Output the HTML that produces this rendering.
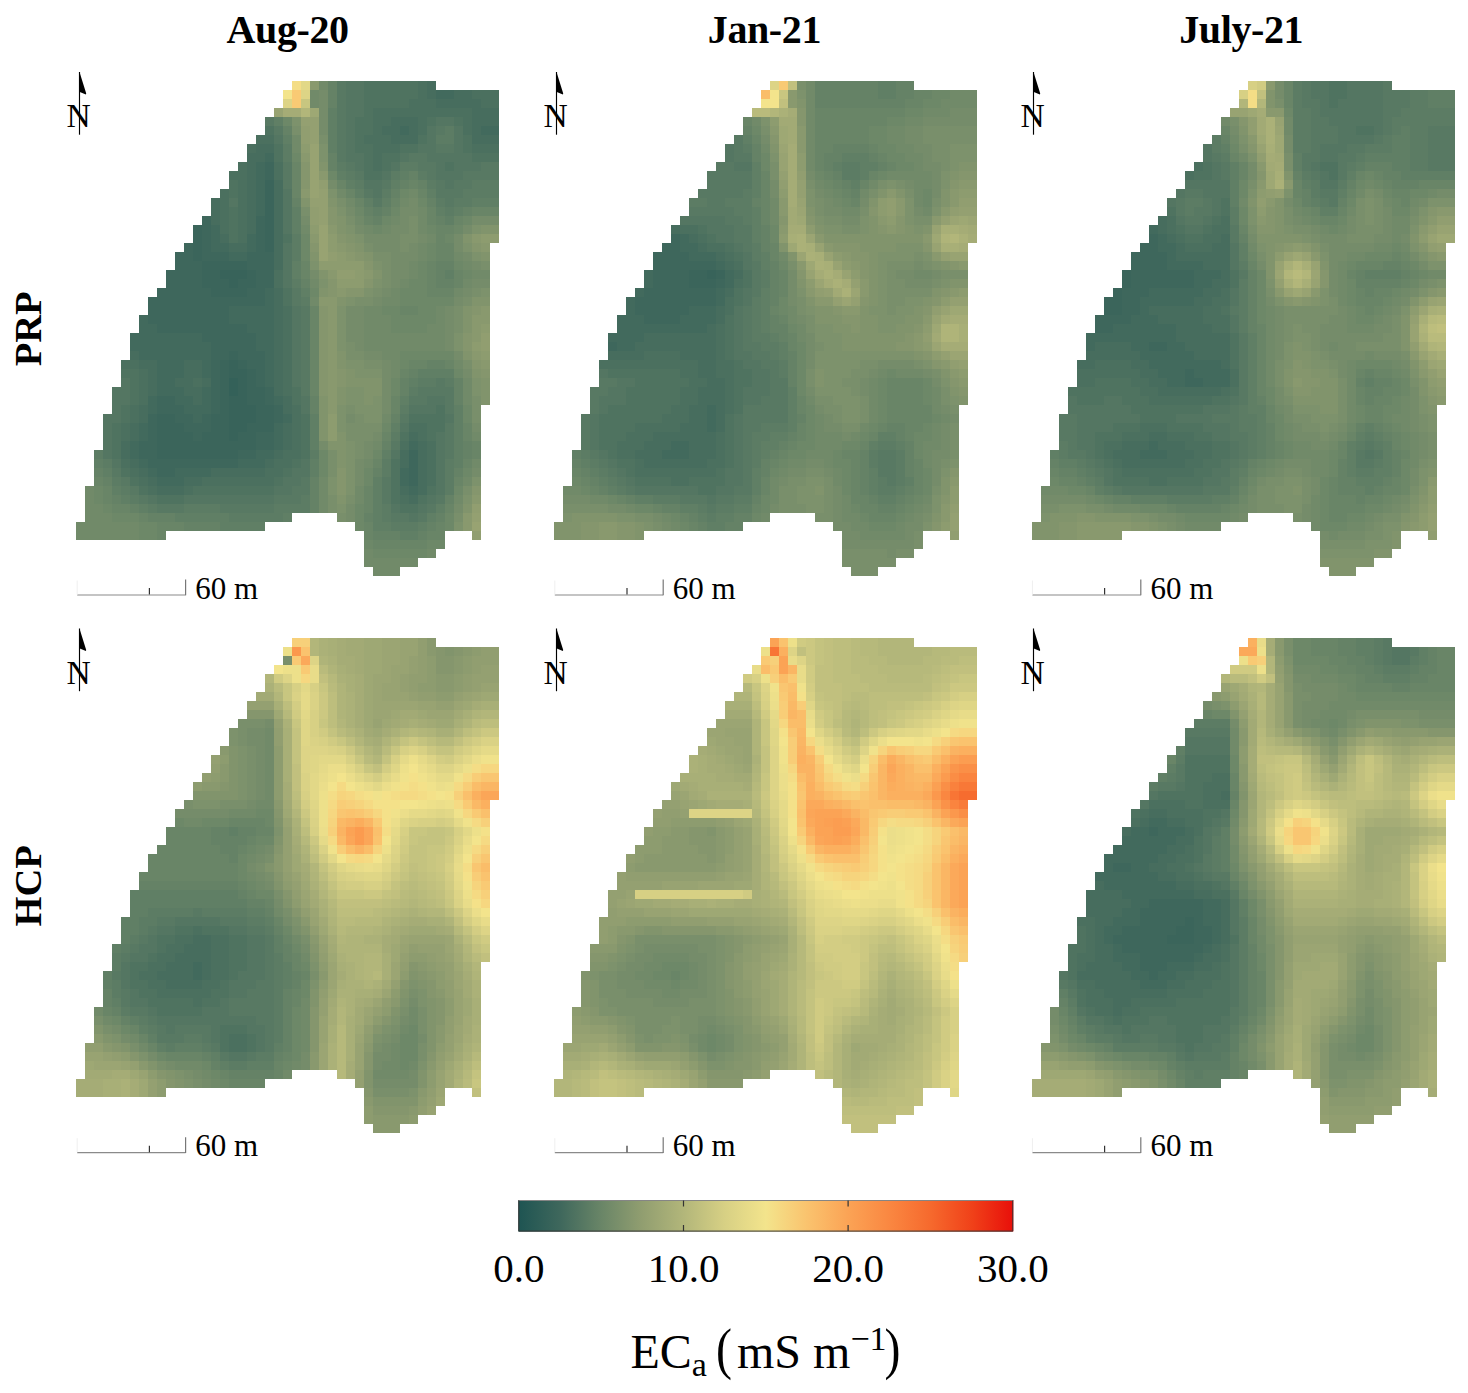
<!DOCTYPE html><html><head><meta charset="utf-8"><style>html,body{margin:0;padding:0;background:#fff;}svg{display:block;}</style></head><body><svg width="1468" height="1393" viewBox="0 0 1468 1393"><rect width="1468" height="1393" fill="#fff"/><text x="287.6" y="42.9" font-family="'Liberation Serif', serif" font-weight="bold" font-size="40" letter-spacing="-0.4" text-anchor="middle">Aug-20</text><text x="764.4" y="42.9" font-family="'Liberation Serif', serif" font-weight="bold" font-size="40" letter-spacing="-0.4" text-anchor="middle">Jan-21</text><text x="1241.2" y="42.9" font-family="'Liberation Serif', serif" font-weight="bold" font-size="40" letter-spacing="-0.4" text-anchor="middle">July-21</text><text transform="translate(41.4 328.8) rotate(-90)" font-family="'Liberation Serif', serif" font-weight="bold" font-size="38.6" text-anchor="middle">PRP</text><text transform="translate(41.4 885.8) rotate(-90)" font-family="'Liberation Serif', serif" font-weight="bold" font-size="38.6" text-anchor="middle">HCP</text><g transform="translate(76.2 81.4) scale(9)" shape-rendering="crispEdges"><path fill="#f4dd86" d="M24 0h1v1H24z"/><path fill="#e2d887" d="M25 0h1v1H25z"/><path fill="#89996e" d="M26 0h1v1H26zM25 8h1v1H25zM27 10h1v1H27zM25 12h1v1H25zM28 16h1v1H28zM26 17h1v1H26zM44 17h1v1H44zM29 18h1v1H29zM45 18h1v1H45zM30 19h1v1H30zM28 21h1v1H28zM32 21h1v1H32zM29 23h1v1H29zM27 24h2v1H27zM28 25h1v1H28zM45 25h1v1H45zM28 26h1v1H28zM44 26h2v1H44zM28 27h1v1H28zM44 27h1v1H44zM28 28h1v1H28zM44 28h1v1H44zM28 29h1v1H28zM28 30h1v1H28zM44 30h1v1H44zM28 31h1v1H28zM45 31h1v1H45zM28 32h1v1H28zM28 33h1v1H28zM28 34h1v1H28zM28 35h1v1H28zM28 36h1v1H28zM44 46h1v1H44zM43 48h1v1H43zM43 49h1v1H43z"/><path fill="#718a69" d="M27 0h1v1H27zM26 1h1v1H26zM26 2h1v1H26zM24 6h1v1H24zM24 7h1v1H24zM29 12h1v1H29zM37 12h1v1H37zM30 13h1v1H30zM36 13h1v1H36zM38 14h1v1H38zM31 15h1v1H31zM35 15h1v1H35zM38 15h1v1H38zM25 16h1v1H25zM32 16h1v1H32zM34 16h1v1H34zM38 16h1v1H38zM39 17h1v1H39zM38 18h1v1H38zM38 19h1v1H38zM42 19h1v1H42zM37 20h1v1H37zM43 20h1v1H43zM37 21h1v1H37zM44 21h2v1H44zM26 22h1v1H26zM36 22h1v1H36zM43 22h1v1H43zM35 23h1v1H35zM42 23h1v1H42zM26 24h1v1H26zM34 24h2v1H34zM32 25h2v1H32zM40 25h1v1H40zM32 26h3v1H32zM40 26h1v1H40zM32 27h3v1H32zM39 27h2v1H39zM32 28h9v1H32zM32 29h9v1H32zM34 30h2v1H34zM35 31h1v1H35zM42 31h1v1H42zM35 32h1v1H35zM43 33h1v1H43zM43 34h1v1H43zM43 35h1v1H43zM34 37h1v1H34zM44 39h1v1H44zM33 40h1v1H33zM32 42h1v1H32zM44 42h1v1H44zM27 44h1v1H27zM43 44h1v1H43zM1 45h1v1H1zM27 45h1v1H27zM31 45h1v1H31zM1 46h1v1H1zM27 46h1v1H27zM31 46h1v1H31zM42 46h1v1H42zM1 47h2v1H1zM27 47h1v1H27zM1 48h3v1H1zM0 49h7v1H0zM0 50h7v1H0zM32 52h1v1H32zM39 52h1v1H39zM32 53h6v1H32zM33 54h3v1H33z"/><path fill="#658266" d="M28 0h1v1H28zM28 1h1v1H28zM28 2h1v1H28zM23 5h1v1H23zM28 8h1v1H28zM28 9h1v1H28zM37 10h1v1H37zM36 11h1v1H36zM38 11h1v1H38zM35 12h1v1H35zM24 13h1v1H24zM39 13h1v1H39zM32 14h1v1H32zM34 14h1v1H34zM43 14h1v1H43zM33 15h1v1H33zM40 15h1v1H40zM40 20h2v1H40zM40 21h1v1H40zM25 22h1v1H25zM40 22h2v1H40zM39 31h2v1H39zM37 32h1v1H37zM36 33h1v1H36zM42 33h1v1H42zM36 34h1v1H36zM42 34h1v1H42zM26 35h1v1H26zM42 35h1v1H42zM26 36h1v1H26zM35 37h1v1H35zM34 40h1v1H34zM43 40h1v1H43zM43 41h1v1H43zM2 43h1v1H2zM33 43h1v1H33zM42 43h1v1H42zM3 44h1v1H3zM26 44h1v1H26zM26 45h1v1H26zM4 46h1v1H4zM26 46h1v1H26zM41 46h1v1H41zM6 47h1v1H6zM26 47h1v1H26zM8 48h3v1H8zM32 48h1v1H32zM40 48h1v1H40zM12 49h4v1H12zM39 49h1v1H39zM33 50h3v1H33zM38 50h1v1H38z"/><path fill="#587963" d="M29 0h1v1H29zM29 1h1v1H29zM29 2h1v1H29zM29 3h1v1H29zM21 4h1v1H21zM29 4h1v1H29zM22 5h1v1H22zM29 5h1v1H29zM40 5h1v1H40zM29 6h1v1H29zM29 7h1v1H29zM40 7h2v1H40zM29 8h1v1H29zM37 8h2v1H37zM23 9h1v1H23zM30 9h1v1H30zM38 9h2v1H38zM45 9h2v1H45zM23 10h1v1H23zM31 10h1v1H31zM39 10h1v1H39zM43 10h4v1H43zM23 11h1v1H23zM34 11h1v1H34zM40 11h1v1H40zM42 11h2v1H42zM32 12h1v1H32zM40 12h3v1H40zM33 13h1v1H33zM41 13h1v1H41zM24 23h1v1H24zM24 24h1v1H24zM25 25h1v1H25zM25 26h1v1H25zM25 27h1v1H25zM25 28h1v1H25zM25 29h1v1H25zM25 30h1v1H25zM25 31h1v1H25zM25 32h1v1H25zM25 33h1v1H25zM40 33h1v1H40zM25 34h1v1H25zM38 34h4v1H38zM37 35h2v1H37zM41 35h1v1H41zM41 36h1v1H41zM36 37h1v1H36zM41 38h1v1H41zM41 39h1v1H41zM35 40h1v1H35zM41 40h1v1H41zM41 41h1v1H41zM4 43h1v1H4zM5 44h1v1H5zM25 44h1v1H25zM34 44h1v1H34zM6 45h1v1H6zM24 45h2v1H24zM34 45h1v1H34zM7 46h1v1H7zM22 46h3v1H22zM34 46h1v1H34zM40 46h1v1H40zM9 47h3v1H9zM16 47h6v1H16zM39 47h1v1H39zM35 48h2v1H35zM38 48h1v1H38z"/><path fill="#547662" d="M30 0h2v1H30zM30 1h2v1H30zM30 2h2v1H30zM30 3h2v1H30zM30 4h1v1H30zM40 4h2v1H40zM30 5h1v1H30zM39 5h1v1H39zM42 5h1v1H42zM22 6h1v1H22zM30 6h1v1H30zM39 6h1v1H39zM42 6h1v1H42zM30 7h1v1H30zM38 7h2v1H38zM42 7h1v1H42zM30 8h2v1H30zM36 8h1v1H36zM39 8h5v1H39zM31 9h1v1H31zM35 9h1v1H35zM40 9h1v1H40zM42 9h3v1H42zM34 10h1v1H34zM40 10h3v1H40zM32 11h2v1H32zM41 11h1v1H41zM23 12h1v1H23zM33 12h1v1H33zM17 13h1v1H17zM23 13h1v1H23zM23 14h1v1H23zM23 15h1v1H23zM23 16h1v1H23zM23 18h1v1H23zM23 19h1v1H23zM23 20h1v1H23zM23 21h1v1H23zM23 22h1v1H23zM24 25h1v1H24zM24 26h1v1H24zM24 27h1v1H24zM24 28h1v1H24zM24 29h1v1H24zM24 30h1v1H24zM24 31h1v1H24zM24 32h1v1H24zM5 33h1v1H5zM24 33h1v1H24zM4 34h2v1H4zM4 35h2v1H4zM25 35h1v1H25zM39 35h2v1H39zM4 36h1v1H4zM25 36h1v1H25zM37 36h3v1H37zM3 37h2v1H3zM41 37h1v1H41zM3 38h1v1H3zM36 38h1v1H36zM3 39h1v1H3zM40 39h1v1H40zM3 40h1v1H3zM40 40h1v1H40zM3 41h1v1H3zM35 41h1v1H35zM40 41h1v1H40zM4 42h1v1H4zM25 42h1v1H25zM40 42h1v1H40zM24 43h2v1H24zM40 43h1v1H40zM23 44h2v1H23zM40 44h1v1H40zM22 45h2v1H22zM40 45h1v1H40zM8 46h1v1H8zM12 46h10v1H12zM39 46h1v1H39zM35 47h1v1H35zM38 47h1v1H38zM37 48h1v1H37z"/><path fill="#4f7360" d="M32 0h6v1H32zM32 1h6v1H32zM32 2h5v1H32zM32 3h1v1H32zM31 4h2v1H31zM39 4h1v1H39zM42 4h1v1H42zM21 5h1v1H21zM31 5h2v1H31zM31 6h1v1H31zM38 6h1v1H38zM43 6h1v1H43zM22 7h1v1H22zM31 7h2v1H31zM36 7h2v1H36zM43 7h1v1H43zM22 8h1v1H22zM32 8h1v1H32zM34 8h2v1H34zM44 8h3v1H44zM32 9h1v1H32zM34 9h1v1H34zM41 9h1v1H41zM32 10h2v1H32zM17 11h1v1H17zM17 12h1v1H17zM17 14h1v1H17zM17 15h1v1H17zM17 16h1v1H17zM17 17h1v1H17zM23 17h1v1H23zM23 23h1v1H23zM23 24h1v1H23zM5 32h2v1H5zM6 33h1v1H6zM6 34h1v1H6zM24 34h1v1H24zM6 35h1v1H6zM24 35h1v1H24zM5 36h1v1H5zM40 36h1v1H40zM5 37h1v1H5zM25 37h1v1H25zM37 37h4v1H37zM4 38h1v1H4zM25 38h1v1H25zM39 38h2v1H39zM4 39h1v1H4zM25 39h1v1H25zM36 39h1v1H36zM39 39h1v1H39zM4 40h1v1H4zM25 40h1v1H25zM4 41h1v1H4zM25 41h1v1H25zM24 42h1v1H24zM35 42h1v1H35zM5 43h1v1H5zM23 43h1v1H23zM35 43h1v1H35zM6 44h1v1H6zM22 44h1v1H22zM35 44h1v1H35zM7 45h1v1H7zM13 45h9v1H13zM35 45h1v1H35zM39 45h1v1H39zM9 46h3v1H9zM35 46h1v1H35zM38 46h1v1H38zM36 47h2v1H36z"/><path fill="#4b705f" d="M38 0h1v1H38zM38 1h1v1H38zM44 1h3v1H44zM37 2h3v1H37zM45 2h2v1H45zM33 3h11v1H33zM33 4h2v1H33zM38 4h1v1H38zM43 4h1v1H43zM33 5h1v1H33zM38 5h1v1H38zM43 5h1v1H43zM20 6h2v1H20zM32 6h3v1H32zM19 7h1v1H19zM33 7h3v1H33zM44 7h3v1H44zM33 8h1v1H33zM18 9h1v1H18zM22 9h1v1H22zM33 9h1v1H33zM17 10h2v1H17zM22 10h1v1H22zM18 11h1v1H18zM16 12h1v1H16zM18 12h1v1H18zM16 13h1v1H16zM18 13h1v1H18zM16 14h1v1H16zM18 14h1v1H18zM16 15h1v1H16zM18 15h1v1H18zM16 16h1v1H16zM18 16h1v1H18zM18 17h1v1H18zM22 21h1v1H22zM22 22h1v1H22zM23 25h1v1H23zM23 26h1v1H23zM23 27h1v1H23zM23 28h1v1H23zM23 29h1v1H23zM23 30h1v1H23zM5 31h2v1H5zM23 31h1v1H23zM7 32h1v1H7zM23 32h1v1H23zM7 33h1v1H7zM13 33h1v1H13zM23 33h1v1H23zM7 34h1v1H7zM23 34h1v1H23zM7 35h1v1H7zM6 36h1v1H6zM24 36h1v1H24zM6 37h1v1H6zM24 37h1v1H24zM5 38h1v1H5zM24 38h1v1H24zM37 38h2v1H37zM5 39h1v1H5zM24 39h1v1H24zM38 39h1v1H38zM24 40h1v1H24zM36 40h1v1H36zM39 40h1v1H39zM23 41h2v1H23zM39 41h1v1H39zM5 42h1v1H5zM22 42h2v1H22zM39 42h1v1H39zM6 43h1v1H6zM21 43h2v1H21zM39 43h1v1H39zM7 44h1v1H7zM14 44h8v1H14zM39 44h1v1H39zM8 45h1v1H8zM12 45h1v1H12zM36 46h1v1H36z"/><path fill="#476d5e" d="M39 0h1v1H39zM39 1h1v1H39zM42 1h2v1H42zM40 2h5v1H40zM44 3h3v1H44zM35 4h3v1H35zM44 4h3v1H44zM34 5h2v1H34zM37 5h1v1H37zM44 5h1v1H44zM35 6h3v1H35zM44 6h3v1H44zM20 7h2v1H20zM19 8h2v1H19zM19 9h1v1H19zM19 10h1v1H19zM19 11h1v1H19zM22 11h1v1H22zM19 12h1v1H19zM22 12h1v1H22zM15 13h1v1H15zM19 13h1v1H19zM22 13h1v1H22zM15 14h1v1H15zM19 14h1v1H19zM22 14h1v1H22zM15 15h1v1H15zM19 15h1v1H19zM22 15h1v1H22zM19 16h1v1H19zM22 16h1v1H22zM16 17h1v1H16zM22 17h1v1H22zM17 18h2v1H17zM22 18h1v1H22zM22 19h1v1H22zM22 20h1v1H22zM22 23h1v1H22zM22 24h1v1H22zM22 25h1v1H22zM22 26h1v1H22zM22 27h1v1H22zM22 28h1v1H22zM22 29h1v1H22zM6 30h1v1H6zM22 30h1v1H22zM7 31h2v1H7zM12 31h2v1H12zM22 31h1v1H22zM8 32h1v1H8zM12 32h2v1H12zM22 32h1v1H22zM8 33h1v1H8zM11 33h2v1H11zM14 33h1v1H14zM22 33h1v1H22zM8 34h1v1H8zM12 34h2v1H12zM22 34h1v1H22zM13 35h1v1H13zM23 35h1v1H23zM7 36h1v1H7zM23 36h1v1H23zM7 37h1v1H7zM6 38h1v1H6zM23 38h1v1H23zM6 39h1v1H6zM23 39h1v1H23zM37 39h1v1H37zM5 40h1v1H5zM23 40h1v1H23zM38 40h1v1H38zM5 41h1v1H5zM22 41h1v1H22zM36 41h1v1H36zM38 41h1v1H38zM6 42h1v1H6zM21 42h1v1H21zM36 42h1v1H36zM38 42h1v1H38zM7 43h1v1H7zM15 43h6v1H15zM38 43h1v1H38zM8 44h1v1H8zM12 44h2v1H12zM38 44h1v1H38zM9 45h3v1H9zM36 45h1v1H36zM38 45h1v1H38zM37 46h1v1H37z"/><path fill="#f3e48c" d="M23 1h1v1H23z"/><path fill="#f9ca74" d="M24 1h1v1H24zM24 2h1v1H24z"/><path fill="#ddd486" d="M25 1h1v1H25zM23 2h1v1H23z"/><path fill="#758c6a" d="M27 1h1v1H27zM27 2h1v1H27zM27 3h1v1H27zM27 4h1v1H27zM27 5h1v1H27zM28 11h1v1H28zM37 13h1v1H37zM30 14h1v1H30zM36 14h2v1H36zM25 15h1v1H25zM36 15h1v1H36zM44 15h3v1H44zM31 16h1v1H31zM35 16h2v1H35zM43 16h1v1H43zM32 17h4v1H32zM38 17h1v1H38zM42 17h1v1H42zM33 18h3v1H33zM37 18h1v1H37zM42 18h1v1H42zM35 19h3v1H35zM43 19h1v1H43zM35 20h2v1H35zM44 20h1v1H44zM26 21h1v1H26zM35 21h2v1H35zM35 22h1v1H35zM44 22h2v1H44zM34 23h1v1H34zM43 23h1v1H43zM33 24h1v1H33zM42 24h1v1H42zM30 25h2v1H30zM41 25h1v1H41zM30 26h2v1H30zM41 26h1v1H41zM30 27h2v1H30zM41 27h1v1H41zM30 28h2v1H30zM41 28h1v1H41zM31 29h1v1H31zM41 29h1v1H41zM32 30h2v1H32zM42 30h1v1H42zM34 31h1v1H34zM34 32h1v1H34zM43 32h1v1H43zM34 33h1v1H34zM34 34h1v1H34zM34 35h1v1H34zM34 36h1v1H34zM30 37h1v1H30zM44 38h1v1H44zM33 39h1v1H33zM27 40h1v1H27zM32 40h1v1H32zM32 41h1v1H32zM31 42h1v1H31zM31 43h1v1H31zM44 43h1v1H44zM31 44h1v1H31zM30 47h1v1H30zM42 47h1v1H42zM30 48h1v1H30z"/><path fill="#426a5d" d="M40 1h2v1H40zM36 5h1v1H36zM45 5h2v1H45zM21 8h1v1H21zM20 9h1v1H20zM20 10h1v1H20zM20 11h1v1H20zM20 12h1v1H20zM20 13h1v1H20zM20 14h1v1H20zM15 16h1v1H15zM15 17h1v1H15zM19 17h1v1H19zM15 18h2v1H15zM19 18h1v1H19zM17 19h2v1H17zM21 23h1v1H21zM21 24h1v1H21zM17 25h5v1H17zM7 26h1v1H7zM17 26h5v1H17zM7 27h2v1H7zM19 27h3v1H19zM6 28h8v1H6zM20 28h2v1H20zM6 29h9v1H6zM20 29h2v1H20zM7 30h8v1H7zM21 30h1v1H21zM9 31h3v1H9zM14 31h1v1H14zM21 31h1v1H21zM9 32h3v1H9zM14 32h1v1H14zM21 32h1v1H21zM9 33h2v1H9zM21 33h1v1H21zM9 34h3v1H9zM14 34h1v1H14zM8 35h1v1H8zM11 35h2v1H11zM14 35h1v1H14zM22 35h1v1H22zM8 36h1v1H8zM12 36h3v1H12zM13 37h1v1H13zM23 37h1v1H23zM7 38h1v1H7zM22 38h1v1H22zM7 39h1v1H7zM22 39h1v1H22zM6 40h1v1H6zM22 40h1v1H22zM37 40h1v1H37zM6 41h1v1H6zM20 41h2v1H20zM7 42h1v1H7zM18 42h3v1H18zM8 43h1v1H8zM11 43h4v1H11zM36 43h1v1H36zM9 44h3v1H9zM36 44h1v1H36zM37 45h1v1H37z"/><path fill="#c8c680" d="M25 2h1v1H25z"/><path fill="#98a372" d="M22 3h1v1H22zM26 7h1v1H26zM26 8h1v1H26zM26 9h1v1H26zM26 10h1v1H26zM26 11h1v1H26zM26 12h1v1H26zM27 16h1v1H27zM27 17h1v1H27zM27 18h1v1H27zM27 19h1v1H27zM44 49h1v1H44z"/><path fill="#a5ac76" d="M23 3h2v1H23z"/><path fill="#b2b67a" d="M25 3h1v1H25z"/><path fill="#9ea874" d="M26 3h1v1H26z"/><path fill="#607f65" d="M28 3h1v1H28zM22 4h1v1H22zM28 4h1v1H28zM28 5h1v1H28zM23 6h1v1H23zM28 6h1v1H28zM28 7h1v1H28zM29 10h1v1H29zM36 10h1v1H36zM30 11h1v1H30zM35 11h1v1H35zM31 12h1v1H31zM39 12h1v1H39zM32 13h1v1H32zM34 13h1v1H34zM44 13h3v1H44zM24 14h1v1H24zM33 14h1v1H33zM40 14h1v1H40zM42 14h1v1H42zM24 15h1v1H24zM41 15h1v1H41zM24 16h1v1H24zM24 20h1v1H24zM24 21h1v1H24zM41 21h1v1H41zM25 23h1v1H25zM38 32h4v1H38zM37 33h1v1H37zM36 35h1v1H36zM42 36h1v1H42zM26 37h1v1H26zM42 37h1v1H42zM26 38h1v1H26zM35 38h1v1H35zM42 38h1v1H42zM26 39h1v1H26zM42 39h1v1H42zM26 40h1v1H26zM42 40h1v1H42zM34 41h1v1H34zM42 41h1v1H42zM2 42h1v1H2zM26 42h1v1H26zM42 42h1v1H42zM3 43h1v1H3zM26 43h1v1H26zM33 44h1v1H33zM4 45h1v1H4zM33 45h1v1H33zM5 46h1v1H5zM33 46h1v1H33zM7 47h1v1H7zM33 47h1v1H33zM40 47h1v1H40zM11 48h6v1H11zM23 48h1v1H23zM33 48h1v1H33zM39 48h1v1H39zM16 49h5v1H16zM33 49h2v1H33zM38 49h1v1H38zM36 50h2v1H36z"/><path fill="#6d8868" d="M23 4h1v1H23zM24 8h1v1H24zM28 10h1v1H28zM36 12h1v1H36zM38 13h1v1H38zM31 14h1v1H31zM35 14h1v1H35zM34 15h1v1H34zM43 15h1v1H43zM33 16h1v1H33zM39 16h1v1H39zM42 16h1v1H42zM25 17h1v1H25zM41 17h1v1H41zM25 18h1v1H25zM39 18h1v1H39zM25 19h1v1H25zM39 19h1v1H39zM38 20h1v1H38zM42 20h1v1H42zM38 21h1v1H38zM43 21h1v1H43zM37 22h2v1H37zM26 23h1v1H26zM36 23h3v1H36zM36 24h6v1H36zM34 25h2v1H34zM38 25h2v1H38zM35 26h5v1H35zM35 27h4v1H35zM36 30h6v1H36zM36 31h1v1H36zM42 32h1v1H42zM35 33h1v1H35zM35 34h1v1H35zM43 36h1v1H43zM43 37h1v1H43zM34 38h1v1H34zM27 41h1v1H27zM33 41h1v1H33zM27 42h1v1H27zM27 43h1v1H27zM32 43h1v1H32zM43 43h1v1H43zM32 44h1v1H32zM2 45h1v1H2zM42 45h1v1H42zM2 46h1v1H2zM3 47h1v1H3zM31 47h1v1H31zM4 48h3v1H4zM31 48h1v1H31zM41 48h1v1H41zM7 49h2v1H7zM31 49h1v1H31zM41 49h1v1H41zM7 50h2v1H7zM32 51h1v1H32zM39 51h2v1H39zM33 52h6v1H33z"/><path fill="#7d926c" d="M24 4h1v1H24zM27 7h1v1H27zM27 8h1v1H27zM28 12h1v1H28zM29 14h1v1H29zM30 16h1v1H30zM44 16h1v1H44zM31 17h1v1H31zM43 18h1v1H43zM44 19h1v1H44zM26 20h1v1H26zM33 20h1v1H33zM27 22h1v1H27zM33 22h1v1H33zM32 23h1v1H32zM45 23h1v1H45zM30 24h1v1H30zM29 25h1v1H29zM29 26h1v1H29zM29 27h1v1H29zM29 28h1v1H29zM42 28h1v1H42zM29 29h1v1H29zM42 29h1v1H42zM30 31h2v1H30zM31 32h3v1H31zM44 33h1v1H44zM30 34h2v1H30zM44 34h1v1H44zM30 35h2v1H30zM33 35h1v1H33zM29 36h1v1H29zM31 36h3v1H31zM29 37h1v1H29zM32 37h2v1H32zM29 38h1v1H29zM30 40h1v1H30zM30 41h1v1H30zM30 42h1v1H30zM30 43h1v1H30zM28 44h1v1H28zM30 44h1v1H30zM44 44h1v1H44zM28 45h1v1H28zM30 45h1v1H30zM43 46h1v1H43zM29 47h1v1H29zM42 49h1v1H42z"/><path fill="#94a071" d="M25 4h2v1H25zM26 5h1v1H26zM26 6h1v1H26zM27 12h1v1H27zM26 13h2v1H26zM27 14h1v1H27zM27 15h1v1H27zM44 48h1v1H44z"/><path fill="#798f6b" d="M24 5h1v1H24zM27 6h1v1H27zM29 13h1v1H29zM25 14h1v1H25zM30 15h1v1H30zM37 15h1v1H37zM37 16h1v1H37zM36 17h2v1H36zM32 18h1v1H32zM36 18h1v1H36zM33 19h2v1H33zM34 20h1v1H34zM45 20h1v1H45zM34 21h1v1H34zM34 22h1v1H34zM33 23h1v1H33zM44 23h1v1H44zM31 24h2v1H31zM43 24h1v1H43zM42 25h1v1H42zM42 26h1v1H42zM42 27h1v1H42zM30 29h1v1H30zM30 30h2v1H30zM32 31h2v1H32zM43 31h1v1H43zM44 35h1v1H44zM30 36h1v1H30zM44 36h1v1H44zM31 37h1v1H31zM44 37h1v1H44zM30 38h4v1H30zM30 39h3v1H30zM31 40h1v1H31zM28 41h1v1H28zM31 41h1v1H31zM28 42h1v1H28zM28 43h1v1H28zM43 45h1v1H43zM28 46h1v1H28zM30 46h1v1H30zM28 47h1v1H28zM29 48h1v1H29zM42 48h1v1H42z"/><path fill="#919e70" d="M25 5h1v1H25zM25 6h1v1H25zM27 11h1v1H27zM26 14h1v1H26zM26 15h1v1H26zM28 19h1v1H28zM29 21h2v1H29zM45 28h1v1H45zM45 29h1v1H45zM44 47h1v1H44zM44 50h1v1H44z"/><path fill="#5c7c64" d="M41 5h1v1H41zM40 6h2v1H40zM23 7h1v1H23zM23 8h1v1H23zM29 9h1v1H29zM36 9h2v1H36zM30 10h1v1H30zM35 10h1v1H35zM38 10h1v1H38zM31 11h1v1H31zM39 11h1v1H39zM44 11h3v1H44zM34 12h1v1H34zM43 12h4v1H43zM40 13h1v1H40zM42 13h2v1H42zM41 14h1v1H41zM24 17h1v1H24zM24 18h1v1H24zM24 19h1v1H24zM24 22h1v1H24zM25 24h1v1H25zM38 33h2v1H38zM41 33h1v1H41zM37 34h1v1H37zM36 36h1v1H36zM35 39h1v1H35zM2 41h1v1H2zM26 41h1v1H26zM3 42h1v1H3zM34 42h1v1H34zM41 42h1v1H41zM34 43h1v1H34zM41 43h1v1H41zM4 44h1v1H4zM41 44h1v1H41zM5 45h1v1H5zM41 45h1v1H41zM6 46h1v1H6zM25 46h1v1H25zM8 47h1v1H8zM12 47h4v1H12zM22 47h4v1H22zM34 47h1v1H34zM17 48h6v1H17zM34 48h1v1H34zM35 49h3v1H35z"/><path fill="#8d9c6f" d="M25 7h1v1H25zM26 16h1v1H26zM28 17h1v1H28zM45 17h2v1H45zM28 18h1v1H28zM29 19h1v1H29zM27 20h5v1H27zM31 21h1v1H31zM29 22h3v1H29zM45 27h1v1H45zM44 29h1v1H44zM45 30h1v1H45zM28 37h1v1H28zM28 38h1v1H28zM28 39h1v1H28z"/><path fill="#3e675c" d="M21 9h1v1H21zM21 10h1v1H21zM14 15h1v1H14zM20 15h1v1H20zM14 16h1v1H14zM20 16h1v1H20zM14 17h1v1H14zM20 17h1v1H20zM12 18h1v1H12zM14 18h1v1H14zM20 18h1v1H20zM11 19h2v1H11zM14 19h3v1H14zM19 19h3v1H19zM11 20h3v1H11zM19 20h3v1H19zM10 21h4v1H10zM20 21h2v1H20zM10 22h4v1H10zM20 22h2v1H20zM9 23h6v1H9zM19 23h2v1H19zM8 24h13v1H8zM8 25h9v1H8zM8 26h9v1H8zM9 27h10v1H9zM14 28h6v1H14zM15 29h5v1H15zM15 30h2v1H15zM18 30h3v1H18zM15 31h1v1H15zM19 31h2v1H19zM15 32h1v1H15zM20 32h1v1H20zM15 33h1v1H15zM20 33h1v1H20zM15 34h1v1H15zM21 34h1v1H21zM9 35h2v1H9zM15 35h1v1H15zM21 35h1v1H21zM9 36h3v1H9zM15 36h1v1H15zM22 36h1v1H22zM8 37h1v1H8zM11 37h2v1H11zM14 37h1v1H14zM22 37h1v1H22zM8 38h1v1H8zM12 38h3v1H12zM8 39h1v1H8zM13 39h1v1H13zM20 39h2v1H20zM7 40h2v1H7zM20 40h2v1H20zM7 41h2v1H7zM18 41h2v1H18zM37 41h1v1H37zM8 42h10v1H8zM37 42h1v1H37zM9 43h2v1H9zM37 43h1v1H37zM37 44h1v1H37z"/><path fill="#698567" d="M24 9h1v1H24zM24 10h1v1H24zM24 11h1v1H24zM29 11h1v1H29zM37 11h1v1H37zM24 12h1v1H24zM30 12h1v1H30zM38 12h1v1H38zM31 13h1v1H31zM35 13h1v1H35zM39 14h1v1H39zM44 14h3v1H44zM32 15h1v1H32zM39 15h1v1H39zM42 15h1v1H42zM40 16h2v1H40zM40 17h1v1H40zM40 18h2v1H40zM40 19h2v1H40zM25 20h1v1H25zM39 20h1v1H39zM25 21h1v1H25zM39 21h1v1H39zM42 21h1v1H42zM39 22h1v1H39zM42 22h1v1H42zM39 23h3v1H39zM26 25h1v1H26zM36 25h2v1H36zM26 26h1v1H26zM26 27h1v1H26zM26 28h1v1H26zM26 29h1v1H26zM26 30h1v1H26zM26 31h1v1H26zM37 31h2v1H37zM41 31h1v1H41zM26 32h1v1H26zM36 32h1v1H36zM26 33h1v1H26zM26 34h1v1H26zM35 35h1v1H35zM35 36h1v1H35zM43 38h1v1H43zM34 39h1v1H34zM43 39h1v1H43zM44 40h1v1H44zM44 41h1v1H44zM33 42h1v1H33zM43 42h1v1H43zM2 44h1v1H2zM42 44h1v1H42zM3 45h1v1H3zM32 45h1v1H32zM3 46h1v1H3zM32 46h1v1H32zM4 47h2v1H4zM32 47h1v1H32zM41 47h1v1H41zM7 48h1v1H7zM9 49h3v1H9zM32 49h1v1H32zM40 49h1v1H40zM9 50h1v1H9zM32 50h1v1H32zM39 50h2v1H39zM33 51h6v1H33z"/><path fill="#85966d" d="M25 9h1v1H25zM25 10h1v1H25zM25 11h1v1H25zM28 14h1v1H28zM28 15h1v1H28zM29 17h1v1H29zM26 18h1v1H26zM30 18h1v1H30zM44 18h1v1H44zM31 19h1v1H31zM32 20h1v1H32zM28 22h1v1H28zM32 22h1v1H32zM28 23h1v1H28zM30 23h2v1H30zM27 25h1v1H27zM44 25h1v1H44zM27 26h1v1H27zM27 27h1v1H27zM27 28h1v1H27zM43 28h1v1H43zM27 29h1v1H27zM43 29h1v1H43zM27 30h1v1H27zM27 31h1v1H27zM44 31h1v1H44zM27 32h1v1H27zM29 32h1v1H29zM45 32h1v1H45zM27 33h1v1H27zM29 33h1v1H29zM27 34h1v1H27zM29 43h1v1H29zM29 44h1v1H29zM29 45h1v1H29zM44 45h1v1H44z"/><path fill="#81946c" d="M27 9h1v1H27zM25 13h1v1H25zM28 13h1v1H28zM29 15h1v1H29zM29 16h1v1H29zM45 16h2v1H45zM30 17h1v1H30zM43 17h1v1H43zM31 18h1v1H31zM26 19h1v1H26zM32 19h1v1H32zM45 19h1v1H45zM27 21h1v1H27zM33 21h1v1H33zM27 23h1v1H27zM29 24h1v1H29zM44 24h2v1H44zM43 25h1v1H43zM43 26h1v1H43zM43 27h1v1H43zM29 30h1v1H29zM43 30h1v1H43zM29 31h1v1H29zM30 32h1v1H30zM44 32h1v1H44zM30 33h4v1H30zM45 33h1v1H45zM29 34h1v1H29zM32 34h2v1H32zM45 34h1v1H45zM27 35h1v1H27zM29 35h1v1H29zM32 35h1v1H32zM45 35h1v1H45zM27 36h1v1H27zM27 37h1v1H27zM27 38h1v1H27zM27 39h1v1H27zM29 39h1v1H29zM28 40h2v1H28zM29 41h1v1H29zM29 42h1v1H29zM29 46h1v1H29zM43 47h1v1H43z"/><path fill="#3b655b" d="M21 11h1v1H21zM21 12h1v1H21zM21 13h1v1H21zM21 14h1v1H21zM21 15h1v1H21zM13 16h1v1H13zM21 16h1v1H21zM13 17h1v1H13zM21 17h1v1H21zM13 18h1v1H13zM21 18h1v1H21zM13 19h1v1H13zM14 20h5v1H14zM14 21h2v1H14zM19 21h1v1H19zM14 22h3v1H14zM18 22h2v1H18zM15 23h4v1H15zM17 30h1v1H17zM16 31h1v1H16zM18 31h1v1H18zM16 32h1v1H16zM19 32h1v1H19zM16 33h1v1H16zM19 33h1v1H19zM16 34h1v1H16zM19 34h2v1H19zM16 35h1v1H16zM19 35h2v1H19zM16 36h1v1H16zM20 36h2v1H20zM9 37h2v1H9zM15 37h2v1H15zM20 37h2v1H20zM9 38h3v1H9zM15 38h2v1H15zM19 38h3v1H19zM9 39h4v1H9zM14 39h3v1H14zM18 39h2v1H18zM9 40h11v1H9zM9 41h9v1H9z"/><path fill="#38635a" d="M16 21h3v1H16zM17 22h1v1H17zM17 31h1v1H17zM17 32h2v1H17zM18 33h1v1H18zM18 34h1v1H18zM17 35h2v1H17zM17 36h3v1H17zM17 37h3v1H17zM17 38h2v1H17zM17 39h1v1H17z"/><path fill="#346159" d="M17 33h1v1H17zM17 34h1v1H17z"/></g><g transform="translate(79.5 72.0)"><path d="M0 0 L0 62.7" stroke="#000" stroke-width="1.15"/><path d="M0 0 L6.7 21.6 L6.4 22.6 L0.3 19.9 Z" fill="#000"/><text x="-0.8" y="55" font-family="'Liberation Serif', serif" font-size="33.5" text-anchor="middle" fill="#000">N</text></g><g transform="translate(77.2 594.5)"><path d="M0 0.5H108.4" stroke="#8a8a8a" stroke-width="1.2"/><path d="M0 -14V0" stroke="#efefef" stroke-width="1"/><path d="M72.2 -6.5V0" stroke="#333" stroke-width="1.2"/><path d="M108.4 -15V0.8" stroke="#777" stroke-width="1.2"/><text x="118" y="4" font-family="'Liberation Serif', serif" font-size="31" fill="#000">60 m</text></g><g transform="translate(554.0 81.4) scale(9)" shape-rendering="crispEdges"><path fill="#ddd486" d="M24 0h1v1H24z"/><path fill="#f9ca74" d="M25 0h1v1H25z"/><path fill="#c1c07e" d="M26 0h1v1H26zM25 2h1v1H25z"/><path fill="#798f6b" d="M27 0h1v1H27zM23 5h1v1H23zM41 5h6v1H41zM41 6h6v1H41zM42 7h2v1H42zM42 8h2v1H42zM24 9h1v1H24zM43 9h1v1H43zM24 10h1v1H24zM28 11h1v1H28zM36 11h1v1H36zM38 11h1v1H38zM35 12h1v1H35zM39 12h1v1H39zM29 13h1v1H29zM42 13h1v1H42zM29 14h1v1H29zM34 14h1v1H34zM30 15h2v1H30zM40 15h2v1H40zM32 16h2v1H32zM40 19h1v1H40zM26 20h1v1H26zM37 20h3v1H37zM41 20h1v1H41zM37 21h1v1H37zM43 21h3v1H43zM37 22h2v1H37zM42 22h1v1H42zM37 23h5v1H37zM27 24h1v1H27zM37 24h2v1H37zM27 25h1v1H27zM37 25h1v1H37zM28 26h1v1H28zM28 27h1v1H28zM29 29h1v1H29zM34 31h2v1H34zM40 31h1v1H40zM28 32h1v1H28zM33 32h2v1H33zM42 32h1v1H42zM28 33h1v1H28zM32 33h2v1H32zM33 34h1v1H33zM43 34h1v1H43zM29 35h2v1H29zM34 35h1v1H34zM43 35h1v1H43zM30 36h2v1H30zM34 36h1v1H34zM44 36h1v1H44zM31 37h1v1H31zM34 37h1v1H34zM32 38h2v1H32zM44 38h1v1H44zM44 39h1v1H44zM44 40h1v1H44zM44 41h1v1H44zM43 42h1v1H43zM28 43h2v1H28zM26 44h2v1H26zM30 44h1v1H30zM25 45h2v1H25zM30 45h1v1H30zM42 45h1v1H42zM25 46h2v1H25zM30 46h1v1H30zM1 47h5v1H1zM25 47h3v1H25zM30 47h1v1H30zM9 48h2v1H9zM29 48h2v1H29zM41 48h1v1H41zM11 49h1v1H11zM40 50h1v1H40zM40 51h1v1H40zM32 52h5v1H32zM38 52h2v1H38zM32 53h6v1H32zM33 54h3v1H33z"/><path fill="#718a69" d="M28 0h1v1H28zM28 1h1v1H28zM44 1h3v1H44zM28 2h1v1H28zM43 2h4v1H43zM28 3h1v1H28zM41 3h3v1H41zM22 4h1v1H22zM28 4h1v1H28zM39 4h2v1H39zM28 5h1v1H28zM37 5h2v1H37zM28 6h1v1H28zM37 6h2v1H37zM23 7h1v1H23zM28 7h1v1H28zM38 7h2v1H38zM28 8h1v1H28zM39 8h2v1H39zM28 9h1v1H28zM40 9h1v1H40zM37 10h5v1H37zM29 11h1v1H29zM35 11h1v1H35zM40 11h2v1H40zM30 12h1v1H30zM34 12h1v1H34zM40 12h1v1H40zM24 13h1v1H24zM31 13h1v1H31zM40 13h1v1H40zM24 14h1v1H24zM32 14h2v1H32zM41 14h1v1H41zM24 15h1v1H24zM25 19h1v1H25zM40 21h2v1H40zM26 25h1v1H26zM26 26h1v1H26zM27 27h1v1H27zM27 28h1v1H27zM36 32h1v1H36zM38 32h3v1H38zM35 33h1v1H35zM35 34h1v1H35zM42 34h1v1H42zM28 35h1v1H28zM35 35h1v1H35zM42 35h1v1H42zM35 36h1v1H35zM42 36h1v1H42zM29 37h1v1H29zM35 37h1v1H35zM43 37h1v1H43zM29 38h1v1H29zM34 38h1v1H34zM42 38h1v1H42zM29 39h3v1H29zM33 39h1v1H33zM42 39h1v1H42zM29 40h3v1H29zM41 40h2v1H41zM28 41h3v1H28zM41 41h1v1H41zM26 42h2v1H26zM30 42h1v1H30zM41 42h1v1H41zM25 43h1v1H25zM31 43h1v1H31zM24 44h1v1H24zM31 44h1v1H31zM1 45h2v1H1zM24 45h1v1H24zM4 46h2v1H4zM24 46h1v1H24zM32 46h1v1H32zM41 46h1v1H41zM8 47h1v1H8zM32 47h1v1H32zM40 47h1v1H40zM12 48h1v1H12zM23 48h1v1H23zM32 48h2v1H32zM39 48h1v1H39zM13 49h1v1H13zM33 49h2v1H33zM38 49h1v1H38zM34 50h5v1H34z"/><path fill="#658266" d="M29 0h7v1H29zM38 0h2v1H38zM29 1h7v1H29zM38 1h2v1H38zM29 2h10v1H29zM21 5h1v1H21zM22 7h1v1H22zM31 7h4v1H31zM22 8h1v1H22zM30 8h2v1H30zM35 8h1v1H35zM30 9h1v1H30zM36 9h1v1H36zM31 10h1v1H31zM32 11h1v1H32zM33 12h1v1H33zM22 13h1v1H22zM23 16h1v1H23zM23 17h1v1H23zM23 18h1v1H23zM24 20h1v1H24zM24 21h1v1H24zM24 22h1v1H24zM24 23h1v1H24zM24 24h1v1H24zM24 26h1v1H24zM24 27h2v1H24zM25 28h1v1H25zM26 30h1v1H26zM26 31h1v1H26zM26 32h1v1H26zM26 33h1v1H26zM27 37h1v1H27zM37 38h2v1H37zM26 39h1v1H26zM38 39h1v1H38zM25 40h1v1H25zM39 40h1v1H39zM24 41h1v1H24zM34 41h1v1H34zM39 41h1v1H39zM2 42h1v1H2zM23 42h1v1H23zM34 42h1v1H34zM39 42h1v1H39zM3 43h1v1H3zM23 43h1v1H23zM34 43h1v1H34zM39 43h1v1H39zM4 44h1v1H4zM34 44h1v1H34zM5 45h1v1H5zM34 45h1v1H34zM39 45h1v1H39zM8 46h1v1H8zM22 46h1v1H22zM35 46h1v1H35zM38 46h1v1H38zM12 47h2v1H12zM36 47h2v1H36zM15 48h1v1H15zM20 48h2v1H20zM16 49h1v1H16zM19 49h2v1H19z"/><path fill="#607f65" d="M36 0h2v1H36zM36 1h2v1H36zM21 6h1v1H21zM32 8h3v1H32zM22 9h1v1H22zM31 9h1v1H31zM34 9h2v1H34zM22 10h1v1H22zM34 10h1v1H34zM22 11h1v1H22zM33 11h1v1H33zM22 12h1v1H22zM22 14h1v1H22zM22 15h1v1H22zM22 16h1v1H22zM22 17h1v1H22zM23 19h1v1H23zM23 20h1v1H23zM23 23h1v1H23zM23 24h1v1H23zM23 25h1v1H23zM23 26h1v1H23zM23 27h1v1H23zM24 28h1v1H24zM25 29h1v1H25zM25 30h1v1H25zM26 34h1v1H26zM26 35h1v1H26zM26 36h1v1H26zM26 37h1v1H26zM26 38h1v1H26zM24 39h2v1H24zM36 39h2v1H36zM23 40h2v1H23zM35 40h1v1H35zM38 40h1v1H38zM2 41h1v1H2zM23 41h1v1H23zM3 42h1v1H3zM4 43h1v1H4zM22 43h1v1H22zM35 43h1v1H35zM5 44h1v1H5zM22 44h1v1H22zM35 44h1v1H35zM39 44h1v1H39zM6 45h1v1H6zM22 45h1v1H22zM35 45h1v1H35zM38 45h1v1H38zM9 46h2v1H9zM36 46h2v1H36zM14 47h2v1H14zM20 47h2v1H20zM16 48h1v1H16zM18 48h2v1H18zM17 49h2v1H17z"/><path fill="#fabd69" d="M23 1h1v1H23z"/><path fill="#f3e48c" d="M24 1h1v1H24zM23 2h2v1H23z"/><path fill="#c8c680" d="M25 1h1v1H25z"/><path fill="#89996e" d="M26 1h1v1H26zM26 2h1v1H26zM24 5h1v1H24zM27 5h1v1H27zM27 6h1v1H27zM27 7h1v1H27zM45 11h2v1H45zM37 12h1v1H37zM44 12h1v1H44zM25 13h1v1H25zM38 13h1v1H38zM44 13h1v1H44zM25 14h1v1H25zM38 14h1v1H38zM43 14h1v1H43zM36 15h1v1H36zM42 15h1v1H42zM25 16h1v1H25zM37 16h1v1H37zM29 17h1v1H29zM41 17h1v1H41zM30 18h1v1H30zM32 19h1v1H32zM42 19h1v1H42zM27 20h1v1H27zM33 20h1v1H33zM45 20h1v1H45zM34 22h1v1H34zM28 23h1v1H28zM34 23h1v1H34zM44 23h1v1H44zM29 24h2v1H29zM32 25h2v1H32zM41 26h1v1H41zM40 28h1v1H40zM40 29h1v1H40zM43 31h1v1H43zM44 32h1v1H44zM45 33h1v1H45zM44 44h1v1H44zM43 47h1v1H43zM43 48h1v1H43zM5 49h2v1H5zM5 50h2v1H5z"/><path fill="#7d926c" d="M27 1h1v1H27zM23 4h1v1H23zM44 7h3v1H44zM24 8h1v1H24zM44 8h3v1H44zM44 9h1v1H44zM43 10h1v1H43zM37 11h1v1H37zM43 11h1v1H43zM28 12h1v1H28zM28 13h1v1H28zM39 13h1v1H39zM39 14h1v1H39zM42 14h1v1H42zM29 15h1v1H29zM34 15h1v1H34zM39 15h1v1H39zM30 16h2v1H30zM34 16h1v1H34zM40 16h1v1H40zM38 18h3v1H38zM36 19h4v1H36zM41 19h1v1H41zM36 20h1v1H36zM42 20h1v1H42zM36 21h1v1H36zM36 22h1v1H36zM43 22h1v1H43zM27 23h1v1H27zM36 23h1v1H36zM36 24h1v1H36zM39 24h2v1H39zM28 25h1v1H28zM35 25h2v1H35zM38 25h2v1H38zM36 26h3v1H36zM29 27h2v1H29zM36 27h2v1H36zM29 28h3v1H29zM30 29h2v1H30zM29 30h11v1H29zM29 31h5v1H29zM41 31h1v1H41zM30 32h3v1H30zM30 33h2v1H30zM43 33h1v1H43zM29 34h4v1H29zM31 35h3v1H31zM44 35h1v1H44zM32 36h2v1H32zM32 37h2v1H32zM44 42h1v1H44zM43 43h1v1H43zM28 44h2v1H28zM27 45h2v1H27zM27 46h3v1H27zM42 46h1v1H42zM28 47h2v1H28zM42 47h1v1H42zM1 48h1v1H1zM7 48h2v1H7zM10 49h1v1H10zM41 49h1v1H41z"/><path fill="#698567" d="M40 1h2v1H40zM39 2h2v1H39zM29 3h10v1H29zM21 4h1v1H21zM29 4h8v1H29zM29 5h6v1H29zM22 6h1v1H22zM29 6h6v1H29zM29 7h2v1H29zM35 7h1v1H35zM29 8h1v1H29zM36 8h1v1H36zM29 9h1v1H29zM37 9h1v1H37zM23 10h1v1H23zM30 10h1v1H30zM35 10h1v1H35zM23 11h1v1H23zM31 11h1v1H31zM34 11h1v1H34zM23 12h1v1H23zM32 12h1v1H32zM23 13h1v1H23zM33 13h1v1H33zM23 14h1v1H23zM23 15h1v1H23zM24 18h1v1H24zM24 19h1v1H24zM25 21h1v1H25zM25 22h1v1H25zM25 23h1v1H25zM24 25h1v1H24zM25 26h1v1H25zM26 28h1v1H26zM26 29h1v1H26zM37 33h4v1H37zM37 34h4v1H37zM27 35h1v1H27zM37 35h4v1H37zM27 36h1v1H27zM37 36h5v1H37zM37 37h5v1H37zM27 38h1v1H27zM36 38h1v1H36zM39 38h2v1H39zM27 39h1v1H27zM35 39h1v1H35zM39 39h1v1H39zM26 40h1v1H26zM34 40h1v1H34zM25 41h1v1H25zM32 41h2v1H32zM24 42h1v1H24zM33 42h1v1H33zM40 42h1v1H40zM2 43h1v1H2zM33 43h1v1H33zM40 43h1v1H40zM3 44h1v1H3zM23 44h1v1H23zM33 44h1v1H33zM40 44h1v1H40zM4 45h1v1H4zM23 45h1v1H23zM33 45h1v1H33zM40 45h1v1H40zM7 46h1v1H7zM33 46h2v1H33zM39 46h1v1H39zM11 47h1v1H11zM22 47h1v1H22zM34 47h2v1H34zM38 47h1v1H38zM14 48h1v1H14zM35 48h3v1H35zM15 49h1v1H15z"/><path fill="#6d8868" d="M42 1h2v1H42zM41 2h2v1H41zM39 3h2v1H39zM37 4h2v1H37zM22 5h1v1H22zM35 5h2v1H35zM35 6h2v1H35zM36 7h2v1H36zM23 8h1v1H23zM37 8h2v1H37zM23 9h1v1H23zM38 9h2v1H38zM29 10h1v1H29zM36 10h1v1H36zM30 11h1v1H30zM31 12h1v1H31zM41 12h1v1H41zM32 13h1v1H32zM41 13h1v1H41zM24 16h1v1H24zM24 17h1v1H24zM25 20h1v1H25zM25 24h1v1H25zM25 25h1v1H25zM26 27h1v1H26zM27 29h1v1H27zM27 30h1v1H27zM27 31h1v1H27zM27 32h1v1H27zM37 32h1v1H37zM27 33h1v1H27zM36 33h1v1H36zM41 33h1v1H41zM27 34h1v1H27zM36 34h1v1H36zM41 34h1v1H41zM36 35h1v1H36zM41 35h1v1H41zM28 36h1v1H28zM36 36h1v1H36zM28 37h1v1H28zM36 37h1v1H36zM42 37h1v1H42zM28 38h1v1H28zM35 38h1v1H35zM41 38h1v1H41zM28 39h1v1H28zM34 39h1v1H34zM40 39h2v1H40zM27 40h2v1H27zM32 40h2v1H32zM40 40h1v1H40zM26 41h2v1H26zM31 41h1v1H31zM40 41h1v1H40zM25 42h1v1H25zM31 42h2v1H31zM24 43h1v1H24zM32 43h1v1H32zM41 43h1v1H41zM2 44h1v1H2zM32 44h1v1H32zM41 44h1v1H41zM3 45h1v1H3zM32 45h1v1H32zM41 45h1v1H41zM6 46h1v1H6zM23 46h1v1H23zM40 46h1v1H40zM9 47h2v1H9zM23 47h1v1H23zM33 47h1v1H33zM39 47h1v1H39zM13 48h1v1H13zM22 48h1v1H22zM34 48h1v1H34zM38 48h1v1H38zM14 49h1v1H14zM35 49h3v1H35z"/><path fill="#81946c" d="M27 2h1v1H27zM24 7h1v1H24zM45 9h2v1H45zM44 10h1v1H44zM36 12h1v1H36zM38 12h1v1H38zM43 12h1v1H43zM35 13h1v1H35zM43 13h1v1H43zM28 14h1v1H28zM35 15h1v1H35zM29 16h1v1H29zM35 16h1v1H35zM39 16h1v1H39zM41 16h1v1H41zM30 17h11v1H30zM25 18h1v1H25zM34 18h4v1H34zM26 19h1v1H26zM35 19h1v1H35zM35 20h1v1H35zM43 20h1v1H43zM35 21h1v1H35zM27 22h1v1H27zM35 22h1v1H35zM44 22h2v1H44zM35 23h1v1H35zM42 23h1v1H42zM28 24h1v1H28zM35 24h1v1H35zM41 24h1v1H41zM29 25h2v1H29zM34 25h1v1H34zM40 25h1v1H40zM29 26h3v1H29zM34 26h2v1H34zM39 26h2v1H39zM31 27h2v1H31zM34 27h2v1H34zM38 27h2v1H38zM32 28h7v1H32zM32 29h6v1H32zM40 30h1v1H40zM29 32h1v1H29zM43 32h1v1H43zM29 33h1v1H29zM44 34h1v1H44zM45 35h1v1H45zM43 44h1v1H43zM29 45h1v1H29zM43 45h1v1H43zM2 48h5v1H2zM42 48h1v1H42zM0 49h3v1H0zM9 49h1v1H9zM0 50h3v1H0zM9 50h1v1H9z"/><path fill="#b9bb7c" d="M22 3h2v1H22z"/><path fill="#b2b67a" d="M24 3h1v1H24zM44 17h1v1H44z"/><path fill="#abb178" d="M25 3h1v1H25zM27 17h1v1H27zM45 17h1v1H45zM27 18h1v1H27zM28 19h1v1H28zM29 20h1v1H29zM30 21h1v1H30zM31 22h1v1H31zM32 23h1v1H32z"/><path fill="#a5ac76" d="M26 3h1v1H26zM26 7h1v1H26zM26 8h1v1H26zM26 9h1v1H26zM26 10h1v1H26zM26 11h1v1H26zM26 12h1v1H26zM26 13h1v1H26zM26 16h2v1H26zM45 16h1v1H45zM46 17h1v1H46zM45 18h1v1H45zM29 21h1v1H29zM31 21h1v1H31zM30 22h1v1H30zM32 22h1v1H32zM44 26h2v1H44zM43 29h3v1H43z"/><path fill="#85966d" d="M27 3h1v1H27zM27 4h1v1H27zM24 6h1v1H24zM45 10h2v1H45zM44 11h1v1H44zM35 14h1v1H35zM25 15h1v1H25zM28 15h1v1H28zM38 15h1v1H38zM36 16h1v1H36zM38 16h1v1H38zM31 18h3v1H31zM41 18h1v1H41zM33 19h2v1H33zM34 20h1v1H34zM44 20h1v1H44zM27 21h1v1H27zM34 21h1v1H34zM43 23h1v1H43zM34 24h1v1H34zM42 24h1v1H42zM31 25h1v1H31zM41 25h1v1H41zM32 26h2v1H32zM33 27h1v1H33zM40 27h1v1H40zM39 28h1v1H39zM38 29h2v1H38zM41 30h1v1H41zM42 31h1v1H42zM44 33h1v1H44zM45 34h1v1H45zM44 43h1v1H44zM43 46h1v1H43zM3 49h2v1H3zM7 49h2v1H7zM42 49h1v1H42zM3 50h2v1H3zM7 50h2v1H7z"/><path fill="#758c6a" d="M44 3h3v1H44zM41 4h6v1H41zM39 5h2v1H39zM23 6h1v1H23zM39 6h2v1H39zM40 7h2v1H40zM41 8h1v1H41zM41 9h2v1H41zM28 10h1v1H28zM42 10h1v1H42zM24 11h1v1H24zM39 11h1v1H39zM42 11h1v1H42zM24 12h1v1H24zM29 12h1v1H29zM42 12h1v1H42zM30 13h1v1H30zM34 13h1v1H34zM30 14h2v1H30zM40 14h1v1H40zM32 15h2v1H32zM40 20h1v1H40zM26 21h1v1H26zM38 21h2v1H38zM42 21h1v1H42zM26 22h1v1H26zM39 22h3v1H39zM26 23h1v1H26zM26 24h1v1H26zM27 26h1v1H27zM28 28h1v1H28zM28 29h1v1H28zM28 30h1v1H28zM28 31h1v1H28zM36 31h4v1H36zM35 32h1v1H35zM41 32h1v1H41zM34 33h1v1H34zM42 33h1v1H42zM28 34h1v1H28zM34 34h1v1H34zM29 36h1v1H29zM43 36h1v1H43zM30 37h1v1H30zM44 37h1v1H44zM30 38h2v1H30zM43 38h1v1H43zM32 39h1v1H32zM43 39h1v1H43zM43 40h1v1H43zM42 41h2v1H42zM28 42h2v1H28zM42 42h1v1H42zM26 43h2v1H26zM30 43h1v1H30zM42 43h1v1H42zM25 44h1v1H25zM42 44h1v1H42zM31 45h1v1H31zM1 46h3v1H1zM31 46h1v1H31zM6 47h2v1H6zM24 47h1v1H24zM31 47h1v1H31zM41 47h1v1H41zM11 48h1v1H11zM31 48h1v1H31zM40 48h1v1H40zM12 49h1v1H12zM31 49h2v1H31zM39 49h2v1H39zM32 50h2v1H32zM39 50h1v1H39zM32 51h8v1H32zM37 52h1v1H37z"/><path fill="#8d9c6f" d="M24 4h1v1H24zM27 8h1v1H27zM27 9h1v1H27zM25 12h1v1H25zM45 12h2v1H45zM36 13h1v1H36zM36 14h1v1H36zM37 15h1v1H37zM28 16h1v1H28zM25 17h1v1H25zM31 19h1v1H31zM32 20h1v1H32zM33 21h1v1H33zM28 22h1v1H28zM45 23h1v1H45zM43 24h1v1H43zM41 27h1v1H41zM41 29h1v1H41zM42 30h1v1H42zM45 32h1v1H45zM44 45h1v1H44zM44 46h1v1H44zM43 49h1v1H43z"/><path fill="#a2aa75" d="M25 4h2v1H25zM26 5h1v1H26zM26 6h1v1H26zM26 14h1v1H26zM26 15h1v1H26zM46 16h1v1H46zM31 23h1v1H31zM43 26h1v1H43zM42 28h1v1H42z"/><path fill="#9ea874" d="M25 5h1v1H25zM25 6h1v1H25zM27 15h1v1H27zM45 15h1v1H45zM42 17h1v1H42zM26 18h1v1H26zM28 20h1v1H28zM44 25h2v1H44zM42 27h1v1H42z"/><path fill="#587963" d="M20 6h1v1H20zM20 7h1v1H20zM20 8h2v1H20zM18 9h2v1H18zM17 10h5v1H17zM17 11h5v1H17zM16 12h5v1H16zM17 13h2v1H17zM15 14h5v1H15zM19 15h2v1H19zM20 16h2v1H20zM20 17h2v1H20zM21 18h1v1H21zM22 20h1v1H22zM22 21h1v1H22zM22 22h1v1H22zM22 23h1v1H22zM21 25h1v1H21zM21 26h1v1H21zM21 27h1v1H21zM21 28h1v1H21zM21 29h2v1H21zM22 30h2v1H22zM23 31h2v1H23zM24 32h1v1H24zM5 33h2v1H5zM24 33h2v1H24zM4 34h2v1H4zM24 34h2v1H24zM4 35h1v1H4zM23 35h3v1H23zM4 36h1v1H4zM21 36h5v1H21zM3 37h1v1H3zM21 37h5v1H21zM3 38h1v1H3zM21 38h2v1H21zM3 39h1v1H3zM21 39h1v1H21zM3 40h1v1H3zM21 40h1v1H21zM4 41h1v1H4zM21 41h1v1H21zM36 41h2v1H36zM5 42h1v1H5zM21 42h1v1H21zM36 42h2v1H36zM6 43h1v1H6zM21 43h1v1H21zM36 43h2v1H36zM7 44h1v1H7zM21 44h1v1H21zM37 44h1v1H37zM8 45h1v1H8zM20 45h2v1H20zM14 46h3v1H14zM18 46h2v1H18zM17 47h1v1H17z"/><path fill="#547662" d="M19 7h1v1H19zM19 8h1v1H19zM20 9h2v1H20zM14 15h5v1H14zM17 16h3v1H17zM18 17h2v1H18zM20 18h1v1H20zM21 19h1v1H21zM21 20h1v1H21zM21 23h1v1H21zM21 24h1v1H21zM20 25h1v1H20zM20 26h1v1H20zM20 27h1v1H20zM20 28h1v1H20zM20 29h1v1H20zM20 30h2v1H20zM21 31h2v1H21zM5 32h1v1H5zM22 32h2v1H22zM7 33h2v1H7zM22 33h2v1H22zM6 34h2v1H6zM21 34h3v1H21zM5 35h3v1H5zM21 35h2v1H21zM5 36h1v1H5zM4 37h1v1H4zM20 37h1v1H20zM4 38h1v1H4zM20 38h1v1H20zM4 39h1v1H4zM20 39h1v1H20zM4 40h1v1H4zM20 40h1v1H20zM5 41h1v1H5zM20 41h1v1H20zM6 42h1v1H6zM20 42h1v1H20zM7 43h1v1H7zM19 43h2v1H19zM8 44h1v1H8zM19 44h2v1H19zM9 45h7v1H9zM18 45h2v1H18zM17 46h1v1H17z"/><path fill="#5c7c64" d="M21 7h1v1H21zM32 9h2v1H32zM32 10h2v1H32zM21 12h1v1H21zM15 13h2v1H15zM19 13h3v1H19zM20 14h2v1H20zM21 15h1v1H21zM22 18h1v1H22zM22 19h1v1H22zM23 21h1v1H23zM23 22h1v1H23zM22 24h1v1H22zM22 25h1v1H22zM22 26h1v1H22zM22 27h1v1H22zM22 28h2v1H22zM23 29h2v1H23zM24 30h1v1H24zM25 31h1v1H25zM25 32h1v1H25zM23 38h3v1H23zM22 39h2v1H22zM22 40h1v1H22zM36 40h2v1H36zM3 41h1v1H3zM22 41h1v1H22zM35 41h1v1H35zM38 41h1v1H38zM4 42h1v1H4zM22 42h1v1H22zM35 42h1v1H35zM38 42h1v1H38zM5 43h1v1H5zM38 43h1v1H38zM6 44h1v1H6zM36 44h1v1H36zM38 44h1v1H38zM7 45h1v1H7zM36 45h2v1H36zM11 46h3v1H11zM20 46h2v1H20zM16 47h1v1H16zM18 47h2v1H18zM17 48h1v1H17z"/><path fill="#9ba573" d="M25 7h1v1H25zM27 14h1v1H27zM44 15h1v1H44zM46 15h1v1H46zM28 17h1v1H28zM27 19h1v1H27zM29 22h1v1H29zM33 23h1v1H33zM32 24h1v1H32zM42 29h1v1H42zM44 30h2v1H44z"/><path fill="#98a372" d="M25 8h1v1H25zM25 9h1v1H25zM27 13h1v1H27zM42 16h1v1H42zM29 18h1v1H29zM42 18h1v1H42zM30 19h1v1H30zM44 19h2v1H44zM31 20h1v1H31zM28 21h1v1H28zM32 21h1v1H32zM43 25h1v1H43zM42 26h1v1H42z"/><path fill="#94a071" d="M25 10h1v1H25zM27 11h1v1H27zM27 12h1v1H27zM45 14h2v1H45zM43 15h1v1H43zM43 19h1v1H43zM33 22h1v1H33zM30 23h1v1H30zM31 24h1v1H31zM33 24h1v1H33zM44 24h2v1H44zM43 30h1v1H43zM45 31h1v1H45zM44 48h1v1H44zM44 49h1v1H44z"/><path fill="#919e70" d="M27 10h1v1H27zM25 11h1v1H25zM37 13h1v1H37zM45 13h2v1H45zM37 14h1v1H37zM44 14h1v1H44zM29 23h1v1H29zM42 25h1v1H42zM41 28h1v1H41zM44 31h1v1H44zM44 47h1v1H44zM44 50h1v1H44z"/><path fill="#476d5e" d="M13 16h1v1H13zM15 17h1v1H15zM16 18h1v1H16zM18 19h1v1H18zM19 20h1v1H19zM20 21h1v1H20zM19 23h1v1H19zM18 25h1v1H18zM18 26h1v1H18zM17 27h1v1H17zM10 28h8v1H10zM9 29h9v1H9zM6 30h4v1H6zM14 30h4v1H14zM16 31h2v1H16zM16 32h2v1H16zM17 33h2v1H17zM16 34h3v1H16zM16 35h3v1H16zM15 36h2v1H15zM18 36h1v1H18zM15 37h2v1H15zM18 37h1v1H18zM14 38h3v1H14zM18 38h1v1H18zM11 39h7v1H11zM10 40h3v1H10zM15 40h3v1H15zM9 41h3v1H9zM15 41h3v1H15zM10 42h7v1H10z"/><path fill="#4b705f" d="M14 16h2v1H14zM16 17h1v1H16zM17 18h2v1H17zM19 19h1v1H19zM20 20h1v1H20zM20 22h1v1H20zM19 24h1v1H19zM19 25h1v1H19zM18 27h1v1H18zM18 28h1v1H18zM18 29h1v1H18zM10 30h4v1H10zM18 30h1v1H18zM5 31h11v1H5zM18 31h2v1H18zM14 32h2v1H14zM18 32h2v1H18zM15 33h2v1H15zM19 33h1v1H19zM14 34h2v1H14zM19 34h1v1H19zM14 35h2v1H14zM19 35h1v1H19zM13 36h2v1H13zM19 36h1v1H19zM12 37h3v1H12zM9 38h5v1H9zM8 39h3v1H8zM18 39h1v1H18zM7 40h3v1H7zM18 40h1v1H18zM7 41h2v1H7zM18 41h1v1H18zM9 42h1v1H9zM17 42h2v1H17zM9 43h9v1H9zM13 44h2v1H13z"/><path fill="#4f7360" d="M16 16h1v1H16zM17 17h1v1H17zM19 18h1v1H19zM20 19h1v1H20zM21 21h1v1H21zM21 22h1v1H21zM20 23h1v1H20zM20 24h1v1H20zM19 26h1v1H19zM19 27h1v1H19zM19 28h1v1H19zM19 29h1v1H19zM19 30h1v1H19zM20 31h1v1H20zM6 32h8v1H6zM20 32h2v1H20zM9 33h6v1H9zM20 33h2v1H20zM8 34h6v1H8zM20 34h1v1H20zM8 35h6v1H8zM20 35h1v1H20zM6 36h7v1H6zM20 36h1v1H20zM5 37h7v1H5zM19 37h1v1H19zM5 38h4v1H5zM19 38h1v1H19zM5 39h3v1H5zM19 39h1v1H19zM5 40h2v1H5zM19 40h1v1H19zM6 41h1v1H6zM19 41h1v1H19zM7 42h2v1H7zM19 42h1v1H19zM8 43h1v1H8zM18 43h1v1H18zM9 44h4v1H9zM15 44h4v1H15zM16 45h2v1H16z"/><path fill="#a8af77" d="M43 16h2v1H43zM26 17h1v1H26zM28 18h1v1H28zM43 18h2v1H43zM29 19h1v1H29zM30 20h1v1H30zM45 27h1v1H45zM45 28h1v1H45z"/><path fill="#3e675c" d="M13 17h1v1H13zM12 18h2v1H12zM11 19h4v1H11zM11 20h7v1H11zM11 21h4v1H11zM11 22h4v1H11zM18 22h1v1H18zM10 23h8v1H10zM9 24h9v1H9zM9 25h6v1H9zM10 26h4v1H10zM6 29h1v1H6z"/><path fill="#426a5d" d="M14 17h1v1H14zM14 18h2v1H14zM15 19h3v1H15zM18 20h1v1H18zM10 21h1v1H10zM19 21h1v1H19zM10 22h1v1H10zM19 22h1v1H19zM9 23h1v1H9zM18 23h1v1H18zM8 24h1v1H8zM18 24h1v1H18zM8 25h1v1H8zM15 25h3v1H15zM7 26h3v1H7zM14 26h4v1H14zM7 27h10v1H7zM6 28h4v1H6zM7 29h2v1H7zM17 36h1v1H17zM17 37h1v1H17zM17 38h1v1H17zM13 40h2v1H13zM12 41h3v1H12z"/><path fill="#afb479" d="M43 17h1v1H43zM43 27h2v1H43zM43 28h2v1H43z"/><path fill="#3b655b" d="M15 21h2v1H15zM18 21h1v1H18zM15 22h3v1H15z"/><path fill="#38635a" d="M17 21h1v1H17z"/></g><g transform="translate(556.5 72.0)"><path d="M0 0 L0 62.7" stroke="#000" stroke-width="1.15"/><path d="M0 0 L6.7 21.6 L6.4 22.6 L0.3 19.9 Z" fill="#000"/><text x="-0.8" y="55" font-family="'Liberation Serif', serif" font-size="33.5" text-anchor="middle" fill="#000">N</text></g><g transform="translate(554.8 594.5)"><path d="M0 0.5H108.4" stroke="#8a8a8a" stroke-width="1.2"/><path d="M0 -14V0" stroke="#efefef" stroke-width="1"/><path d="M72.2 -6.5V0" stroke="#333" stroke-width="1.2"/><path d="M108.4 -15V0.8" stroke="#777" stroke-width="1.2"/><text x="118" y="4" font-family="'Liberation Serif', serif" font-size="31" fill="#000">60 m</text></g><g transform="translate(1031.8 81.4) scale(9)" shape-rendering="crispEdges"><path fill="#d7d084" d="M24 0h1v1H24zM23 1h1v1H23z"/><path fill="#d0cb82" d="M25 0h1v1H25z"/><path fill="#89996e" d="M26 0h1v1H26zM26 3h2v1H26zM24 6h1v1H24zM25 9h1v1H25zM25 11h1v1H25zM28 11h1v1H28zM26 13h1v1H26zM45 14h2v1H45zM25 15h1v1H25zM44 15h1v1H44zM43 16h1v1H43zM28 18h1v1H28zM30 18h1v1H30zM31 19h1v1H31zM45 19h1v1H45zM27 23h1v1H27zM31 23h1v1H31zM45 23h1v1H45zM29 24h1v1H29zM42 30h1v1H42zM43 32h1v1H43zM29 33h1v1H29zM44 34h1v1H44zM45 35h1v1H45zM44 44h1v1H44zM43 47h1v1H43zM5 49h6v1H5zM42 49h1v1H42zM5 50h5v1H5z"/><path fill="#758c6a" d="M27 0h1v1H27zM27 1h1v1H27zM22 5h1v1H22zM28 6h1v1H28zM28 7h1v1H28zM24 9h1v1H24zM24 10h1v1H24zM38 12h1v1H38zM45 12h2v1H45zM28 13h1v1H28zM43 13h1v1H43zM39 14h1v1H39zM42 14h1v1H42zM29 15h1v1H29zM35 15h1v1H35zM39 15h1v1H39zM31 16h1v1H31zM35 16h1v1H35zM39 16h1v1H39zM24 17h1v1H24zM32 17h3v1H32zM38 17h2v1H38zM41 17h1v1H41zM33 18h5v1H33zM33 19h2v1H33zM42 19h1v1H42zM25 20h1v1H25zM33 20h1v1H33zM43 20h1v1H43zM33 21h1v1H33zM33 22h1v1H33zM43 22h1v1H43zM33 23h1v1H33zM42 23h1v1H42zM26 24h1v1H26zM41 24h1v1H41zM27 25h1v1H27zM34 25h1v1H34zM40 25h1v1H40zM27 26h1v1H27zM33 26h2v1H33zM39 26h1v1H39zM27 27h1v1H27zM32 27h3v1H32zM38 27h2v1H38zM27 28h1v1H27zM32 28h7v1H32zM27 29h1v1H27zM32 29h1v1H32zM34 29h2v1H34zM27 30h1v1H27zM33 30h4v1H33zM38 30h3v1H38zM34 31h1v1H34zM41 31h1v1H41zM34 32h1v1H34zM27 34h1v1H27zM42 34h1v1H42zM27 35h1v1H27zM42 35h1v1H42zM28 36h1v1H28zM42 36h1v1H42zM28 37h1v1H28zM42 37h1v1H42zM29 38h1v1H29zM34 38h1v1H34zM42 38h1v1H42zM29 39h3v1H29zM33 39h1v1H33zM43 39h1v1H43zM31 40h2v1H31zM43 40h1v1H43zM43 41h1v1H43zM28 42h3v1H28zM27 43h1v1H27zM30 43h1v1H30zM42 43h1v1H42zM25 44h1v1H25zM31 44h1v1H31zM42 44h1v1H42zM31 45h1v1H31zM1 46h5v1H1zM24 46h1v1H24zM41 46h1v1H41zM8 47h1v1H8zM24 47h1v1H24zM30 47h1v1H30zM40 47h1v1H40zM14 48h2v1H14zM23 48h1v1H23zM30 48h1v1H30zM38 48h1v1H38zM16 49h1v1H16zM37 49h1v1H37zM32 50h1v1H32zM34 50h3v1H34z"/><path fill="#698567" d="M28 0h1v1H28zM28 1h1v1H28zM28 2h1v1H28zM21 5h1v1H21zM22 8h1v1H22zM23 9h1v1H23zM23 10h1v1H23zM36 10h1v1H36zM38 10h1v1H38zM29 11h1v1H29zM39 11h1v1H39zM43 11h4v1H43zM29 12h1v1H29zM35 12h1v1H35zM40 12h2v1H40zM41 13h1v1H41zM31 14h1v1H31zM34 14h1v1H34zM32 15h2v1H32zM23 16h1v1H23zM40 19h1v1H40zM24 20h1v1H24zM36 20h3v1H36zM41 20h1v1H41zM35 21h1v1H35zM42 21h1v1H42zM41 22h1v1H41zM36 23h1v1H36zM38 23h2v1H38zM36 24h3v1H36zM37 25h1v1H37zM25 27h1v1H25zM25 28h1v1H25zM25 29h1v1H25zM25 30h1v1H25zM25 31h1v1H25zM25 32h1v1H25zM36 32h1v1H36zM38 32h2v1H38zM25 33h1v1H25zM40 33h1v1H40zM25 34h1v1H25zM36 34h1v1H36zM39 34h2v1H39zM36 35h1v1H36zM38 35h2v1H38zM26 36h1v1H26zM37 36h2v1H37zM26 37h1v1H26zM37 37h2v1H37zM39 38h1v1H39zM35 39h1v1H35zM40 39h1v1H40zM27 40h1v1H27zM34 40h1v1H34zM40 40h1v1H40zM27 41h1v1H27zM34 41h1v1H34zM41 41h1v1H41zM25 42h1v1H25zM2 43h1v1H2zM24 43h1v1H24zM3 44h2v1H3zM33 44h1v1H33zM40 44h1v1H40zM6 45h1v1H6zM23 45h1v1H23zM33 45h1v1H33zM39 45h2v1H39zM8 46h1v1H8zM33 46h3v1H33zM37 46h2v1H37zM15 47h1v1H15zM21 47h1v1H21zM33 47h4v1H33zM33 48h2v1H33z"/><path fill="#5c7c64" d="M29 0h1v1H29zM29 1h1v1H29zM42 1h2v1H42zM29 2h1v1H29zM42 2h2v1H42zM29 3h2v1H29zM41 3h6v1H41zM29 4h2v1H29zM40 4h7v1H40zM29 5h2v1H29zM40 5h1v1H40zM42 5h2v1H42zM20 6h1v1H20zM29 6h2v1H29zM39 6h1v1H39zM42 6h2v1H42zM20 7h1v1H20zM29 7h2v1H29zM37 7h3v1H37zM42 7h2v1H42zM21 8h1v1H21zM36 8h1v1H36zM42 8h2v1H42zM35 9h1v1H35zM42 9h2v1H42zM30 10h1v1H30zM31 11h1v1H31zM34 11h1v1H34zM31 12h1v1H31zM17 13h2v1H17zM32 13h1v1H32zM17 14h1v1H17zM22 14h1v1H22zM22 15h1v1H22zM23 20h1v1H23zM23 22h1v1H23zM23 23h1v1H23zM23 24h1v1H23zM23 25h1v1H23zM23 26h1v1H23zM23 27h1v1H23zM23 36h1v1H23zM23 37h2v1H23zM23 38h2v1H23zM24 39h1v1H24zM37 39h1v1H37zM3 40h1v1H3zM24 40h1v1H24zM36 40h1v1H36zM38 40h1v1H38zM3 41h1v1H3zM24 41h1v1H24zM5 42h1v1H5zM23 42h1v1H23zM38 42h1v1H38zM6 43h1v1H6zM22 43h1v1H22zM36 43h2v1H36zM7 44h1v1H7zM22 44h1v1H22zM8 45h1v1H8zM15 46h5v1H15z"/><path fill="#587963" d="M30 0h1v1H30zM39 0h1v1H39zM30 1h1v1H30zM39 1h3v1H39zM30 2h2v1H30zM39 2h3v1H39zM31 3h1v1H31zM39 3h2v1H39zM31 4h2v1H31zM39 4h1v1H39zM31 5h3v1H31zM39 5h1v1H39zM44 5h3v1H44zM31 6h3v1H31zM38 6h1v1H38zM44 6h3v1H44zM31 7h1v1H31zM35 7h2v1H35zM44 7h3v1H44zM20 8h1v1H20zM30 8h2v1H30zM34 8h2v1H34zM44 8h3v1H44zM21 9h1v1H21zM30 9h1v1H30zM34 9h1v1H34zM44 9h3v1H44zM21 10h1v1H21zM31 10h1v1H31zM34 10h1v1H34zM17 12h2v1H17zM32 12h2v1H32zM16 13h1v1H16zM19 13h1v1H19zM33 13h1v1H33zM16 14h1v1H16zM18 14h2v1H18zM17 15h2v1H17zM22 16h1v1H22zM22 17h1v1H22zM23 21h1v1H23zM22 25h1v1H22zM23 28h1v1H23zM23 29h1v1H23zM23 30h1v1H23zM23 31h1v1H23zM23 32h1v1H23zM23 33h1v1H23zM23 34h1v1H23zM23 35h1v1H23zM22 36h1v1H22zM3 37h2v1H3zM20 37h3v1H20zM3 38h2v1H3zM22 38h1v1H22zM3 39h2v1H3zM22 39h2v1H22zM4 40h1v1H4zM23 40h1v1H23zM37 40h1v1H37zM4 41h2v1H4zM23 41h1v1H23zM36 41h1v1H36zM38 41h1v1H38zM6 42h1v1H6zM22 42h1v1H22zM36 42h2v1H36zM7 43h1v1H7zM21 44h1v1H21zM9 45h1v1H9zM19 45h3v1H19z"/><path fill="#547662" d="M31 0h2v1H31zM35 0h4v1H35zM31 1h2v1H31zM35 1h4v1H35zM32 2h1v1H32zM34 2h5v1H34zM32 3h7v1H32zM33 4h6v1H33zM34 5h2v1H34zM38 5h1v1H38zM34 6h4v1H34zM19 7h1v1H19zM32 7h3v1H32zM19 8h1v1H19zM32 8h2v1H32zM20 9h1v1H20zM31 9h1v1H31zM20 10h1v1H20zM32 10h1v1H32zM17 11h5v1H17zM32 11h2v1H32zM16 12h1v1H16zM19 12h3v1H19zM15 13h1v1H15zM20 13h1v1H20zM20 14h1v1H20zM16 15h1v1H16zM19 15h1v1H19zM17 16h2v1H17zM22 18h1v1H22zM22 19h1v1H22zM22 20h1v1H22zM22 23h1v1H22zM22 24h1v1H22zM22 26h1v1H22zM22 27h1v1H22zM4 35h1v1H4zM8 35h2v1H8zM22 35h1v1H22zM4 36h7v1H4zM19 36h3v1H19zM5 37h7v1H5zM16 37h4v1H16zM5 38h4v1H5zM19 38h3v1H19zM5 39h2v1H5zM20 39h2v1H20zM5 40h2v1H5zM22 40h1v1H22zM6 41h1v1H6zM22 41h1v1H22zM37 41h1v1H37zM7 42h1v1H7zM21 42h1v1H21zM8 43h1v1H8zM20 43h2v1H20zM8 44h1v1H8zM19 44h2v1H19zM10 45h9v1H10z"/><path fill="#4f7360" d="M33 0h2v1H33zM33 1h2v1H33zM33 2h1v1H33zM36 5h2v1H36zM19 9h1v1H19zM32 9h2v1H32zM18 10h2v1H18zM33 10h1v1H33zM21 13h1v1H21zM15 14h1v1H15zM21 14h1v1H21zM20 15h1v1H20zM16 16h1v1H16zM19 16h1v1H19zM17 17h2v1H17zM22 21h1v1H22zM22 22h1v1H22zM21 25h1v1H21zM22 28h1v1H22zM22 29h1v1H22zM22 30h1v1H22zM22 31h1v1H22zM7 33h4v1H7zM4 34h8v1H4zM22 34h1v1H22zM5 35h3v1H5zM10 35h3v1H10zM20 35h2v1H20zM11 36h8v1H11zM12 37h4v1H12zM9 38h3v1H9zM15 38h4v1H15zM7 39h3v1H7zM18 39h2v1H18zM7 40h1v1H7zM20 40h2v1H20zM7 41h1v1H7zM20 41h2v1H20zM8 42h1v1H8zM19 42h2v1H19zM9 43h1v1H9zM18 43h2v1H18zM9 44h4v1H9zM15 44h4v1H15z"/><path fill="#f4dd86" d="M24 1h1v1H24zM24 2h1v1H24z"/><path fill="#c1c07e" d="M25 1h1v1H25zM45 27h1v1H45z"/><path fill="#81946c" d="M26 1h1v1H26zM26 2h1v1H26zM23 5h1v1H23zM28 10h1v1H28zM24 13h1v1H24zM27 13h1v1H27zM27 14h1v1H27zM27 15h1v1H27zM43 15h1v1H43zM27 16h1v1H27zM25 17h5v1H25zM42 17h1v1H42zM26 18h1v1H26zM31 18h1v1H31zM26 19h1v1H26zM26 20h1v1H26zM32 20h1v1H32zM26 21h1v1H26zM31 24h1v1H31zM42 24h1v1H42zM41 26h1v1H41zM41 27h1v1H41zM41 28h1v1H41zM29 29h1v1H29zM41 29h1v1H41zM29 30h2v1H29zM30 31h1v1H30zM42 31h1v1H42zM28 32h1v1H28zM31 32h2v1H31zM28 33h1v1H28zM32 33h2v1H32zM43 33h1v1H43zM31 34h3v1H31zM43 34h1v1H43zM29 35h5v1H29zM32 36h2v1H32zM44 36h1v1H44zM44 43h1v1H44zM29 45h1v1H29zM43 45h1v1H43zM42 47h1v1H42zM2 48h3v1H2zM7 48h4v1H7zM41 48h1v1H41zM0 49h3v1H0zM13 49h1v1H13zM0 50h3v1H0zM40 50h1v1H40zM40 51h1v1H40zM38 52h2v1H38zM32 53h6v1H32zM33 54h3v1H33z"/><path fill="#607f65" d="M44 1h3v1H44zM44 2h3v1H44zM41 5h1v1H41zM40 6h2v1H40zM21 7h1v1H21zM40 7h2v1H40zM29 8h1v1H29zM37 8h5v1H37zM22 9h1v1H22zM29 9h1v1H29zM36 9h1v1H36zM40 9h2v1H40zM22 10h1v1H22zM35 10h1v1H35zM41 10h6v1H41zM22 11h1v1H22zM30 11h1v1H30zM22 12h1v1H22zM34 12h1v1H34zM22 13h1v1H22zM31 13h1v1H31zM32 14h2v1H32zM23 18h1v1H23zM23 19h1v1H23zM37 21h4v1H37zM24 28h1v1H24zM24 29h1v1H24zM24 30h1v1H24zM24 31h1v1H24zM24 32h1v1H24zM24 33h1v1H24zM37 33h1v1H37zM24 34h1v1H24zM24 35h1v1H24zM24 36h2v1H24zM25 37h1v1H25zM25 38h1v1H25zM37 38h1v1H37zM25 39h1v1H25zM36 39h1v1H36zM38 39h1v1H38zM25 40h1v1H25zM35 40h1v1H35zM39 40h1v1H39zM2 41h1v1H2zM25 41h1v1H25zM35 41h1v1H35zM39 41h1v1H39zM3 42h2v1H3zM35 42h1v1H35zM39 42h1v1H39zM5 43h1v1H5zM23 43h1v1H23zM35 43h1v1H35zM38 43h2v1H38zM6 44h1v1H6zM36 44h3v1H36zM7 45h1v1H7zM22 45h1v1H22zM37 45h1v1H37zM11 46h4v1H11zM20 46h2v1H20z"/><path fill="#b2b67a" d="M23 2h1v1H23zM25 2h1v1H25zM29 20h1v1H29zM28 21h1v1H28zM30 21h1v1H30zM29 22h1v1H29zM45 29h1v1H45z"/><path fill="#798f6b" d="M27 2h1v1H27zM22 4h1v1H22zM23 7h1v1H23zM28 8h1v1H28zM28 9h1v1H28zM24 11h1v1H24zM37 12h1v1H37zM36 13h1v1H36zM38 13h1v1H38zM28 14h1v1H28zM36 14h1v1H36zM38 14h1v1H38zM28 15h1v1H28zM36 15h1v1H36zM38 15h1v1H38zM42 15h1v1H42zM24 16h1v1H24zM29 16h2v1H29zM36 16h3v1H36zM31 17h1v1H31zM35 17h3v1H35zM32 18h1v1H32zM25 19h1v1H25zM44 22h1v1H44zM26 23h1v1H26zM33 24h1v1H33zM28 25h6v1H28zM28 26h5v1H28zM40 26h1v1H40zM28 27h1v1H28zM30 27h2v1H30zM40 27h1v1H40zM28 28h1v1H28zM31 28h1v1H31zM39 28h2v1H39zM31 29h1v1H31zM36 29h5v1H36zM32 30h1v1H32zM41 30h1v1H41zM27 31h1v1H27zM33 31h1v1H33zM27 32h1v1H27zM27 33h1v1H27zM34 33h1v1H34zM42 33h1v1H42zM34 34h1v1H34zM28 35h1v1H28zM34 35h1v1H34zM34 36h1v1H34zM29 37h2v1H29zM34 37h1v1H34zM43 37h1v1H43zM30 38h2v1H30zM33 38h1v1H33zM43 38h1v1H43zM32 39h1v1H32zM44 39h1v1H44zM44 40h1v1H44zM44 41h1v1H44zM43 42h1v1H43zM28 43h2v1H28zM26 44h2v1H26zM30 44h1v1H30zM25 45h2v1H25zM30 45h1v1H30zM42 45h1v1H42zM25 46h2v1H25zM30 46h1v1H30zM1 47h2v1H1zM6 47h2v1H6zM25 47h3v1H25zM41 47h1v1H41zM13 48h1v1H13zM29 48h1v1H29zM39 48h2v1H39zM15 49h1v1H15zM38 49h1v1H38zM37 50h2v1H37zM32 51h5v1H32z"/><path fill="#98a372" d="M22 3h2v1H22zM27 4h1v1H27zM25 7h1v1H25zM45 16h2v1H45zM44 17h1v1H44zM28 19h1v1H28zM30 19h1v1H30zM27 20h1v1H27zM31 20h1v1H31zM31 22h1v1H31zM28 23h1v1H28zM30 23h1v1H30zM44 24h1v1H44zM42 27h1v1H42zM42 28h1v1H42zM43 30h1v1H43zM45 32h1v1H45z"/><path fill="#9ea874" d="M24 3h1v1H24zM25 6h1v1H25zM27 6h1v1H27zM27 7h1v1H27zM26 10h1v1H26zM26 11h1v1H26zM45 17h2v1H45zM29 19h1v1H29zM29 23h1v1H29zM45 31h1v1H45z"/><path fill="#a5ac76" d="M25 3h1v1H25zM26 8h1v1H26zM27 9h1v1H27z"/><path fill="#6d8868" d="M28 3h1v1H28zM22 7h1v1H22zM37 10h1v1H37zM23 11h1v1H23zM36 11h1v1H36zM38 11h1v1H38zM23 12h1v1H23zM39 12h1v1H39zM42 12h2v1H42zM29 13h1v1H29zM35 13h1v1H35zM40 13h1v1H40zM23 14h1v1H23zM30 14h1v1H30zM40 14h2v1H40zM23 15h1v1H23zM31 15h1v1H31zM34 15h1v1H34zM33 16h1v1H33zM40 18h1v1H40zM24 19h1v1H24zM37 19h3v1H37zM41 19h1v1H41zM35 20h1v1H35zM42 20h1v1H42zM25 21h1v1H25zM43 21h1v1H43zM25 22h1v1H25zM35 22h1v1H35zM42 22h1v1H42zM25 23h1v1H25zM35 23h1v1H35zM40 23h1v1H40zM25 24h1v1H25zM35 24h1v1H35zM39 24h1v1H39zM25 25h1v1H25zM36 25h1v1H36zM38 25h1v1H38zM25 26h1v1H25zM36 26h2v1H36zM36 31h4v1H36zM40 32h1v1H40zM41 33h1v1H41zM26 34h1v1H26zM41 34h1v1H41zM26 35h1v1H26zM40 35h1v1H40zM36 36h1v1H36zM39 36h2v1H39zM27 37h1v1H27zM36 37h1v1H36zM39 37h1v1H39zM27 38h1v1H27zM35 38h1v1H35zM40 38h1v1H40zM27 39h1v1H27zM41 39h1v1H41zM28 40h1v1H28zM41 40h1v1H41zM28 41h1v1H28zM33 41h1v1H33zM26 42h1v1H26zM33 42h1v1H33zM41 42h1v1H41zM25 43h1v1H25zM33 43h1v1H33zM41 43h1v1H41zM2 44h1v1H2zM24 44h1v1H24zM32 44h1v1H32zM41 44h1v1H41zM4 45h2v1H4zM32 45h1v1H32zM41 45h1v1H41zM7 46h1v1H7zM23 46h1v1H23zM32 46h1v1H32zM39 46h1v1H39zM12 47h3v1H12zM22 47h1v1H22zM32 47h1v1H32zM37 47h2v1H37zM17 48h5v1H17zM32 48h1v1H32zM35 48h2v1H35zM32 49h3v1H32z"/><path fill="#718a69" d="M21 4h1v1H21zM28 4h1v1H28zM28 5h1v1H28zM22 6h1v1H22zM23 8h1v1H23zM37 11h1v1H37zM36 12h1v1H36zM44 12h1v1H44zM23 13h1v1H23zM39 13h1v1H39zM42 13h1v1H42zM29 14h1v1H29zM35 14h1v1H35zM30 15h1v1H30zM40 15h2v1H40zM32 16h1v1H32zM34 16h1v1H34zM40 16h2v1H40zM40 17h1v1H40zM24 18h1v1H24zM38 18h2v1H38zM41 18h1v1H41zM35 19h2v1H35zM34 20h1v1H34zM34 21h1v1H34zM44 21h2v1H44zM34 22h1v1H34zM34 23h1v1H34zM41 23h1v1H41zM34 24h1v1H34zM40 24h1v1H40zM26 25h1v1H26zM35 25h1v1H35zM39 25h1v1H39zM26 26h1v1H26zM35 26h1v1H35zM38 26h1v1H38zM26 27h1v1H26zM35 27h3v1H35zM26 28h1v1H26zM26 29h1v1H26zM33 29h1v1H33zM26 30h1v1H26zM37 30h1v1H37zM26 31h1v1H26zM35 31h1v1H35zM40 31h1v1H40zM26 32h1v1H26zM35 32h1v1H35zM41 32h1v1H41zM26 33h1v1H26zM35 33h1v1H35zM35 34h1v1H35zM35 35h1v1H35zM41 35h1v1H41zM27 36h1v1H27zM35 36h1v1H35zM41 36h1v1H41zM35 37h1v1H35zM40 37h2v1H40zM28 38h1v1H28zM41 38h1v1H41zM28 39h1v1H28zM34 39h1v1H34zM42 39h1v1H42zM29 40h2v1H29zM33 40h1v1H33zM42 40h1v1H42zM29 41h4v1H29zM42 41h1v1H42zM27 42h1v1H27zM31 42h2v1H31zM42 42h1v1H42zM26 43h1v1H26zM31 43h2v1H31zM1 45h3v1H1zM24 45h1v1H24zM6 46h1v1H6zM31 46h1v1H31zM40 46h1v1H40zM9 47h3v1H9zM23 47h1v1H23zM31 47h1v1H31zM39 47h1v1H39zM16 48h1v1H16zM22 48h1v1H22zM31 48h1v1H31zM37 48h1v1H37zM17 49h4v1H17zM31 49h1v1H31zM35 49h2v1H35zM33 50h1v1H33z"/><path fill="#85966d" d="M23 4h1v1H23zM24 7h1v1H24zM25 10h1v1H25zM26 14h1v1H26zM44 14h1v1H44zM26 15h1v1H26zM25 16h2v1H25zM27 18h1v1H27zM43 18h1v1H43zM44 19h1v1H44zM32 21h1v1H32zM32 22h1v1H32zM44 23h1v1H44zM28 24h1v1H28zM30 24h1v1H30zM29 31h1v1H29zM29 32h2v1H29zM30 33h2v1H30zM29 34h2v1H29zM44 35h1v1H44zM43 46h1v1H43zM5 48h2v1H5zM42 48h1v1H42zM3 49h2v1H3zM11 49h2v1H11zM41 49h1v1H41zM3 50h2v1H3z"/><path fill="#919e70" d="M24 4h1v1H24zM24 5h1v1H24zM25 8h1v1H25zM26 12h1v1H26zM25 13h1v1H25zM45 15h2v1H45zM44 16h1v1H44zM44 18h1v1H44zM42 29h1v1H42zM44 32h1v1H44zM45 33h1v1H45zM44 47h1v1H44zM44 50h1v1H44z"/><path fill="#a2aa75" d="M25 4h1v1H25zM25 5h1v1H25zM27 8h1v1H27zM26 9h1v1H26zM43 29h1v1H43zM44 30h1v1H44z"/><path fill="#abb178" d="M26 4h1v1H26zM26 5h1v1H26zM26 6h1v1H26zM27 11h1v1H27zM45 25h1v1H45zM43 28h1v1H43z"/><path fill="#9ba573" d="M27 5h1v1H27zM27 21h1v1H27zM31 21h1v1H31zM45 24h1v1H45zM43 25h1v1H43zM44 31h1v1H44z"/><path fill="#658266" d="M21 6h1v1H21zM37 9h3v1H37zM29 10h1v1H29zM39 10h2v1H39zM35 11h1v1H35zM40 11h3v1H40zM30 12h1v1H30zM30 13h1v1H30zM34 13h1v1H34zM23 17h1v1H23zM39 20h2v1H39zM24 21h1v1H24zM36 21h1v1H36zM41 21h1v1H41zM24 22h1v1H24zM36 22h5v1H36zM24 23h1v1H24zM37 23h1v1H37zM24 24h1v1H24zM24 25h1v1H24zM24 26h1v1H24zM24 27h1v1H24zM37 32h1v1H37zM36 33h1v1H36zM38 33h2v1H38zM37 34h2v1H37zM25 35h1v1H25zM37 35h1v1H37zM26 38h1v1H26zM36 38h1v1H36zM38 38h1v1H38zM26 39h1v1H26zM39 39h1v1H39zM26 40h1v1H26zM26 41h1v1H26zM40 41h1v1H40zM2 42h1v1H2zM24 42h1v1H24zM34 42h1v1H34zM40 42h1v1H40zM3 43h2v1H3zM34 43h1v1H34zM40 43h1v1H40zM5 44h1v1H5zM23 44h1v1H23zM34 44h2v1H34zM39 44h1v1H39zM34 45h3v1H34zM38 45h1v1H38zM9 46h2v1H9zM22 46h1v1H22zM36 46h1v1H36zM16 47h5v1H16z"/><path fill="#7d926c" d="M23 6h1v1H23zM24 8h1v1H24zM24 12h1v1H24zM28 12h1v1H28zM37 13h1v1H37zM44 13h3v1H44zM24 14h1v1H24zM37 14h1v1H37zM43 14h1v1H43zM24 15h1v1H24zM37 15h1v1H37zM28 16h1v1H28zM42 16h1v1H42zM30 17h1v1H30zM25 18h1v1H25zM42 18h1v1H42zM32 19h1v1H32zM43 19h1v1H43zM44 20h2v1H44zM26 22h1v1H26zM45 22h1v1H45zM32 23h1v1H32zM43 23h1v1H43zM27 24h1v1H27zM32 24h1v1H32zM41 25h1v1H41zM29 27h1v1H29zM29 28h2v1H29zM28 29h1v1H28zM30 29h1v1H30zM28 30h1v1H28zM31 30h1v1H31zM28 31h1v1H28zM31 31h2v1H31zM33 32h1v1H33zM42 32h1v1H42zM28 34h1v1H28zM43 35h1v1H43zM29 36h3v1H29zM43 36h1v1H43zM31 37h3v1H31zM44 37h1v1H44zM32 38h1v1H32zM44 38h1v1H44zM44 42h1v1H44zM43 43h1v1H43zM28 44h2v1H28zM43 44h1v1H43zM27 45h2v1H27zM27 46h3v1H27zM42 46h1v1H42zM3 47h3v1H3zM28 47h2v1H28zM1 48h1v1H1zM11 48h2v1H11zM14 49h1v1H14zM39 49h2v1H39zM39 50h1v1H39zM37 51h3v1H37zM32 52h6v1H32z"/><path fill="#a8af77" d="M26 7h1v1H26zM27 10h1v1H27zM28 20h1v1H28zM30 20h1v1H30zM28 22h1v1H28zM30 22h1v1H30zM44 25h1v1H44zM43 26h1v1H43zM45 30h1v1H45z"/><path fill="#4b705f" d="M18 9h1v1H18zM17 10h1v1H17zM15 15h1v1H15zM21 15h1v1H21zM15 16h1v1H15zM20 16h2v1H20zM16 17h1v1H16zM19 17h2v1H19zM17 18h3v1H17zM21 23h1v1H21zM20 24h2v1H20zM19 25h2v1H19zM19 26h3v1H19zM20 27h2v1H20zM7 31h4v1H7zM5 32h7v1H5zM22 32h1v1H22zM5 33h2v1H5zM11 33h2v1H11zM22 33h1v1H22zM12 34h2v1H12zM21 34h1v1H21zM13 35h7v1H13zM12 38h3v1H12zM10 39h3v1H10zM15 39h3v1H15zM8 40h2v1H8zM17 40h3v1H17zM8 41h1v1H8zM18 41h2v1H18zM9 42h1v1H9zM17 42h2v1H17zM10 43h8v1H10zM13 44h2v1H13z"/><path fill="#8d9c6f" d="M25 12h1v1H25zM25 14h1v1H25zM43 17h1v1H43zM29 18h1v1H29zM27 19h1v1H27zM43 24h1v1H43zM42 25h1v1H42zM43 31h1v1H43zM44 33h1v1H44zM45 34h1v1H45zM44 45h1v1H44zM44 46h1v1H44zM43 48h1v1H43zM43 49h1v1H43z"/><path fill="#94a071" d="M27 12h1v1H27zM45 18h1v1H45zM27 22h1v1H27zM42 26h1v1H42zM44 48h1v1H44zM44 49h1v1H44z"/><path fill="#476d5e" d="M14 15h1v1H14zM14 16h1v1H14zM15 17h1v1H15zM21 17h1v1H21zM16 18h1v1H16zM20 18h2v1H20zM16 19h6v1H16zM19 20h3v1H19zM21 21h1v1H21zM20 22h2v1H20zM19 23h2v1H19zM18 24h2v1H18zM13 25h6v1H13zM14 26h5v1H14zM16 27h4v1H16zM16 28h6v1H16zM7 29h4v1H7zM17 29h5v1H17zM6 30h6v1H6zM18 30h4v1H18zM5 31h2v1H5zM11 31h2v1H11zM21 31h1v1H21zM12 32h2v1H12zM13 33h2v1H13zM14 34h7v1H14zM13 39h2v1H13zM10 40h3v1H10zM14 40h3v1H14zM9 41h3v1H9zM15 41h3v1H15zM10 42h7v1H10z"/><path fill="#426a5d" d="M13 16h1v1H13zM14 17h1v1H14zM14 18h2v1H14zM15 19h1v1H15zM15 20h4v1H15zM18 21h3v1H18zM18 22h2v1H18zM13 23h6v1H13zM12 24h6v1H12zM12 25h1v1H12zM11 26h3v1H11zM9 27h7v1H9zM6 28h10v1H6zM6 29h1v1H6zM11 29h2v1H11zM15 29h2v1H15zM12 30h6v1H12zM13 31h8v1H13zM14 32h3v1H14zM18 32h4v1H18zM15 33h2v1H15zM19 33h3v1H19zM13 40h1v1H13zM12 41h3v1H12z"/><path fill="#3e675c" d="M13 17h1v1H13zM12 18h2v1H12zM11 19h4v1H11zM11 20h4v1H11zM11 21h7v1H11zM11 22h7v1H11zM10 23h3v1H10zM10 24h2v1H10zM10 25h2v1H10zM7 26h4v1H7zM7 27h2v1H7zM13 29h2v1H13zM17 32h1v1H17zM17 33h2v1H17z"/><path fill="#3b655b" d="M10 21h1v1H10zM10 22h1v1H10zM9 23h1v1H9zM8 24h2v1H8zM8 25h2v1H8z"/><path fill="#b9bb7c" d="M29 21h1v1H29zM45 26h1v1H45zM44 28h2v1H44z"/><path fill="#b6b97b" d="M44 26h1v1H44z"/><path fill="#afb479" d="M43 27h1v1H43zM44 29h1v1H44z"/><path fill="#bdbe7d" d="M44 27h1v1H44z"/></g><g transform="translate(1033.5 72.0)"><path d="M0 0 L0 62.7" stroke="#000" stroke-width="1.15"/><path d="M0 0 L6.7 21.6 L6.4 22.6 L0.3 19.9 Z" fill="#000"/><text x="-0.8" y="55" font-family="'Liberation Serif', serif" font-size="33.5" text-anchor="middle" fill="#000">N</text></g><g transform="translate(1032.4 594.5)"><path d="M0 0.5H108.4" stroke="#8a8a8a" stroke-width="1.2"/><path d="M0 -14V0" stroke="#efefef" stroke-width="1"/><path d="M72.2 -6.5V0" stroke="#333" stroke-width="1.2"/><path d="M108.4 -15V0.8" stroke="#777" stroke-width="1.2"/><text x="118" y="4" font-family="'Liberation Serif', serif" font-size="31" fill="#000">60 m</text></g><g transform="translate(76.2 638.4) scale(9)" shape-rendering="crispEdges"><path fill="#f7d07a" d="M24 0h2v1H24zM42 17h1v1H42zM30 18h1v1H30zM45 20h1v1H45zM28 21h1v1H28zM45 23h1v1H45zM44 24h1v1H44zM45 28h1v1H45z"/><path fill="#b2b67a" d="M26 0h1v1H26zM26 1h1v1H26zM21 4h1v1H21zM22 6h1v1H22zM45 8h2v1H45zM29 9h1v1H29zM30 10h1v1H30zM36 10h1v1H36zM38 10h1v1H38zM42 10h1v1H42zM31 11h1v1H31zM32 12h1v1H32zM33 13h1v1H33zM24 19h1v1H24zM26 25h1v1H26zM27 28h1v1H27zM37 29h1v1H37zM28 30h1v1H28zM35 30h1v1H35zM39 30h2v1H39zM30 32h3v1H30zM29 33h1v1H29zM43 34h1v1H43zM32 35h2v1H32zM32 36h2v1H32zM44 36h1v1H44zM32 37h1v1H32zM29 41h1v1H29zM29 42h1v1H29zM43 47h1v1H43z"/><path fill="#abb178" d="M27 0h1v1H27zM27 1h1v1H27zM28 2h1v1H28zM29 4h1v1H29zM21 5h1v1H21zM30 6h1v1H30zM30 7h1v1H30zM30 8h1v1H30zM23 9h1v1H23zM30 9h1v1H30zM31 10h1v1H31zM35 10h1v1H35zM33 12h1v1H33zM24 20h1v1H24zM25 24h1v1H25zM26 27h1v1H26zM27 29h1v1H27zM37 30h1v1H37zM35 31h1v1H35zM28 32h1v1H28zM34 32h1v1H34zM32 33h2v1H32zM42 33h1v1H42zM29 35h1v1H29zM30 36h1v1H30zM30 37h1v1H30zM30 38h2v1H30zM33 38h1v1H33zM44 38h1v1H44zM29 39h2v1H29zM44 39h1v1H44zM30 40h1v1H30zM30 41h1v1H30zM44 43h1v1H44zM44 44h1v1H44zM28 45h1v1H28zM28 46h1v1H28zM43 46h1v1H43zM28 47h1v1H28zM42 48h1v1H42zM5 49h1v1H5zM5 50h1v1H5z"/><path fill="#a8af77" d="M28 0h1v1H28zM28 1h1v1H28zM29 3h1v1H29zM30 4h1v1H30zM30 5h1v1H30zM22 7h1v1H22zM45 7h2v1H45zM43 8h1v1H43zM37 9h1v1H37zM42 9h1v1H42zM23 10h1v1H23zM40 10h2v1H40zM23 11h1v1H23zM32 11h1v1H32zM23 12h1v1H23zM23 13h1v1H23zM23 14h1v1H23zM23 15h1v1H23zM24 21h1v1H24zM27 30h1v1H27zM36 31h1v1H36zM39 31h2v1H39zM34 35h1v1H34zM29 36h1v1H29zM34 36h1v1H34zM43 36h1v1H43zM34 37h1v1H34zM29 38h1v1H29zM31 39h2v1H31zM44 40h1v1H44zM44 41h1v1H44zM30 42h1v1H30zM44 42h1v1H44zM28 43h1v1H28zM30 43h1v1H30zM28 44h1v1H28zM30 44h1v1H30zM30 45h1v1H30zM43 45h1v1H43zM30 46h1v1H30zM42 47h1v1H42zM3 49h2v1H3zM3 50h2v1H3z"/><path fill="#a5ac76" d="M29 0h1v1H29zM29 1h1v1H29zM29 2h2v1H29zM30 3h1v1H30zM31 4h1v1H31zM31 5h1v1H31zM31 6h1v1H31zM31 7h1v1H31zM44 7h1v1H44zM31 8h1v1H31zM31 9h1v1H31zM36 9h1v1H36zM38 9h1v1H38zM34 10h1v1H34zM33 11h1v1H33zM23 16h1v1H23zM23 17h1v1H23zM24 22h1v1H24zM25 25h1v1H25zM26 28h1v1H26zM37 31h2v1H37zM35 32h1v1H35zM41 32h1v1H41zM28 33h1v1H28zM34 33h1v1H34zM34 34h1v1H34zM42 34h1v1H42zM29 37h1v1H29zM43 37h1v1H43zM33 39h1v1H33zM31 40h1v1H31zM28 41h1v1H28zM28 42h1v1H28zM43 44h1v1H43zM30 47h1v1H30zM4 48h2v1H4zM30 48h1v1H30zM0 49h3v1H0zM6 49h1v1H6zM0 50h3v1H0zM6 50h1v1H6z"/><path fill="#a2aa75" d="M30 0h2v1H30zM30 1h2v1H30zM31 2h1v1H31zM31 3h1v1H31zM20 6h2v1H20zM36 8h2v1H36zM42 8h1v1H42zM35 9h1v1H35zM39 9h1v1H39zM32 10h1v1H32zM23 18h1v1H23zM24 23h1v1H24zM25 26h1v1H25zM26 29h1v1H26zM27 31h1v1H27zM36 32h1v1H36zM40 32h1v1H40zM35 33h1v1H35zM28 34h1v1H28zM42 35h1v1H42zM34 38h1v1H34zM43 38h1v1H43zM43 39h1v1H43zM28 40h1v1H28zM32 40h1v1H32zM31 41h1v1H31zM31 42h1v1H31zM43 42h1v1H43zM43 43h1v1H43zM42 46h1v1H42zM1 48h3v1H1zM41 48h1v1H41zM41 49h1v1H41z"/><path fill="#9ea874" d="M32 0h2v1H32zM32 1h2v1H32zM32 2h2v1H32zM32 3h2v1H32zM32 4h1v1H32zM32 5h1v1H32zM32 6h1v1H32zM45 6h2v1H45zM32 7h1v1H32zM43 7h1v1H43zM22 8h1v1H22zM32 8h1v1H32zM35 8h1v1H35zM38 8h1v1H38zM32 9h1v1H32zM34 9h1v1H34zM40 9h2v1H40zM33 10h1v1H33zM23 19h1v1H23zM24 24h1v1H24zM24 25h1v1H24zM25 27h1v1H25zM27 32h1v1H27zM37 32h3v1H37zM35 34h1v1H35zM28 35h1v1H28zM35 35h1v1H35zM42 36h1v1H42zM28 39h1v1H28zM43 40h1v1H43zM43 41h1v1H43zM31 43h1v1H31zM42 45h1v1H42zM1 47h1v1H1zM41 47h1v1H41zM6 48h1v1H6zM7 49h1v1H7zM7 50h1v1H7zM40 51h1v1H40z"/><path fill="#9ba573" d="M34 0h2v1H34zM34 1h2v1H34zM34 2h2v1H34zM34 3h1v1H34zM33 4h2v1H33zM33 5h1v1H33zM33 6h1v1H33zM44 6h1v1H44zM33 7h5v1H33zM42 7h1v1H42zM33 8h2v1H33zM39 8h3v1H39zM25 28h1v1H25zM26 30h1v1H26zM36 33h1v1H36zM41 33h1v1H41zM41 34h1v1H41zM28 36h1v1H28zM35 36h1v1H35zM28 37h1v1H28zM35 37h1v1H35zM42 37h1v1H42zM28 38h1v1H28zM42 38h1v1H42zM34 39h1v1H34zM33 40h1v1H33zM32 41h1v1H32zM42 43h1v1H42zM31 44h1v1H31zM42 44h1v1H42zM27 45h1v1H27zM27 46h1v1H27zM2 47h3v1H2zM27 47h1v1H27zM40 50h1v1H40z"/><path fill="#98a372" d="M36 0h2v1H36zM36 1h2v1H36zM36 2h1v1H36zM35 3h2v1H35zM35 4h1v1H35zM34 5h2v1H34zM45 5h2v1H45zM34 6h3v1H34zM43 6h1v1H43zM38 7h2v1H38zM33 9h1v1H33zM23 20h1v1H23zM24 26h1v1H24zM25 29h1v1H25zM26 31h1v1H26zM27 33h1v1H27zM37 33h4v1H37zM36 34h1v1H36zM41 35h1v1H41zM42 39h1v1H42zM42 40h1v1H42zM42 41h1v1H42zM27 42h1v1H27zM32 42h1v1H32zM42 42h1v1H42zM27 43h1v1H27zM27 44h1v1H27zM31 45h1v1H31zM1 46h2v1H1zM31 46h1v1H31zM41 46h1v1H41zM5 47h1v1H5zM31 47h1v1H31zM7 48h1v1H7zM40 48h1v1H40zM40 49h1v1H40zM39 52h1v1H39z"/><path fill="#919e70" d="M38 0h1v1H38zM38 1h1v1H38zM45 1h2v1H45zM38 2h1v1H38zM44 2h3v1H44zM38 3h1v1H38zM44 3h1v1H44zM37 4h2v1H37zM43 4h1v1H43zM37 5h1v1H37zM43 5h1v1H43zM38 6h2v1H38zM22 10h1v1H22zM22 11h1v1H22zM15 14h1v1H15zM14 15h1v1H14zM23 26h1v1H23zM24 28h1v1H24zM25 30h1v1H25zM26 32h1v1H26zM37 34h1v1H37zM27 35h1v1H27zM39 35h1v1H39zM36 36h1v1H36zM40 36h1v1H40zM41 38h1v1H41zM27 39h1v1H27zM41 39h1v1H41zM34 40h1v1H34zM41 42h1v1H41zM32 43h1v1H32zM41 43h1v1H41zM1 45h2v1H1zM4 46h1v1H4zM40 46h1v1H40zM39 50h1v1H39zM38 52h1v1H38z"/><path fill="#89996e" d="M39 0h1v1H39zM39 1h1v1H39zM43 1h1v1H43zM42 2h1v1H42zM42 3h1v1H42zM40 4h2v1H40zM40 5h2v1H40zM16 12h1v1H16zM16 14h1v1H16zM16 15h1v1H16zM14 16h2v1H14zM22 18h1v1H22zM22 24h1v1H22zM22 25h1v1H22zM25 31h1v1H25zM26 33h1v1H26zM38 36h1v1H38zM27 37h1v1H27zM39 37h1v1H39zM40 39h1v1H40zM35 40h1v1H35zM40 43h1v1H40zM2 44h1v1H2zM40 44h1v1H40zM3 45h1v1H3zM32 45h1v1H32zM26 46h1v1H26zM7 47h1v1H7zM26 47h1v1H26zM39 47h1v1H39zM38 50h1v1H38zM32 51h1v1H32zM37 52h1v1H37zM33 53h4v1H33zM33 54h3v1H33z"/><path fill="#ede08a" d="M23 1h1v1H23zM23 3h2v1H23zM24 4h1v1H24zM37 13h1v1H37zM36 14h1v1H36zM43 14h1v1H43zM28 15h1v1H28zM31 16h1v1H31zM41 16h1v1H41zM27 17h1v1H27zM27 18h1v1H27zM39 18h1v1H39zM41 18h1v1H41zM27 19h1v1H27zM27 20h1v1H27zM44 21h1v1H44zM34 23h1v1H34zM43 23h1v1H43zM43 28h1v1H43z"/><path fill="#fb984d" d="M24 1h1v1H24z"/><path fill="#fac36e" d="M25 1h1v1H25zM30 19h1v1H30zM33 22h1v1H33zM45 26h1v1H45z"/><path fill="#85966d" d="M40 1h1v1H40zM42 1h1v1H42zM40 2h2v1H40zM40 3h2v1H40zM19 8h3v1H19zM16 16h1v1H16zM22 19h1v1H22zM22 23h1v1H22zM22 26h1v1H22zM23 28h1v1H23zM24 30h1v1H24zM26 34h1v1H26zM37 36h1v1H37zM38 37h1v1H38zM36 38h1v1H36zM39 38h1v1H39zM39 39h1v1H39zM40 40h1v1H40zM26 41h1v1H26zM40 41h1v1H40zM26 42h1v1H26zM34 42h1v1H34zM40 42h1v1H40zM26 43h1v1H26zM33 43h1v1H33zM26 44h1v1H26zM4 45h1v1H4zM26 45h1v1H26zM6 46h1v1H6zM32 46h1v1H32zM39 46h1v1H39zM32 47h1v1H32zM9 48h1v1H9zM10 49h1v1H10zM32 50h1v1H32zM33 52h4v1H33z"/><path fill="#81946c" d="M41 1h1v1H41zM17 12h1v1H17zM17 13h1v1H17zM17 14h1v1H17zM17 15h1v1H17zM17 16h1v1H17zM13 17h5v1H13zM22 20h1v1H22zM22 22h1v1H22zM21 25h1v1H21zM22 27h1v1H22zM23 29h1v1H23zM25 32h1v1H25zM26 35h1v1H26zM37 37h1v1H37zM38 38h1v1H38zM26 39h1v1H26zM36 39h1v1H36zM26 40h1v1H26zM39 40h1v1H39zM35 41h1v1H35zM39 41h1v1H39zM39 42h1v1H39zM2 43h1v1H2zM39 43h1v1H39zM3 44h1v1H3zM39 44h1v1H39zM5 45h1v1H5zM39 45h1v1H39zM8 47h1v1H8zM10 48h1v1H10zM32 48h1v1H32zM38 48h1v1H38zM11 49h1v1H11zM32 49h1v1H32zM38 49h1v1H38zM33 51h5v1H33z"/><path fill="#8d9c6f" d="M44 1h1v1H44zM39 2h1v1H39zM43 2h1v1H43zM39 3h1v1H39zM43 3h1v1H43zM39 4h1v1H39zM42 4h1v1H42zM38 5h2v1H38zM42 5h1v1H42zM40 6h2v1H40zM22 12h1v1H22zM16 13h1v1H16zM22 13h1v1H22zM22 14h1v1H22zM15 15h1v1H15zM22 15h1v1H22zM13 16h1v1H13zM22 16h1v1H22zM22 17h1v1H22zM23 27h1v1H23zM24 29h1v1H24zM37 35h2v1H37zM27 36h1v1H27zM39 36h1v1H39zM36 37h1v1H36zM40 37h1v1H40zM27 38h1v1H27zM40 38h1v1H40zM35 39h1v1H35zM41 40h1v1H41zM34 41h1v1H34zM41 41h1v1H41zM33 42h1v1H33zM32 44h1v1H32zM40 45h1v1H40zM5 46h1v1H5zM8 48h1v1H8zM39 48h1v1H39zM9 49h1v1H9zM39 49h1v1H39zM9 50h1v1H9zM38 51h1v1H38zM32 52h1v1H32zM32 53h1v1H32zM37 53h1v1H37z"/><path fill="#798f6b" d="M23 2h1v1H23zM18 9h3v1H18zM18 10h1v1H18zM18 11h1v1H18zM19 12h1v1H19zM19 13h1v1H19zM19 14h1v1H19zM19 15h1v1H19zM19 16h1v1H19zM19 17h1v1H19zM12 18h1v1H12zM16 18h3v1H16zM21 24h1v1H21zM20 25h1v1H20zM21 26h1v1H21zM22 28h1v1H22zM23 30h1v1H23zM24 32h1v1H24zM25 33h1v1H25zM26 37h1v1H26zM37 39h1v1H37zM36 41h1v1H36zM38 41h1v1H38zM2 42h1v1H2zM38 42h1v1H38zM3 43h1v1H3zM35 43h1v1H35zM38 43h1v1H38zM34 44h1v1H34zM6 45h1v1H6zM33 45h1v1H33zM38 45h1v1H38zM38 46h1v1H38zM9 47h1v1H9zM12 48h1v1H12zM13 49h1v1H13zM33 50h4v1H33z"/><path fill="#f9ca74" d="M24 2h1v1H24zM25 3h1v1H25zM43 18h1v1H43zM44 19h1v1H44zM33 20h1v1H33zM45 27h1v1H45z"/><path fill="#fba95a" d="M25 2h1v1H25z"/><path fill="#ddd486" d="M26 2h1v1H26zM23 4h1v1H23zM25 12h3v1H25zM37 12h1v1H37zM25 13h1v1H25zM39 13h1v1H39zM25 14h1v1H25zM40 14h2v1H40zM26 19h1v1H26zM35 23h1v1H35zM31 26h1v1H31zM42 28h1v1H42zM43 30h1v1H43zM45 32h1v1H45z"/><path fill="#afb479" d="M27 2h1v1H27zM28 3h1v1H28zM29 5h1v1H29zM29 6h1v1H29zM29 7h1v1H29zM29 8h1v1H29zM44 8h1v1H44zM43 9h1v1H43zM39 10h1v1H39zM34 11h1v1H34zM25 23h1v1H25zM26 26h1v1H26zM36 30h1v1H36zM38 30h1v1H38zM28 31h1v1H28zM34 31h1v1H34zM41 31h1v1H41zM33 32h1v1H33zM30 33h2v1H30zM29 34h5v1H29zM30 35h2v1H30zM43 35h1v1H43zM31 36h1v1H31zM31 37h1v1H31zM44 37h1v1H44zM32 38h1v1H32zM29 40h1v1H29zM44 45h1v1H44zM42 49h1v1H42z"/><path fill="#94a071" d="M37 2h1v1H37zM37 3h1v1H37zM45 3h2v1H45zM36 4h1v1H36zM44 4h3v1H44zM36 5h1v1H36zM44 5h1v1H44zM37 6h1v1H37zM42 6h1v1H42zM19 7h3v1H19zM40 7h2v1H40zM22 9h1v1H22zM15 13h1v1H15zM23 21h1v1H23zM23 22h1v1H23zM23 23h1v1H23zM23 24h1v1H23zM23 25h1v1H23zM24 27h1v1H24zM27 34h1v1H27zM38 34h3v1H38zM36 35h1v1H36zM40 35h1v1H40zM41 36h1v1H41zM41 37h1v1H41zM35 38h1v1H35zM27 40h1v1H27zM27 41h1v1H27zM33 41h1v1H33zM41 44h1v1H41zM41 45h1v1H41zM3 46h1v1H3zM6 47h1v1H6zM40 47h1v1H40zM31 48h1v1H31zM8 49h1v1H8zM31 49h1v1H31zM8 50h1v1H8zM39 51h1v1H39z"/><path fill="#f3e48c" d="M22 3h1v1H22zM37 14h1v1H37zM29 15h1v1H29zM28 16h1v1H28zM30 16h1v1H30zM40 17h1v1H40zM36 18h2v1H36zM34 22h1v1H34zM44 22h1v1H44zM29 24h1v1H29zM33 24h1v1H33zM43 24h1v1H43zM45 30h1v1H45z"/><path fill="#e8dc89" d="M26 3h1v1H26zM26 4h1v1H26zM27 15h1v1H27zM35 15h1v1H35zM32 16h1v1H32zM43 22h1v1H43zM31 25h1v1H31zM33 25h1v1H33zM42 25h1v1H42zM43 29h1v1H43zM45 31h1v1H45z"/><path fill="#b9bb7c" d="M27 3h1v1H27zM22 5h1v1H22zM28 5h1v1H28zM44 9h1v1H44zM29 10h1v1H29zM35 11h1v1H35zM34 12h1v1H34zM32 13h1v1H32zM24 18h1v1H24zM37 27h1v1H37zM36 28h1v1H36zM38 28h1v1H38zM35 29h1v1H35zM39 29h1v1H39zM33 30h1v1H33zM29 31h2v1H29zM43 33h1v1H43zM44 35h1v1H44zM43 49h1v1H43z"/><path fill="#d0cb82" d="M22 4h1v1H22zM24 8h1v1H24zM27 10h1v1H27zM28 11h1v1H28zM42 12h1v1H42zM41 13h1v1H41zM36 23h1v1H36zM41 23h1v1H41zM27 24h1v1H27zM29 27h1v1H29zM34 27h1v1H34zM41 27h1v1H41zM45 33h1v1H45z"/><path fill="#f6d780" d="M25 4h1v1H25zM45 14h2v1H45zM30 17h1v1H30zM28 19h1v1H28zM33 19h1v1H33zM43 19h1v1H43zM31 24h1v1H31zM45 29h1v1H45z"/><path fill="#c1c07e" d="M27 4h1v1H27zM42 11h1v1H42zM24 14h1v1H24zM33 14h1v1H33zM24 15h1v1H24zM24 16h1v1H24zM37 25h1v1H37zM38 26h1v1H38zM39 27h1v1H39zM35 28h1v1H35zM40 28h1v1H40zM29 29h5v1H29zM42 31h1v1H42zM44 34h1v1H44zM45 35h1v1H45zM44 50h1v1H44z"/><path fill="#b6b97b" d="M28 4h1v1H28zM23 8h1v1H23zM37 10h1v1H37zM40 11h2v1H40zM25 22h1v1H25zM27 27h1v1H27zM37 28h1v1H37zM28 29h1v1H28zM36 29h1v1H36zM38 29h1v1H38zM34 30h1v1H34zM31 31h3v1H31zM29 32h1v1H29zM42 32h1v1H42zM33 37h1v1H33zM29 43h1v1H29zM29 44h1v1H29zM29 45h1v1H29zM29 46h1v1H29zM44 46h1v1H44zM29 47h1v1H29zM29 48h1v1H29zM43 48h1v1H43z"/><path fill="#c8c680" d="M23 5h1v1H23zM27 5h1v1H27zM23 6h1v1H23zM24 9h1v1H24zM27 9h1v1H27zM29 11h1v1H29zM35 12h1v1H35zM31 13h1v1H31zM32 14h1v1H32zM37 21h2v1H37zM41 21h1v1H41zM37 22h1v1H37zM39 23h2v1H39zM39 24h1v1H39zM36 25h1v1H36zM39 25h1v1H39zM40 26h1v1H40zM29 28h3v1H29zM41 29h1v1H41zM44 33h1v1H44zM45 34h1v1H45zM44 49h1v1H44z"/><path fill="#d7d084" d="M24 5h1v1H24zM26 5h1v1H26zM26 8h1v1H26zM26 9h1v1H26zM26 10h1v1H26zM27 11h1v1H27zM29 12h1v1H29zM36 12h1v1H36zM38 12h1v1H38zM43 12h1v1H43zM30 13h1v1H30zM35 13h1v1H35zM31 14h1v1H31zM25 17h1v1H25zM38 20h2v1H38zM41 20h1v1H41zM26 21h1v1H26zM36 21h1v1H36zM42 21h1v1H42zM41 25h1v1H41zM29 26h1v1H29zM34 26h1v1H34zM32 27h2v1H32z"/><path fill="#e2d887" d="M25 5h1v1H25zM25 8h1v1H25zM27 13h3v1H27zM43 13h1v1H43zM30 14h1v1H30zM26 15h1v1H26zM31 15h1v1H31zM26 16h1v1H26zM33 16h1v1H33zM26 17h1v1H26zM39 19h1v1H39zM41 19h1v1H41zM43 21h1v1H43zM35 22h1v1H35zM28 24h1v1H28zM42 27h1v1H42z"/><path fill="#dad285" d="M24 6h1v1H24zM26 6h1v1H26zM26 7h1v1H26zM26 11h1v1H26zM45 11h2v1H45zM28 12h1v1H28zM42 13h1v1H42zM25 15h1v1H25zM32 15h1v1H32zM25 16h1v1H25zM26 20h1v1H26zM37 20h1v1H37zM42 22h1v1H42zM27 23h1v1H27zM35 24h1v1H35zM30 26h1v1H30zM42 29h1v1H42z"/><path fill="#e5da88" d="M25 6h1v1H25zM25 7h1v1H25zM45 12h2v1H45zM36 13h1v1H36zM38 13h1v1H38zM27 14h1v1H27zM39 14h1v1H39zM42 14h1v1H42zM40 15h2v1H40zM37 19h2v1H37zM42 20h1v1H42zM35 21h1v1H35zM27 22h1v1H27zM34 24h1v1H34zM42 24h1v1H42zM30 25h1v1H30zM42 26h1v1H42z"/><path fill="#ccc881" d="M27 6h1v1H27zM27 7h1v1H27zM27 8h1v1H27zM45 10h2v1H45zM37 11h1v1H37zM43 11h1v1H43zM30 12h1v1H30zM39 12h1v1H39zM25 19h1v1H25zM26 22h1v1H26zM41 22h1v1H41zM36 24h1v1H36zM40 24h1v1H40zM40 25h1v1H40zM28 26h1v1H28zM35 26h1v1H35zM32 28h2v1H32zM41 28h1v1H41zM42 30h1v1H42z"/><path fill="#bdbe7d" d="M28 6h1v1H28zM23 7h1v1H23zM28 7h1v1H28zM28 8h1v1H28zM28 9h1v1H28zM45 9h2v1H45zM43 10h1v1H43zM30 11h1v1H30zM39 11h1v1H39zM31 12h1v1H31zM24 17h1v1H24zM25 21h1v1H25zM26 24h1v1H26zM27 26h1v1H27zM37 26h1v1H37zM36 27h1v1H36zM38 27h1v1H38zM28 28h1v1H28zM39 28h1v1H39zM34 29h1v1H34zM40 29h1v1H40zM29 30h4v1H29zM41 30h1v1H41zM44 47h1v1H44z"/><path fill="#d3cd83" d="M24 7h1v1H24zM44 11h1v1H44zM40 13h1v1H40zM34 14h1v1H34zM33 15h1v1H33zM25 18h1v1H25zM40 20h1v1H40zM36 22h1v1H36zM41 24h1v1H41zM28 25h1v1H28zM35 25h1v1H35zM41 26h1v1H41zM30 27h2v1H30zM43 31h1v1H43zM44 32h1v1H44z"/><path fill="#758c6a" d="M21 9h1v1H21zM19 10h2v1H19zM19 11h2v1H19zM20 12h1v1H20zM20 13h1v1H20zM20 14h1v1H20zM20 15h1v1H20zM20 16h1v1H20zM20 17h1v1H20zM19 18h1v1H19zM11 19h6v1H11zM21 23h1v1H21zM20 24h1v1H20zM19 25h1v1H19zM20 26h1v1H20zM21 27h1v1H21zM22 29h1v1H22zM23 31h1v1H23zM25 34h1v1H25zM37 40h1v1H37zM36 42h1v1H36zM4 43h1v1H4zM5 44h1v1H5zM35 44h1v1H35zM38 44h1v1H38zM34 45h1v1H34zM8 46h1v1H8zM25 46h1v1H25zM33 46h2v1H33zM10 47h1v1H10zM25 47h1v1H25zM33 47h1v1H33zM13 48h1v1H13zM37 48h1v1H37zM14 49h1v1H14zM33 49h5v1H33z"/><path fill="#dfd686" d="M25 9h1v1H25zM25 10h1v1H25zM25 11h1v1H25zM44 12h1v1H44zM26 13h1v1H26zM26 14h1v1H26zM35 14h1v1H35zM34 15h1v1H34zM26 18h1v1H26zM40 19h1v1H40zM36 20h1v1H36zM42 23h1v1H42zM29 25h1v1H29zM34 25h1v1H34zM32 26h2v1H32zM44 31h1v1H44z"/><path fill="#7d926c" d="M17 10h1v1H17zM17 11h1v1H17zM18 12h1v1H18zM18 13h1v1H18zM18 14h1v1H18zM18 15h1v1H18zM18 16h1v1H18zM18 17h1v1H18zM13 18h3v1H13zM22 21h1v1H22zM24 31h1v1H24zM26 36h1v1H26zM26 38h1v1H26zM37 38h1v1H37zM38 39h1v1H38zM36 40h1v1H36zM38 40h1v1H38zM35 42h1v1H35zM34 43h1v1H34zM4 44h1v1H4zM33 44h1v1H33zM7 46h1v1H7zM38 47h1v1H38zM11 48h1v1H11zM12 49h1v1H12zM37 50h1v1H37z"/><path fill="#718a69" d="M21 10h1v1H21zM21 11h1v1H21zM21 12h1v1H21zM21 13h1v1H21zM21 14h1v1H21zM21 15h1v1H21zM21 16h1v1H21zM21 17h1v1H21zM20 18h2v1H20zM17 19h3v1H17zM12 20h2v1H12zM20 23h1v1H20zM19 24h1v1H19zM19 26h1v1H19zM20 27h1v1H20zM22 30h1v1H22zM24 33h1v1H24zM25 35h1v1H25zM25 40h1v1H25zM2 41h1v1H2zM25 41h1v1H25zM37 41h1v1H37zM3 42h1v1H3zM25 42h1v1H25zM37 42h1v1H37zM25 43h1v1H25zM36 43h1v1H36zM6 44h1v1H6zM25 44h1v1H25zM7 45h1v1H7zM25 45h1v1H25zM35 45h1v1H35zM35 46h1v1H35zM11 47h3v1H11zM24 47h1v1H24zM34 47h2v1H34zM37 47h1v1H37zM14 48h1v1H14zM23 48h1v1H23zM33 48h4v1H33zM15 49h1v1H15z"/><path fill="#c4c37f" d="M24 10h1v1H24zM28 10h1v1H28zM44 10h1v1H44zM24 11h1v1H24zM36 11h1v1H36zM38 11h1v1H38zM24 12h1v1H24zM40 12h2v1H40zM24 13h1v1H24zM34 13h1v1H34zM25 20h1v1H25zM39 21h2v1H39zM38 22h3v1H38zM26 23h1v1H26zM37 23h2v1H37zM37 24h2v1H37zM27 25h1v1H27zM38 25h1v1H38zM36 26h1v1H36zM39 26h1v1H39zM28 27h1v1H28zM35 27h1v1H35zM40 27h1v1H40zM34 28h1v1H34zM43 32h1v1H43zM44 48h1v1H44z"/><path fill="#ebde8a" d="M44 13h1v1H44zM28 14h2v1H28zM38 14h1v1H38zM30 15h1v1H30zM39 15h1v1H39zM27 16h1v1H27zM34 16h1v1H34zM40 16h1v1H40zM40 18h1v1H40zM36 19h1v1H36zM35 20h1v1H35zM27 21h1v1H27zM32 25h1v1H32zM44 30h1v1H44z"/><path fill="#f0e28b" d="M45 13h2v1H45zM36 15h1v1H36zM38 15h1v1H38zM42 15h1v1H42zM35 16h1v1H35zM39 16h1v1H39zM33 17h1v1H33zM38 18h1v1H38zM35 19h1v1H35zM42 19h1v1H42zM43 20h1v1H43zM28 23h1v1H28zM43 27h1v1H43z"/><path fill="#f4dd86" d="M44 14h1v1H44zM37 16h1v1H37zM28 17h1v1H28zM31 17h1v1H31zM35 17h1v1H35zM38 17h1v1H38zM34 21h1v1H34zM43 25h1v1H43z"/><path fill="#f4e189" d="M37 15h1v1H37zM36 16h1v1H36zM38 16h1v1H38zM32 17h1v1H32zM34 17h1v1H34zM39 17h1v1H39zM41 17h1v1H41zM33 18h3v1H33zM34 19h1v1H34zM34 20h1v1H34zM45 21h1v1H45zM43 26h1v1H43zM44 29h1v1H44z"/><path fill="#f5da83" d="M43 15h1v1H43zM29 16h1v1H29zM42 16h1v1H42zM36 17h2v1H36zM28 18h1v1H28zM32 18h1v1H32zM42 18h1v1H42zM44 20h1v1H44zM28 22h1v1H28zM45 22h1v1H45zM44 23h1v1H44zM30 24h1v1H30zM32 24h1v1H32zM44 28h1v1H44z"/><path fill="#f8cd77" d="M44 15h1v1H44zM43 16h1v1H43zM29 18h1v1H29zM32 19h1v1H32zM29 23h1v1H29zM44 26h1v1H44z"/><path fill="#f9c671" d="M45 15h2v1H45zM29 19h1v1H29zM31 19h1v1H31zM45 24h1v1H45zM44 25h1v1H44z"/><path fill="#fabd69" d="M44 16h1v1H44zM30 23h1v1H30zM32 23h1v1H32zM45 25h1v1H45z"/><path fill="#fab664" d="M45 16h2v1H45zM32 20h1v1H32z"/><path fill="#f6d47d" d="M29 17h1v1H29zM31 18h1v1H31zM28 20h1v1H28zM33 23h1v1H33zM44 27h1v1H44z"/><path fill="#fac06c" d="M43 17h1v1H43zM45 19h1v1H45zM33 21h1v1H33z"/><path fill="#fbb05f" d="M44 17h1v1H44zM45 18h1v1H45z"/><path fill="#fba658" d="M45 17h2v1H45zM32 21h1v1H32zM30 22h1v1H30zM32 22h1v1H32z"/><path fill="#fab966" d="M44 18h1v1H44zM29 20h1v1H29zM29 22h1v1H29z"/><path fill="#6d8868" d="M20 19h2v1H20zM11 20h1v1H11zM14 20h3v1H14zM21 20h1v1H21zM20 22h2v1H20zM19 23h1v1H19zM18 24h1v1H18zM18 25h1v1H18zM18 26h1v1H18zM19 27h1v1H19zM20 28h2v1H20zM23 32h1v1H23zM24 34h1v1H24zM25 36h1v1H25zM25 38h1v1H25zM25 39h1v1H25zM24 41h1v1H24zM4 42h1v1H4zM24 42h1v1H24zM5 43h1v1H5zM24 43h1v1H24zM37 43h1v1H37zM24 44h1v1H24zM36 44h2v1H36zM24 45h1v1H24zM36 45h2v1H36zM9 46h1v1H9zM24 46h1v1H24zM36 46h2v1H36zM14 47h1v1H14zM23 47h1v1H23zM36 47h1v1H36zM15 48h1v1H15zM16 49h1v1H16z"/><path fill="#698567" d="M17 20h4v1H17zM10 21h5v1H10zM20 21h2v1H20zM10 22h5v1H10zM19 22h1v1H19zM9 23h7v1H9zM18 23h1v1H18zM8 24h9v1H8zM8 25h10v1H8zM7 26h11v1H7zM18 27h1v1H18zM19 28h1v1H19zM21 29h1v1H21zM22 31h1v1H22zM23 33h1v1H23zM24 35h1v1H24zM24 36h1v1H24zM25 37h1v1H25zM24 39h1v1H24zM24 40h1v1H24zM3 41h1v1H3zM6 43h1v1H6zM7 44h1v1H7zM8 45h1v1H8zM10 46h4v1H10zM23 46h1v1H23zM22 47h1v1H22zM16 48h1v1H16zM22 48h1v1H22zM17 49h4v1H17z"/><path fill="#fab362" d="M30 20h1v1H30zM29 21h1v1H29zM31 23h1v1H31z"/><path fill="#fbad5c" d="M31 20h1v1H31z"/><path fill="#658266" d="M15 21h2v1H15zM18 21h2v1H18zM15 22h4v1H15zM16 23h2v1H16zM17 24h1v1H17zM7 27h11v1H7zM18 28h1v1H18zM19 29h2v1H19zM21 30h1v1H21zM22 32h1v1H22zM23 34h1v1H23zM23 35h1v1H23zM24 37h1v1H24zM24 38h1v1H24zM3 39h1v1H3zM23 39h1v1H23zM3 40h1v1H3zM23 40h1v1H23zM4 41h1v1H4zM23 41h1v1H23zM5 42h1v1H5zM23 42h1v1H23zM23 43h1v1H23zM23 44h1v1H23zM23 45h1v1H23zM14 46h1v1H14zM22 46h1v1H22zM15 47h1v1H15zM17 48h5v1H17z"/><path fill="#607f65" d="M17 21h1v1H17zM6 28h12v1H6zM6 29h13v1H6zM6 30h2v1H6zM19 30h2v1H19zM5 31h2v1H5zM21 31h1v1H21zM5 32h2v1H5zM5 33h1v1H5zM22 33h1v1H22zM4 34h1v1H4zM22 34h1v1H22zM23 36h1v1H23zM3 37h1v1H3zM23 37h1v1H23zM3 38h1v1H3zM23 38h1v1H23zM4 40h1v1H4zM6 42h1v1H6zM7 43h1v1H7zM8 44h1v1H8zM9 45h1v1H9zM11 45h3v1H11zM22 45h1v1H22zM15 46h1v1H15zM16 47h1v1H16zM19 47h3v1H19z"/><path fill="#fba355" d="M30 21h1v1H30z"/><path fill="#fb9b4f" d="M31 21h1v1H31zM31 22h1v1H31z"/><path fill="#5c7c64" d="M8 30h5v1H8zM14 30h5v1H14zM7 31h2v1H7zM19 31h2v1H19zM7 32h1v1H7zM21 32h1v1H21zM6 33h1v1H6zM5 34h1v1H5zM4 35h1v1H4zM22 35h1v1H22zM4 36h1v1H4zM22 36h1v1H22zM22 37h1v1H22zM4 38h1v1H4zM22 38h1v1H22zM4 39h1v1H4zM22 39h1v1H22zM22 40h1v1H22zM5 41h1v1H5zM22 41h1v1H22zM7 42h1v1H7zM22 42h1v1H22zM8 43h1v1H8zM22 43h1v1H22zM12 44h2v1H12zM22 44h1v1H22zM10 45h1v1H10zM14 45h1v1H14zM20 46h2v1H20zM17 47h2v1H17z"/><path fill="#587963" d="M13 30h1v1H13zM9 31h2v1H9zM16 31h3v1H16zM8 32h1v1H8zM19 32h2v1H19zM7 33h1v1H7zM21 33h1v1H21zM6 34h1v1H6zM21 34h1v1H21zM5 35h1v1H5zM21 35h1v1H21zM21 36h1v1H21zM4 37h1v1H4zM21 37h1v1H21zM20 38h2v1H20zM5 39h1v1H5zM19 39h3v1H19zM5 40h1v1H5zM17 40h5v1H17zM6 41h2v1H6zM17 41h5v1H17zM8 42h1v1H8zM20 42h2v1H20zM9 43h1v1H9zM11 43h4v1H11zM21 43h1v1H21zM9 44h3v1H9zM14 44h1v1H14zM21 44h1v1H21zM15 45h1v1H15zM21 45h1v1H21zM16 46h1v1H16zM19 46h1v1H19z"/><path fill="#547662" d="M11 31h5v1H11zM9 32h2v1H9zM17 32h2v1H17zM8 33h1v1H8zM19 33h2v1H19zM7 34h2v1H7zM19 34h2v1H19zM6 35h2v1H6zM19 35h2v1H19zM5 36h1v1H5zM19 36h2v1H19zM5 37h1v1H5zM18 37h3v1H18zM5 38h1v1H5zM17 38h3v1H17zM6 39h1v1H6zM17 39h2v1H17zM6 40h2v1H6zM16 40h1v1H16zM8 41h1v1H8zM14 41h3v1H14zM9 42h11v1H9zM10 43h1v1H10zM15 43h1v1H15zM19 43h2v1H19zM15 44h1v1H15zM20 44h1v1H20zM20 45h1v1H20zM17 46h2v1H17z"/><path fill="#4f7360" d="M11 32h2v1H11zM14 32h3v1H14zM9 33h2v1H9zM17 33h2v1H17zM9 34h1v1H9zM17 34h2v1H17zM8 35h1v1H8zM17 35h2v1H17zM6 36h2v1H6zM17 36h2v1H17zM6 37h1v1H6zM17 37h1v1H17zM6 38h2v1H6zM16 38h1v1H16zM7 39h2v1H7zM15 39h2v1H15zM8 40h5v1H8zM14 40h2v1H14zM9 41h5v1H9zM16 43h3v1H16zM16 44h1v1H16zM19 44h1v1H19zM16 45h1v1H16zM19 45h1v1H19z"/><path fill="#4b705f" d="M13 32h1v1H13zM11 33h2v1H11zM15 33h2v1H15zM10 34h2v1H10zM15 34h2v1H15zM9 35h2v1H9zM15 35h2v1H15zM8 36h2v1H8zM15 36h2v1H15zM7 37h2v1H7zM15 37h2v1H15zM8 38h2v1H8zM14 38h2v1H14zM9 39h6v1H9zM13 40h1v1H13zM17 44h2v1H17zM17 45h2v1H17z"/><path fill="#476d5e" d="M13 33h2v1H13zM12 34h3v1H12zM11 35h4v1H11zM10 36h3v1H10zM14 36h1v1H14zM9 37h4v1H9zM14 37h1v1H14zM10 38h4v1H10z"/><path fill="#426a5d" d="M13 36h1v1H13zM13 37h1v1H13z"/></g><g transform="translate(79.5 628.5)"><path d="M0 0 L0 62.7" stroke="#000" stroke-width="1.15"/><path d="M0 0 L6.7 21.6 L6.4 22.6 L0.3 19.9 Z" fill="#000"/><text x="-0.8" y="55" font-family="'Liberation Serif', serif" font-size="33.5" text-anchor="middle" fill="#000">N</text></g><g transform="translate(77.2 1152.2)"><path d="M0 0.5H108.4" stroke="#8a8a8a" stroke-width="1.2"/><path d="M0 -14V0" stroke="#efefef" stroke-width="1"/><path d="M72.2 -6.5V0" stroke="#333" stroke-width="1.2"/><path d="M108.4 -15V0.8" stroke="#777" stroke-width="1.2"/><text x="118" y="4" font-family="'Liberation Serif', serif" font-size="31" fill="#000">60 m</text></g><g transform="translate(554.0 638.4) scale(9)" shape-rendering="crispEdges"><path fill="#fba355" d="M24 0h1v1H24zM25 2h1v1H25zM25 3h1v1H25zM44 13h1v1H44zM43 14h1v1H43zM42 18h1v1H42zM29 19h3v1H29zM43 19h1v1H43zM29 20h1v1H29zM45 20h1v1H45zM29 21h2v1H29zM30 22h1v1H30zM32 22h1v1H32zM45 25h1v1H45zM45 26h1v1H45zM45 27h1v1H45zM45 28h1v1H45zM45 29h1v1H45z"/><path fill="#fac36e" d="M25 0h1v1H25zM45 11h2v1H45zM28 12h1v1H28zM29 15h1v1H29zM27 16h1v1H27zM35 16h1v1H35zM31 17h1v1H31zM27 18h1v1H27zM34 18h1v1H34zM41 19h1v1H41zM27 20h1v1H27zM42 20h1v1H42zM43 23h1v1H43zM30 24h1v1H30zM42 25h1v1H42zM42 26h1v1H42zM42 27h1v1H42zM42 28h1v1H42zM42 29h1v1H42z"/><path fill="#ede08a" d="M26 0h1v1H26zM23 1h1v1H23zM23 4h1v1H23zM24 6h1v1H24zM44 9h1v1H44zM42 10h1v1H42zM25 14h1v1H25zM38 21h1v1H38zM26 22h1v1H26zM38 22h1v1H38zM37 23h1v1H37zM27 24h1v1H27zM29 27h1v1H29zM37 27h1v1H37zM31 28h1v1H31zM35 28h3v1H35zM33 29h1v1H33zM39 30h1v1H39zM44 38h1v1H44z"/><path fill="#d0cb82" d="M27 0h1v1H27zM28 3h1v1H28zM21 4h1v1H21zM28 4h1v1H28zM42 7h1v1H42zM23 8h1v1H23zM29 8h1v1H29zM40 8h1v1H40zM34 11h1v1H34zM32 12h1v1H32zM24 20h1v1H24zM21 28h1v1H21zM28 31h1v1H28zM35 32h1v1H35zM32 33h2v1H32zM39 33h1v1H39zM33 34h1v1H33zM29 35h2v1H29zM30 36h2v1H30zM41 36h1v1H41zM31 37h1v1H31zM32 38h2v1H32zM29 40h1v1H29zM29 41h1v1H29zM29 42h1v1H29zM43 42h1v1H43zM29 43h1v1H29zM43 43h1v1H43zM29 44h1v1H29zM43 44h1v1H43zM43 45h1v1H43zM42 48h1v1H42zM42 49h1v1H42z"/><path fill="#ccc881" d="M28 0h1v1H28zM28 1h1v1H28zM28 2h1v1H28zM44 5h3v1H44zM43 6h1v1H43zM41 7h1v1H41zM39 8h1v1H39zM38 9h1v1H38zM35 10h1v1H35zM23 17h1v1H23zM24 21h1v1H24zM25 25h1v1H25zM26 27h1v1H26zM27 29h1v1H27zM28 32h1v1H28zM36 32h2v1H36zM34 33h1v1H34zM34 34h1v1H34zM39 34h1v1H39zM34 35h1v1H34zM40 35h1v1H40zM29 36h1v1H29zM30 37h1v1H30zM29 38h3v1H29zM29 39h4v1H29zM42 39h1v1H42zM30 40h1v1H30zM30 41h1v1H30zM43 41h1v1H43zM29 45h1v1H29zM42 47h1v1H42z"/><path fill="#c4c37f" d="M29 0h1v1H29zM29 1h1v1H29zM29 2h1v1H29zM44 4h1v1H44zM43 5h1v1H43zM22 6h1v1H22zM29 6h1v1H29zM30 7h1v1H30zM39 7h1v1H39zM37 8h1v1H37zM32 11h1v1H32zM23 12h1v1H23zM23 13h1v1H23zM23 14h1v1H23zM23 19h1v1H23zM24 23h1v1H24zM36 33h1v1H36zM28 34h1v1H28zM35 34h1v1H35zM38 34h1v1H38zM28 35h1v1H28zM39 35h1v1H39zM40 36h1v1H40zM34 38h1v1H34zM28 39h1v1H28zM28 40h1v1H28zM33 40h1v1H33zM28 41h1v1H28zM31 41h1v1H31zM28 42h1v1H28zM42 42h1v1H42zM28 43h1v1H28zM30 43h1v1H30zM42 43h1v1H42zM42 44h1v1H42zM29 47h1v1H29zM41 48h1v1H41zM5 49h2v1H5zM41 49h1v1H41zM5 50h2v1H5z"/><path fill="#c1c07e" d="M30 0h1v1H30zM27 1h1v1H27zM30 1h1v1H30zM30 2h1v1H30zM29 3h2v1H29zM44 3h3v1H44zM29 4h2v1H29zM43 4h1v1H43zM29 5h3v1H29zM42 5h1v1H42zM30 6h2v1H30zM41 6h1v1H41zM31 7h1v1H31zM37 7h2v1H37zM31 8h1v1H31zM36 8h1v1H36zM36 9h1v1H36zM24 24h1v1H24zM24 25h1v1H24zM25 27h1v1H25zM26 29h1v1H26zM27 31h1v1H27zM37 33h1v1H37zM35 35h1v1H35zM28 36h1v1H28zM35 36h1v1H35zM28 37h1v1H28zM28 38h1v1H28zM41 38h1v1H41zM32 41h1v1H32zM42 41h1v1H42zM31 42h1v1H31zM28 44h1v1H28zM30 44h1v1H30zM28 45h1v1H28zM30 45h1v1H30zM41 46h1v1H41zM41 47h1v1H41zM5 48h1v1H5zM29 48h1v1H29zM4 49h1v1H4zM7 49h1v1H7zM4 50h1v1H4zM7 50h1v1H7zM40 50h1v1H40zM40 51h1v1H40zM38 52h2v1H38zM32 53h6v1H32zM33 54h3v1H33z"/><path fill="#bdbe7d" d="M31 0h2v1H31zM31 1h2v1H31zM31 2h2v1H31zM45 2h2v1H45zM31 3h2v1H31zM43 3h1v1H43zM31 4h3v1H31zM42 4h1v1H42zM32 5h3v1H32zM32 6h1v1H32zM35 6h6v1H35zM22 7h1v1H22zM35 7h2v1H35zM35 8h1v1H35zM31 9h1v1H31zM35 9h1v1H35zM34 10h1v1H34zM33 11h1v1H33zM23 20h1v1H23zM27 32h1v1H27zM36 34h2v1H36zM38 35h1v1H38zM39 36h1v1H39zM35 37h1v1H35zM40 37h1v1H40zM34 39h1v1H34zM41 39h1v1H41zM33 41h1v1H33zM31 43h1v1H31zM41 44h1v1H41zM41 45h1v1H41zM28 46h1v1H28zM30 46h1v1H30zM28 47h1v1H28zM30 47h1v1H30zM6 48h1v1H6zM40 48h1v1H40zM8 49h1v1H8zM39 49h2v1H39zM8 50h1v1H8zM39 50h1v1H39zM37 51h3v1H37zM32 52h6v1H32z"/><path fill="#b9bb7c" d="M33 0h1v1H33zM33 1h1v1H33zM44 1h3v1H44zM33 2h2v1H33zM43 2h2v1H43zM33 3h3v1H33zM42 3h1v1H42zM34 4h3v1H34zM41 4h1v1H41zM35 5h7v1H35zM33 6h2v1H33zM32 7h1v1H32zM34 7h1v1H34zM32 10h1v1H32zM22 17h1v1H22zM23 21h1v1H23zM24 26h1v1H24zM25 28h1v1H25zM26 30h1v1H26zM36 35h1v1H36zM27 38h1v1H27zM35 38h1v1H35zM40 38h1v1H40zM27 39h1v1H27zM27 40h1v1H27zM34 40h1v1H34zM41 40h1v1H41zM27 41h1v1H27zM32 42h1v1H32zM41 42h1v1H41zM41 43h1v1H41zM40 46h1v1H40zM40 47h1v1H40zM4 48h1v1H4zM7 48h1v1H7zM30 48h1v1H30zM39 48h1v1H39zM3 49h1v1H3zM9 49h1v1H9zM38 49h1v1H38zM3 50h1v1H3zM9 50h1v1H9zM37 50h2v1H37zM32 51h1v1H32zM35 51h2v1H35z"/><path fill="#b6b97b" d="M34 0h2v1H34zM34 1h2v1H34zM42 1h2v1H42zM35 2h2v1H35zM41 2h2v1H41zM36 3h6v1H36zM37 4h4v1H37zM21 5h1v1H21zM33 7h1v1H33zM22 8h1v1H22zM32 8h1v1H32zM34 8h1v1H34zM32 9h1v1H32zM34 9h1v1H34zM22 16h1v1H22zM22 18h1v1H22zM23 22h1v1H23zM23 23h1v1H23zM24 27h1v1H24zM27 33h1v1H27zM27 34h1v1H27zM27 35h1v1H27zM37 35h1v1H37zM27 36h1v1H27zM36 36h1v1H36zM38 36h1v1H38zM27 37h1v1H27zM39 37h1v1H39zM35 39h1v1H35zM40 39h1v1H40zM34 41h1v1H34zM41 41h1v1H41zM27 42h1v1H27zM27 43h1v1H27zM31 44h1v1H31zM40 44h1v1H40zM40 45h1v1H40zM5 47h1v1H5zM39 47h1v1H39zM3 48h1v1H3zM8 48h1v1H8zM38 48h1v1H38zM2 49h1v1H2zM10 49h1v1H10zM37 49h1v1H37zM2 50h1v1H2zM36 50h1v1H36zM33 51h2v1H33z"/><path fill="#b2b67a" d="M36 0h4v1H36zM36 1h6v1H36zM37 2h4v1H37zM33 8h1v1H33zM33 10h1v1H33zM22 15h1v1H22zM22 19h1v1H22zM23 24h1v1H23zM23 25h1v1H23zM24 28h1v1H24zM25 29h1v1H25zM26 31h1v1H26zM37 36h1v1H37zM36 37h1v1H36zM38 37h1v1H38zM39 38h1v1H39zM40 40h1v1H40zM33 42h1v1H33zM40 42h1v1H40zM32 43h1v1H32zM40 43h1v1H40zM27 44h1v1H27zM31 45h1v1H31zM39 45h1v1H39zM31 46h1v1H31zM39 46h1v1H39zM4 47h1v1H4zM6 47h1v1H6zM31 47h1v1H31zM38 47h1v1H38zM2 48h1v1H2zM9 48h1v1H9zM31 48h1v1H31zM37 48h1v1H37zM0 49h2v1H0zM11 49h1v1H11zM31 49h1v1H31zM36 49h1v1H36zM0 50h2v1H0zM32 50h1v1H32zM34 50h2v1H34z"/><path fill="#f87535" d="M24 1h1v1H24zM44 17h1v1H44z"/><path fill="#fbb05f" d="M25 1h1v1H25zM45 12h2v1H45zM27 13h1v1H27zM43 13h1v1H43zM38 14h1v1H38zM42 14h1v1H42zM38 15h1v1H38zM28 16h1v1H28zM38 16h1v1H38zM41 16h1v1H41zM28 17h1v1H28zM37 17h4v1H37zM30 18h1v1H30zM28 21h1v1H28zM30 23h3v1H30zM45 23h1v1H45zM44 24h1v1H44z"/><path fill="#ddd486" d="M26 1h1v1H26zM27 2h1v1H27zM23 5h1v1H23zM44 7h1v1H44zM41 9h1v1H41zM37 10h1v1H37zM24 12h1v1H24zM31 12h1v1H31zM34 12h1v1H34zM24 13h1v1H24zM24 14h1v1H24zM24 15h1v1H24zM24 16h1v1H24zM24 17h1v1H24zM15 19h7v1H15zM29 31h3v1H29zM34 31h1v1H34zM38 31h1v1H38zM42 36h1v1H42zM44 40h1v1H44zM44 46h1v1H44z"/><path fill="#f9ca74" d="M23 2h1v1H23zM24 3h1v1H24zM26 4h1v1H26zM25 6h1v1H25zM42 12h1v1H42zM41 13h1v1H41zM30 16h1v1H30zM32 17h1v1H32zM36 19h1v1H36zM39 19h2v1H39zM35 20h1v1H35zM27 21h1v1H27zM43 21h1v1H43zM28 23h1v1H28zM29 24h1v1H29zM42 24h1v1H42zM33 25h1v1H33zM45 33h1v1H45z"/><path fill="#f7d07a" d="M24 2h1v1H24zM24 4h1v1H24zM43 11h1v1H43zM39 12h1v1H39zM31 16h1v1H31zM34 16h1v1H34zM41 20h1v1H41zM35 22h1v1H35zM31 25h1v1H31zM34 25h1v1H34zM41 26h1v1H41zM41 27h1v1H41zM41 28h1v1H41zM42 30h1v1H42zM44 33h1v1H44zM45 35h1v1H45z"/><path fill="#e8dc89" d="M26 2h1v1H26zM22 3h1v1H22zM27 3h1v1H27zM27 4h1v1H27zM28 8h1v1H28zM45 8h2v1H45zM43 9h1v1H43zM41 10h1v1H41zM30 12h1v1H30zM25 17h1v1H25zM29 28h1v1H29zM31 29h1v1H31zM36 29h2v1H36zM41 32h1v1H41zM42 34h1v1H42zM43 37h1v1H43z"/><path fill="#fabd69" d="M23 3h1v1H23zM25 4h1v1H25zM26 6h1v1H26zM27 8h1v1H27zM26 9h2v1H26zM36 13h1v1H36zM42 13h1v1H42zM27 15h1v1H27zM29 16h1v1H29zM30 17h1v1H30zM37 18h3v1H37zM34 19h1v1H34zM44 22h1v1H44zM43 24h1v1H43zM44 31h1v1H44z"/><path fill="#fab664" d="M26 3h1v1H26zM26 8h1v1H26zM27 11h1v1H27zM28 13h1v1H28zM38 13h1v1H38zM36 14h1v1H36zM39 14h1v1H39zM36 15h1v1H36zM39 15h1v1H39zM36 16h1v1H36zM40 16h1v1H40zM36 17h1v1H36zM43 20h1v1H43zM45 22h1v1H45zM29 23h1v1H29zM33 23h1v1H33zM44 23h1v1H44zM43 25h1v1H43zM43 26h1v1H43zM43 27h1v1H43zM43 28h1v1H43zM43 29h1v1H43zM45 31h1v1H45z"/><path fill="#d7d084" d="M22 4h1v1H22zM28 6h1v1H28zM45 6h2v1H45zM23 7h1v1H23zM43 7h1v1H43zM40 9h1v1H40zM36 10h1v1H36zM24 19h1v1H24zM25 23h1v1H25zM9 28h12v1H9zM28 30h1v1H28zM36 31h2v1H36zM32 32h2v1H32zM29 33h1v1H29zM44 41h1v1H44zM44 42h1v1H44zM44 43h1v1H44zM43 47h1v1H43z"/><path fill="#c8c680" d="M45 4h2v1H45zM22 5h1v1H22zM42 6h1v1H42zM29 7h1v1H29zM40 7h1v1H40zM30 8h1v1H30zM38 8h1v1H38zM23 9h1v1H23zM30 9h1v1H30zM37 9h1v1H37zM23 10h1v1H23zM31 10h1v1H31zM23 11h1v1H23zM33 12h1v1H33zM23 15h1v1H23zM23 16h1v1H23zM23 18h1v1H23zM24 22h1v1H24zM25 26h1v1H25zM26 28h1v1H26zM27 30h1v1H27zM28 33h1v1H28zM35 33h1v1H35zM38 33h1v1H38zM34 36h1v1H34zM29 37h1v1H29zM34 37h1v1H34zM41 37h1v1H41zM33 39h1v1H33zM31 40h2v1H31zM42 40h1v1H42zM30 42h1v1H30zM42 45h1v1H42zM29 46h1v1H29zM42 46h1v1H42z"/><path fill="#f0e28b" d="M24 5h1v1H24zM27 5h1v1H27zM45 9h2v1H45zM40 11h1v1H40zM25 12h1v1H25zM35 12h1v1H35zM25 13h1v1H25zM31 14h1v1H31zM32 15h1v1H32zM39 21h1v1H39zM39 22h1v1H39zM38 23h1v1H38zM37 24h1v1H37zM28 25h1v1H28zM37 26h1v1H37zM30 27h1v1H30zM36 27h1v1H36zM34 28h1v1H34zM38 28h1v1H38zM38 29h1v1H38zM41 31h1v1H41zM43 35h1v1H43z"/><path fill="#f9c671" d="M25 5h1v1H25zM26 10h1v1H26zM44 11h1v1H44zM37 12h1v1H37zM40 13h1v1H40zM29 14h1v1H29zM35 15h1v1H35zM27 17h1v1H27zM34 17h1v1H34zM35 19h1v1H35zM43 22h1v1H43zM34 23h1v1H34zM44 32h1v1H44z"/><path fill="#fac06c" d="M26 5h1v1H26zM43 12h1v1H43zM39 13h1v1H39zM40 14h2v1H40zM35 17h1v1H35zM33 18h1v1H33zM35 18h2v1H35zM27 19h1v1H27zM44 21h1v1H44zM34 22h1v1H34zM31 24h3v1H31zM43 30h1v1H43zM45 32h1v1H45z"/><path fill="#d3cd83" d="M28 5h1v1H28zM44 6h1v1H44zM41 8h1v1H41zM29 9h1v1H29zM39 9h1v1H39zM30 10h1v1H30zM31 11h1v1H31zM33 13h1v1H33zM25 24h1v1H25zM26 26h1v1H26zM27 28h1v1H27zM34 32h1v1H34zM38 32h1v1H38zM30 33h2v1H30zM29 34h4v1H29zM40 34h1v1H40zM31 35h3v1H31zM41 35h1v1H41zM32 36h2v1H32zM32 37h2v1H32zM42 38h1v1H42zM43 40h1v1H43zM43 46h1v1H43z"/><path fill="#afb479" d="M20 6h2v1H20zM22 9h1v1H22zM33 9h1v1H33zM22 10h1v1H22zM22 11h1v1H22zM22 12h1v1H22zM22 14h1v1H22zM23 26h1v1H23zM23 27h1v1H23zM24 29h1v1H24zM26 37h1v1H26zM26 38h1v1H26zM36 38h1v1H36zM38 38h1v1H38zM26 39h1v1H26zM39 39h1v1H39zM26 40h1v1H26zM35 40h1v1H35zM26 41h1v1H26zM40 41h1v1H40zM34 42h1v1H34zM39 43h1v1H39zM39 44h1v1H39zM27 45h1v1H27zM27 46h1v1H27zM38 46h1v1H38zM27 47h1v1H27zM37 47h1v1H37zM1 48h1v1H1zM10 48h1v1H10zM36 48h1v1H36zM12 49h1v1H12zM35 49h1v1H35zM33 50h1v1H33z"/><path fill="#dad285" d="M23 6h1v1H23zM42 8h1v1H42zM32 13h1v1H32zM24 18h1v1H24zM25 22h1v1H25zM26 25h1v1H26zM27 27h1v1H27zM28 29h1v1H28zM35 31h1v1H35zM29 32h3v1H29zM39 32h1v1H39zM40 33h1v1H40zM41 34h1v1H41zM42 37h1v1H42zM43 39h1v1H43zM44 44h1v1H44zM44 45h1v1H44zM43 48h1v1H43zM43 49h1v1H43z"/><path fill="#f4e189" d="M27 6h1v1H27zM25 10h1v1H25zM26 16h1v1H26zM26 17h1v1H26zM26 18h1v1H26zM26 19h1v1H26zM36 21h1v1H36zM27 23h1v1H27zM36 23h1v1H36zM40 23h1v1H40zM36 24h1v1H36zM39 24h1v1H39zM36 25h1v1H36zM38 25h1v1H38zM38 26h1v1H38zM31 27h1v1H31zM34 27h1v1H34zM39 28h1v1H39zM39 29h1v1H39zM44 37h1v1H44z"/><path fill="#a8af77" d="M19 7h3v1H19zM16 13h1v1H16zM16 14h1v1H16zM14 15h4v1H14zM16 16h5v1H16zM21 18h1v1H21zM22 21h1v1H22zM22 22h1v1H22zM22 28h1v1H22zM15 29h2v1H15zM18 29h2v1H18zM22 29h1v1H22zM24 30h1v1H24zM26 33h1v1H26zM26 34h1v1H26zM37 38h1v1H37zM36 40h1v1H36zM38 40h1v1H38zM35 42h1v1H35zM38 42h1v1H38zM26 43h1v1H26zM34 43h2v1H34zM38 43h1v1H38zM32 45h1v1H32zM37 45h1v1H37zM4 46h1v1H4zM6 46h1v1H6zM32 46h1v1H32zM36 46h1v1H36zM1 47h2v1H1zM8 47h1v1H8zM32 47h1v1H32zM35 47h1v1H35zM12 48h1v1H12zM32 48h1v1H32zM34 48h1v1H34zM33 49h1v1H33z"/><path fill="#ebde8a" d="M24 7h1v1H24zM28 9h1v1H28zM29 11h1v1H29zM36 11h1v1H36zM34 13h1v1H34zM25 15h1v1H25zM33 15h1v1H33zM25 16h1v1H25zM37 21h1v1H37zM37 22h1v1H37zM28 26h1v1H28zM30 28h1v1H30zM32 29h1v1H32zM34 29h2v1H34zM40 31h1v1H40zM42 33h1v1H42zM43 36h1v1H43z"/><path fill="#f8cd77" d="M25 7h1v1H25zM27 7h1v1H27zM25 8h1v1H25zM26 11h1v1H26zM26 12h1v1H26zM38 12h1v1H38zM26 13h1v1H26zM29 13h1v1H29zM35 14h1v1H35zM33 17h1v1H33zM37 19h2v1H37zM35 21h1v1H35zM42 23h1v1H42zM34 24h1v1H34zM32 25h1v1H32zM43 31h1v1H43zM45 34h1v1H45z"/><path fill="#fab966" d="M26 7h1v1H26zM27 10h1v1H27zM40 15h2v1H40zM32 18h1v1H32zM40 18h1v1H40zM34 20h1v1H34zM34 21h1v1H34zM45 21h1v1H45zM28 22h1v1H28z"/><path fill="#dfd686" d="M28 7h1v1H28zM45 7h2v1H45zM43 8h1v1H43zM24 10h1v1H24zM29 10h1v1H29zM38 10h1v1H38zM24 11h1v1H24zM30 11h1v1H30zM35 11h1v1H35zM33 14h1v1H33zM25 21h1v1H25zM26 24h1v1H26zM27 26h1v1H27zM28 28h1v1H28zM29 30h1v1H29zM36 30h2v1H36zM32 31h2v1H32zM40 32h1v1H40zM41 33h1v1H41zM43 38h1v1H43zM44 47h1v1H44zM44 50h1v1H44z"/><path fill="#a2aa75" d="M19 8h3v1H19zM17 12h1v1H17zM18 13h1v1H18zM19 14h1v1H19zM20 15h2v1H20zM14 16h1v1H14zM15 17h1v1H15zM17 18h1v1H17zM11 29h2v1H11zM22 30h1v1H22zM24 31h1v1H24zM25 36h1v1H25zM24 37h1v1H24zM37 40h1v1H37zM37 41h1v1H37zM37 42h1v1H37zM5 45h1v1H5zM26 45h1v1H26zM34 45h2v1H34zM1 46h2v1H1zM7 46h1v1H7zM26 46h1v1H26zM33 46h2v1H33zM9 47h1v1H9zM33 47h1v1H33z"/><path fill="#e5da88" d="M24 8h1v1H24zM44 8h1v1H44zM31 13h1v1H31zM32 14h1v1H32zM25 18h1v1H25zM25 19h1v1H25zM26 23h1v1H26zM27 25h1v1H27zM28 27h1v1H28zM30 29h1v1H30zM32 30h3v1H32zM38 30h1v1H38zM44 39h1v1H44z"/><path fill="#9ba573" d="M18 9h4v1H18zM17 10h2v1H17zM18 11h2v1H18zM19 12h2v1H19zM20 13h1v1H20zM21 14h1v1H21zM14 17h1v1H14zM15 18h1v1H15zM20 20h1v1H20zM21 26h1v1H21zM16 27h4v1H16zM8 29h1v1H8zM13 30h2v1H13zM22 31h1v1H22zM24 32h1v1H24zM25 34h1v1H25zM24 35h1v1H24zM23 37h1v1H23zM23 38h1v1H23zM25 43h1v1H25zM1 45h2v1H1zM6 45h1v1H6zM8 46h1v1H8zM13 47h1v1H13zM25 47h1v1H25zM15 49h1v1H15z"/><path fill="#e2d887" d="M24 9h1v1H24zM42 9h1v1H42zM39 10h2v1H39zM25 20h1v1H25zM29 29h1v1H29zM30 30h2v1H30zM35 30h1v1H35zM39 31h1v1H39zM42 35h1v1H42zM44 48h1v1H44zM44 49h1v1H44z"/><path fill="#f6d780" d="M25 9h1v1H25zM45 10h2v1H45zM28 11h1v1H28zM40 12h2v1H40zM26 14h1v1H26zM36 20h1v1H36zM40 20h1v1H40zM35 24h1v1H35zM41 24h1v1H41zM35 25h1v1H35zM34 26h1v1H34zM43 32h1v1H43z"/><path fill="#98a372" d="M19 10h3v1H19zM20 11h2v1H20zM21 12h1v1H21zM21 13h1v1H21zM13 17h1v1H13zM14 18h1v1H14zM21 21h1v1H21zM21 22h1v1H21zM21 23h1v1H21zM21 24h1v1H21zM21 25h1v1H21zM19 26h2v1H19zM12 27h4v1H12zM8 28h1v1H8zM7 29h1v1H7zM10 30h3v1H10zM20 31h2v1H20zM23 32h1v1H23zM25 33h1v1H25zM24 34h1v1H24zM23 35h1v1H23zM23 36h1v1H23zM23 39h1v1H23zM23 40h1v1H23zM23 41h1v1H23zM24 42h1v1H24zM2 44h4v1H2zM25 46h1v1H25zM15 48h1v1H15z"/><path fill="#f3e48c" d="M28 10h1v1H28zM43 10h1v1H43zM25 11h1v1H25zM37 11h3v1H37zM41 11h1v1H41zM30 13h1v1H30zM34 14h1v1H34zM26 20h1v1H26zM26 21h1v1H26zM40 21h1v1H40zM36 22h1v1H36zM40 22h1v1H40zM39 23h1v1H39zM38 24h1v1H38zM37 25h1v1H37zM29 26h1v1H29zM36 26h1v1H36zM35 27h1v1H35zM38 27h1v1H38zM32 28h2v1H32zM40 30h1v1H40zM42 32h1v1H42zM43 34h1v1H43z"/><path fill="#f5da83" d="M44 10h1v1H44zM42 11h1v1H42zM30 14h1v1H30zM34 15h1v1H34zM32 16h1v1H32zM38 20h2v1H38zM41 23h1v1H41zM28 24h1v1H28zM29 25h1v1H29zM40 25h1v1H40zM31 26h1v1H31zM40 26h1v1H40zM33 27h1v1H33zM40 27h1v1H40zM40 28h1v1H40zM40 29h1v1H40zM42 31h1v1H42zM44 35h1v1H44z"/><path fill="#9ea874" d="M17 11h1v1H17zM18 12h1v1H18zM19 13h1v1H19zM20 14h1v1H20zM13 16h1v1H13zM16 18h1v1H16zM21 20h1v1H21zM20 27h2v1H20zM9 29h2v1H9zM15 30h7v1H15zM23 31h1v1H23zM25 32h1v1H25zM25 35h1v1H25zM24 36h1v1H24zM24 38h1v1H24zM24 39h1v1H24zM24 40h1v1H24zM24 41h1v1H24zM25 42h1v1H25zM3 45h2v1H3zM33 45h1v1H33zM10 47h3v1H10zM14 48h1v1H14z"/><path fill="#a5ac76" d="M16 12h1v1H16zM17 13h1v1H17zM17 14h2v1H17zM18 15h2v1H18zM15 16h1v1H15zM21 16h1v1H21zM16 17h1v1H16zM18 18h3v1H18zM22 23h1v1H22zM22 24h1v1H22zM22 25h1v1H22zM22 26h1v1H22zM22 27h1v1H22zM13 29h2v1H13zM20 29h2v1H20zM23 30h1v1H23zM25 31h1v1H25zM25 37h1v1H25zM25 38h1v1H25zM25 39h1v1H25zM37 39h1v1H37zM25 40h1v1H25zM25 41h1v1H25zM36 41h1v1H36zM38 41h1v1H38zM36 42h1v1H36zM36 43h2v1H36zM26 44h1v1H26zM33 44h5v1H33zM36 45h1v1H36zM3 46h1v1H3zM35 46h1v1H35zM26 47h1v1H26zM34 47h1v1H34zM13 48h1v1H13zM33 48h1v1H33zM14 49h1v1H14z"/><path fill="#fab362" d="M27 12h1v1H27zM44 12h1v1H44zM27 14h2v1H27zM28 15h1v1H28zM39 16h1v1H39zM29 17h1v1H29zM31 18h1v1H31zM41 18h1v1H41zM33 19h1v1H33zM42 19h1v1H42zM44 30h1v1H44z"/><path fill="#f4dd86" d="M29 12h1v1H29zM26 15h1v1H26zM31 15h1v1H31zM33 16h1v1H33zM37 20h1v1H37zM41 21h1v1H41zM41 22h1v1H41zM40 24h1v1H40zM39 25h1v1H39zM30 26h1v1H30zM35 26h1v1H35zM39 26h1v1H39zM32 27h1v1H32zM39 27h1v1H39zM41 30h1v1H41zM43 33h1v1H43zM44 36h1v1H44z"/><path fill="#f6d47d" d="M36 12h1v1H36zM35 13h1v1H35zM30 15h1v1H30zM42 21h1v1H42zM27 22h1v1H27zM42 22h1v1H42zM35 23h1v1H35zM30 25h1v1H30zM41 25h1v1H41zM32 26h2v1H32zM41 29h1v1H41zM44 34h1v1H44z"/><path fill="#abb178" d="M15 13h1v1H15zM22 13h1v1H22zM15 14h1v1H15zM17 17h5v1H17zM22 20h1v1H22zM23 28h1v1H23zM17 29h1v1H17zM23 29h1v1H23zM25 30h1v1H25zM26 32h1v1H26zM26 35h1v1H26zM26 36h1v1H26zM37 37h1v1H37zM36 39h1v1H36zM38 39h1v1H38zM39 40h1v1H39zM35 41h1v1H35zM39 41h1v1H39zM26 42h1v1H26zM39 42h1v1H39zM33 43h1v1H33zM32 44h1v1H32zM38 44h1v1H38zM38 45h1v1H38zM5 46h1v1H5zM37 46h1v1H37zM3 47h1v1H3zM7 47h1v1H7zM36 47h1v1H36zM11 48h1v1H11zM35 48h1v1H35zM13 49h1v1H13zM32 49h1v1H32zM34 49h1v1H34z"/><path fill="#fbad5c" d="M37 13h1v1H37zM37 16h1v1H37zM33 22h1v1H33zM45 30h1v1H45z"/><path fill="#fb9d51" d="M45 13h2v1H45zM31 20h1v1H31zM31 21h2v1H31z"/><path fill="#fba658" d="M37 14h1v1H37zM28 19h1v1H28zM33 21h1v1H33zM29 22h1v1H29z"/><path fill="#fa954b" d="M44 14h1v1H44z"/><path fill="#fa8f47" d="M45 14h2v1H45zM43 16h1v1H43zM45 19h1v1H45z"/><path fill="#fba95a" d="M37 15h1v1H37zM42 15h1v1H42zM41 17h1v1H41zM28 18h2v1H28zM32 19h1v1H32zM28 20h1v1H28zM33 20h1v1H33zM44 20h1v1H44zM45 24h1v1H45zM44 25h1v1H44zM44 26h1v1H44zM44 27h1v1H44zM44 28h1v1H44zM44 29h1v1H44z"/><path fill="#fb9b4f" d="M43 15h1v1H43z"/><path fill="#fa8d45" d="M44 15h1v1H44z"/><path fill="#fa843f" d="M45 15h2v1H45zM44 18h1v1H44z"/><path fill="#fba053" d="M42 16h1v1H42zM30 20h1v1H30zM32 20h1v1H32zM31 22h1v1H31z"/><path fill="#f9813d" d="M44 16h1v1H44z"/><path fill="#f87837" d="M45 16h2v1H45z"/><path fill="#fb984d" d="M42 17h1v1H42zM44 19h1v1H44z"/><path fill="#fa8741" d="M43 17h1v1H43z"/><path fill="#f66c2f" d="M45 17h2v1H45z"/><path fill="#94a071" d="M12 18h2v1H12zM11 19h1v1H11zM14 19h1v1H14zM19 20h1v1H19zM20 21h1v1H20zM20 22h1v1H20zM20 23h1v1H20zM20 24h1v1H20zM20 25h1v1H20zM7 26h1v1H7zM18 26h1v1H18zM7 27h5v1H7zM6 28h2v1H6zM6 29h1v1H6zM7 30h3v1H7zM17 31h3v1H17zM22 32h1v1H22zM24 33h1v1H24zM23 34h1v1H23zM22 36h1v1H22zM22 37h1v1H22zM22 38h1v1H22zM22 39h1v1H22zM23 42h1v1H23zM2 43h2v1H2zM24 43h1v1H24zM6 44h1v1H6zM25 44h1v1H25zM7 45h1v1H7zM25 45h1v1H25zM9 46h1v1H9zM14 47h1v1H14zM24 47h1v1H24zM23 48h1v1H23zM16 49h1v1H16z"/><path fill="#fa9249" d="M43 18h1v1H43z"/><path fill="#f87b39" d="M45 18h1v1H45z"/><path fill="#919e70" d="M12 19h2v1H12zM11 20h2v1H11zM18 20h1v1H18zM10 21h1v1H10zM8 24h1v1H8zM19 24h1v1H19zM19 25h1v1H19zM8 26h10v1H8zM6 30h1v1H6zM5 31h3v1H5zM13 31h4v1H13zM5 32h1v1H5zM21 32h1v1H21zM5 33h1v1H5zM23 33h1v1H23zM22 34h1v1H22zM22 35h1v1H22zM21 36h1v1H21zM21 37h1v1H21zM22 40h1v1H22zM22 41h1v1H22zM2 42h1v1H2zM4 43h2v1H4zM23 43h1v1H23zM24 44h1v1H24zM10 46h4v1H10zM24 46h1v1H24zM23 47h1v1H23z"/><path fill="#8d9c6f" d="M13 20h5v1H13zM11 21h2v1H11zM19 21h1v1H19zM10 22h2v1H10zM19 22h1v1H19zM9 23h3v1H9zM19 23h1v1H19zM9 24h1v1H9zM8 25h1v1H8zM18 25h1v1H18zM8 31h5v1H8zM6 32h1v1H6zM20 32h1v1H20zM6 33h1v1H6zM22 33h1v1H22zM21 34h1v1H21zM21 35h1v1H21zM21 38h1v1H21zM21 39h1v1H21zM2 41h1v1H2zM3 42h1v1H3zM22 42h1v1H22zM6 43h1v1H6zM7 44h1v1H7zM23 44h1v1H23zM8 45h1v1H8zM24 45h1v1H24zM14 46h1v1H14zM23 46h1v1H23zM15 47h1v1H15zM16 48h1v1H16zM22 48h1v1H22z"/><path fill="#89996e" d="M13 21h2v1H13zM18 21h1v1H18zM12 22h3v1H12zM18 22h1v1H18zM12 23h4v1H12zM18 23h1v1H18zM10 24h7v1H10zM18 24h1v1H18zM9 25h9v1H9zM7 32h2v1H7zM18 32h2v1H18zM21 33h1v1H21zM4 34h3v1H4zM20 35h1v1H20zM20 36h1v1H20zM20 37h1v1H20zM20 38h1v1H20zM20 39h1v1H20zM21 40h1v1H21zM3 41h1v1H3zM21 41h1v1H21zM4 42h2v1H4zM22 43h1v1H22zM23 45h1v1H23zM22 46h1v1H22zM22 47h1v1H22zM21 48h1v1H21zM17 49h4v1H17z"/><path fill="#85966d" d="M15 21h2v1H15zM15 22h3v1H15zM16 23h2v1H16zM17 24h1v1H17zM9 32h1v1H9zM12 32h6v1H12zM7 33h1v1H7zM20 33h1v1H20zM20 34h1v1H20zM4 35h2v1H4zM19 36h1v1H19zM19 37h1v1H19zM3 38h1v1H3zM19 38h1v1H19zM3 39h1v1H3zM3 40h1v1H3zM20 40h1v1H20zM4 41h1v1H4zM20 41h1v1H20zM6 42h1v1H6zM21 42h1v1H21zM7 43h1v1H7zM21 43h1v1H21zM8 44h1v1H8zM22 44h1v1H22zM12 45h2v1H12zM22 45h1v1H22zM15 46h1v1H15zM21 46h1v1H21zM16 47h1v1H16zM20 47h2v1H20zM17 48h4v1H17z"/><path fill="#81946c" d="M17 21h1v1H17zM10 32h2v1H10zM8 33h1v1H8zM19 33h1v1H19zM7 34h1v1H7zM19 34h1v1H19zM6 35h1v1H6zM19 35h1v1H19zM4 36h2v1H4zM3 37h1v1H3zM4 38h1v1H4zM4 39h1v1H4zM19 39h1v1H19zM4 40h1v1H4zM19 40h1v1H19zM19 41h1v1H19zM7 42h1v1H7zM20 42h1v1H20zM8 43h1v1H8zM13 44h1v1H13zM21 44h1v1H21zM9 45h3v1H9zM14 45h1v1H14zM21 45h1v1H21zM20 46h1v1H20zM19 47h1v1H19z"/><path fill="#798f6b" d="M9 33h9v1H9zM9 34h1v1H9zM16 34h2v1H16zM8 35h1v1H8zM17 35h1v1H17zM7 36h1v1H7zM17 36h1v1H17zM5 37h2v1H5zM17 37h1v1H17zM5 38h2v1H5zM17 38h1v1H17zM5 39h3v1H5zM17 39h1v1H17zM6 40h5v1H6zM15 40h3v1H15zM7 41h11v1H7zM9 42h4v1H9zM14 42h2v1H14zM18 42h1v1H18zM9 43h3v1H9zM14 43h2v1H14zM19 43h1v1H19zM10 44h1v1H10zM15 45h1v1H15zM18 46h1v1H18z"/><path fill="#7d926c" d="M18 33h1v1H18zM8 34h1v1H8zM18 34h1v1H18zM7 35h1v1H7zM18 35h1v1H18zM6 36h1v1H6zM18 36h1v1H18zM4 37h1v1H4zM18 37h1v1H18zM18 38h1v1H18zM18 39h1v1H18zM5 40h1v1H5zM18 40h1v1H18zM5 41h2v1H5zM18 41h1v1H18zM8 42h1v1H8zM13 42h1v1H13zM19 42h1v1H19zM12 43h2v1H12zM20 43h1v1H20zM9 44h1v1H9zM11 44h2v1H11zM14 44h1v1H14zM20 44h1v1H20zM20 45h1v1H20zM16 46h1v1H16zM19 46h1v1H19zM17 47h2v1H17z"/><path fill="#758c6a" d="M10 34h6v1H10zM9 35h2v1H9zM15 35h2v1H15zM8 36h2v1H8zM16 36h1v1H16zM7 37h2v1H7zM16 37h1v1H16zM7 38h3v1H7zM16 38h1v1H16zM8 39h4v1H8zM14 39h3v1H14zM11 40h4v1H11zM16 42h2v1H16zM16 43h1v1H16zM18 43h1v1H18zM15 44h1v1H15zM19 44h1v1H19zM19 45h1v1H19zM17 46h1v1H17z"/><path fill="#718a69" d="M11 35h4v1H11zM10 36h2v1H10zM15 36h1v1H15zM9 37h2v1H9zM15 37h1v1H15zM10 38h3v1H10zM14 38h2v1H14zM12 39h2v1H12zM17 43h1v1H17zM16 44h1v1H16zM18 44h1v1H18zM16 45h1v1H16zM18 45h1v1H18z"/><path fill="#6d8868" d="M12 36h3v1H12zM11 37h2v1H11zM14 37h1v1H14zM13 38h1v1H13zM17 44h1v1H17zM17 45h1v1H17z"/><path fill="#698567" d="M13 37h1v1H13z"/></g><g transform="translate(556.5 628.5)"><path d="M0 0 L0 62.7" stroke="#000" stroke-width="1.15"/><path d="M0 0 L6.7 21.6 L6.4 22.6 L0.3 19.9 Z" fill="#000"/><text x="-0.8" y="55" font-family="'Liberation Serif', serif" font-size="33.5" text-anchor="middle" fill="#000">N</text></g><g transform="translate(554.8 1152.2)"><path d="M0 0.5H108.4" stroke="#8a8a8a" stroke-width="1.2"/><path d="M0 -14V0" stroke="#efefef" stroke-width="1"/><path d="M72.2 -6.5V0" stroke="#333" stroke-width="1.2"/><path d="M108.4 -15V0.8" stroke="#777" stroke-width="1.2"/><text x="118" y="4" font-family="'Liberation Serif', serif" font-size="31" fill="#000">60 m</text></g><g transform="translate(1031.8 638.4) scale(9)" shape-rendering="crispEdges"><path fill="#fbb05f" d="M24 0h1v1H24z"/><path fill="#e8dc89" d="M25 0h1v1H25zM45 18h1v1H45zM44 26h1v1H44zM45 29h1v1H45z"/><path fill="#a5ac76" d="M26 0h1v1H26zM26 1h1v1H26zM23 5h1v1H23zM26 5h1v1H26zM26 6h1v1H26zM26 7h1v1H26zM24 8h1v1H24zM26 8h1v1H26zM26 9h1v1H26zM28 11h1v1H28zM24 12h1v1H24zM30 12h1v1H30zM39 12h1v1H39zM43 12h1v1H43zM24 13h1v1H24zM31 13h1v1H31zM41 13h1v1H41zM24 14h1v1H24zM38 20h3v1H38zM42 21h1v1H42zM41 22h1v1H41zM25 23h1v1H25zM40 23h1v1H40zM36 24h1v1H36zM39 24h2v1H39zM36 25h1v1H36zM39 25h1v1H39zM27 26h1v1H27zM36 26h1v1H36zM38 26h1v1H38zM36 27h1v1H36zM38 27h1v1H38zM28 28h1v1H28zM36 28h3v1H36zM36 29h2v1H36zM29 30h6v1H29zM40 30h1v1H40zM43 34h1v1H43zM44 36h1v1H44zM29 40h1v1H29zM29 41h1v1H29zM29 42h1v1H29zM28 46h1v1H28zM44 46h1v1H44zM28 47h1v1H28zM44 47h1v1H44zM0 49h6v1H0zM0 50h6v1H0zM44 50h1v1H44z"/><path fill="#89996e" d="M27 0h1v1H27zM27 1h1v1H27zM20 6h1v1H20zM28 6h1v1H28zM28 7h1v1H28zM28 8h1v1H28zM28 9h1v1H28zM23 10h1v1H23zM29 10h1v1H29zM36 10h1v1H36zM40 10h4v1H40zM23 11h1v1H23zM31 11h1v1H31zM32 12h1v1H32zM33 13h1v1H33zM23 14h1v1H23zM23 15h1v1H23zM23 20h1v1H23zM23 22h1v1H23zM24 25h1v1H24zM25 27h1v1H25zM26 29h1v1H26zM27 32h1v1H27zM37 33h1v1H37zM36 34h1v1H36zM38 34h1v1H38zM39 35h1v1H39zM39 36h1v1H39zM27 38h1v1H27zM35 38h1v1H35zM40 38h1v1H40zM27 39h1v1H27zM35 39h1v1H35zM40 39h1v1H40zM27 40h1v1H27zM26 44h1v1H26zM32 44h1v1H32zM3 46h1v1H3zM26 46h1v1H26zM40 46h1v1H40zM26 47h1v1H26zM40 47h1v1H40zM9 48h1v1H9zM39 48h1v1H39zM11 49h1v1H11zM32 49h1v1H32zM38 49h1v1H38zM37 50h2v1H37zM33 51h4v1H33z"/><path fill="#798f6b" d="M28 0h1v1H28zM28 1h1v1H28zM29 5h1v1H29zM29 6h2v1H29zM20 7h1v1H20zM29 7h1v1H29zM29 8h1v1H29zM36 8h7v1H36zM29 9h1v1H29zM35 9h1v1H35zM43 9h4v1H43zM34 10h1v1H34zM33 11h1v1H33zM25 29h1v1H25zM25 30h1v1H25zM26 34h1v1H26zM26 35h1v1H26zM26 36h1v1H26zM26 37h1v1H26zM37 37h1v1H37zM26 38h1v1H26zM37 38h1v1H37zM26 39h1v1H26zM26 40h1v1H26zM36 40h1v1H36zM38 40h1v1H38zM36 41h1v1H36zM38 41h1v1H38zM38 42h1v1H38zM2 43h1v1H2zM25 43h1v1H25zM35 43h1v1H35zM34 44h1v1H34zM33 45h1v1H33zM33 46h1v1H33zM38 46h1v1H38zM10 47h1v1H10zM25 47h1v1H25zM33 47h5v1H33zM33 48h2v1H33zM14 49h1v1H14z"/><path fill="#6d8868" d="M29 0h2v1H29zM29 1h2v1H29zM29 2h4v1H29zM32 3h2v1H32zM34 4h2v1H34zM35 5h1v1H35zM36 6h11v1H36zM20 8h2v1H20zM33 9h1v1H33zM22 13h1v1H22zM22 14h1v1H22zM22 19h1v1H22zM22 25h1v1H22zM23 27h1v1H23zM24 29h1v1H24zM24 30h1v1H24zM25 35h1v1H25zM25 36h1v1H25zM25 41h1v1H25zM3 42h1v1H3zM24 43h1v1H24zM37 43h1v1H37zM4 44h1v1H4zM36 44h2v1H36zM6 45h1v1H6zM23 45h1v1H23zM36 45h2v1H36zM9 46h1v1H9zM23 46h1v1H23zM14 47h1v1H14zM15 48h1v1H15z"/><path fill="#698567" d="M31 0h3v1H31zM31 1h3v1H31zM45 1h2v1H45zM33 2h2v1H33zM45 2h2v1H45zM34 3h2v1H34zM45 3h2v1H45zM36 4h1v1H36zM44 4h3v1H44zM36 5h4v1H36zM42 5h5v1H42zM19 8h1v1H19zM15 13h1v1H15zM22 15h1v1H22zM22 16h1v1H22zM22 18h1v1H22zM22 26h1v1H22zM23 28h1v1H23zM24 31h1v1H24zM24 32h1v1H24zM24 33h1v1H24zM25 37h1v1H25zM25 38h1v1H25zM25 39h1v1H25zM25 40h1v1H25zM3 41h1v1H3zM24 42h1v1H24zM4 43h1v1H4zM5 44h1v1H5zM23 44h1v1H23zM7 45h1v1H7zM10 46h3v1H10zM23 47h1v1H23zM23 48h1v1H23zM16 49h1v1H16z"/><path fill="#658266" d="M34 0h2v1H34zM34 1h2v1H34zM44 1h1v1H44zM35 2h2v1H35zM44 2h1v1H44zM36 3h2v1H36zM43 3h2v1H43zM37 4h2v1H37zM42 4h2v1H42zM40 5h2v1H40zM22 17h1v1H22zM24 34h1v1H24zM24 35h1v1H24zM24 36h1v1H24zM24 37h1v1H24zM24 38h1v1H24zM24 39h1v1H24zM3 40h1v1H3zM24 40h1v1H24zM24 41h1v1H24zM4 42h1v1H4zM23 43h1v1H23zM8 45h1v1H8zM13 46h2v1H13zM22 46h1v1H22zM15 47h1v1H15zM22 47h1v1H22zM16 48h1v1H16zM22 48h1v1H22z"/><path fill="#607f65" d="M36 0h2v1H36zM36 1h2v1H36zM43 1h1v1H43zM37 2h1v1H37zM43 2h1v1H43zM38 3h1v1H38zM42 3h1v1H42zM39 4h3v1H39zM16 12h1v1H16zM15 14h1v1H15zM14 15h1v1H14zM21 21h1v1H21zM21 22h1v1H21zM21 23h1v1H21zM21 24h1v1H21zM21 25h1v1H21zM22 27h1v1H22zM23 29h1v1H23zM23 30h1v1H23zM3 39h1v1H3zM4 41h1v1H4zM23 42h1v1H23zM5 43h1v1H5zM6 44h1v1H6zM22 44h1v1H22zM22 45h1v1H22zM15 46h1v1H15zM16 47h1v1H16zM17 48h1v1H17zM19 48h3v1H19zM17 49h4v1H17z"/><path fill="#5c7c64" d="M38 0h1v1H38zM38 1h1v1H38zM38 2h1v1H38zM42 2h1v1H42zM39 3h3v1H39zM18 9h4v1H18zM16 13h1v1H16zM15 15h1v1H15zM13 16h1v1H13zM20 22h1v1H20zM20 23h1v1H20zM20 24h1v1H20zM20 25h1v1H20zM23 31h1v1H23zM23 32h1v1H23zM23 33h1v1H23zM23 34h1v1H23zM23 35h1v1H23zM23 36h1v1H23zM23 37h1v1H23zM23 38h1v1H23zM23 39h1v1H23zM4 40h1v1H4zM23 40h1v1H23zM23 41h1v1H23zM5 42h1v1H5zM6 43h1v1H6zM22 43h1v1H22zM7 44h2v1H7zM9 45h5v1H9zM21 46h1v1H21zM17 47h5v1H17zM18 48h1v1H18z"/><path fill="#587963" d="M39 0h1v1H39zM39 1h1v1H39zM42 1h1v1H42zM39 2h1v1H39zM17 10h5v1H17zM16 14h1v1H16zM16 15h1v1H16zM14 16h2v1H14zM21 20h1v1H21zM20 21h1v1H20zM19 24h1v1H19zM19 25h1v1H19zM20 26h2v1H20zM22 28h1v1H22zM3 38h1v1H3zM4 39h1v1H4zM22 41h1v1H22zM22 42h1v1H22zM7 43h1v1H7zM9 44h1v1H9zM12 44h2v1H12zM21 44h1v1H21zM14 45h2v1H14zM20 45h2v1H20zM16 46h1v1H16zM18 46h3v1H18z"/><path fill="#fba95a" d="M23 1h2v1H23z"/><path fill="#ede08a" d="M25 1h1v1H25zM23 2h1v1H23zM25 3h1v1H25zM30 19h1v1H30zM28 23h1v1H28zM45 27h1v1H45z"/><path fill="#547662" d="M40 1h2v1H40zM40 2h2v1H40zM17 11h5v1H17zM17 12h5v1H17zM16 16h1v1H16zM13 17h1v1H13zM12 18h1v1H12zM21 19h1v1H21zM20 20h1v1H20zM19 21h1v1H19zM19 22h1v1H19zM19 23h1v1H19zM18 25h1v1H18zM19 26h1v1H19zM21 27h1v1H21zM22 29h1v1H22zM22 30h1v1H22zM22 31h1v1H22zM22 32h1v1H22zM22 34h1v1H22zM22 35h1v1H22zM22 36h1v1H22zM3 37h1v1H3zM22 37h1v1H22zM4 38h1v1H4zM22 38h1v1H22zM22 39h1v1H22zM22 40h1v1H22zM5 41h1v1H5zM6 42h2v1H6zM13 42h2v1H13zM21 42h1v1H21zM8 43h2v1H8zM11 43h5v1H11zM19 43h3v1H19zM10 44h2v1H10zM14 44h2v1H14zM19 44h2v1H19zM16 45h1v1H16zM18 45h2v1H18zM17 46h1v1H17z"/><path fill="#f9ca74" d="M24 2h1v1H24z"/><path fill="#f7d07a" d="M25 2h1v1H25zM29 20h1v1H29z"/><path fill="#b2b67a" d="M26 2h1v1H26zM26 3h1v1H26zM21 4h1v1H21zM25 5h1v1H25zM25 8h1v1H25zM25 9h1v1H25zM26 11h1v1H26zM29 12h1v1H29zM37 12h1v1H37zM39 13h1v1H39zM43 13h1v1H43zM35 14h1v1H35zM42 14h1v1H42zM31 15h1v1H31zM32 16h1v1H32zM34 16h1v1H34zM40 16h2v1H40zM25 17h1v1H25zM25 18h1v1H25zM39 18h1v1H39zM41 18h1v1H41zM25 19h1v1H25zM44 21h1v1H44zM35 23h1v1H35zM41 25h1v1H41zM28 26h1v1H28zM34 26h1v1H34zM41 26h1v1H41zM41 27h1v1H41zM41 28h1v1H41zM41 29h1v1H41zM43 32h1v1H43zM44 33h1v1H44zM45 34h1v1H45z"/><path fill="#8d9c6f" d="M27 2h1v1H27zM21 6h1v1H21zM22 7h1v1H22zM23 9h1v1H23zM38 10h2v1H38zM23 12h1v1H23zM23 13h1v1H23zM23 21h1v1H23zM26 28h1v1H26zM27 31h1v1H27zM36 33h1v1H36zM38 33h2v1H38zM39 34h1v1H39zM35 35h1v1H35zM40 35h1v1H40zM35 36h1v1H35zM40 36h1v1H40zM35 37h1v1H35zM40 37h1v1H40zM41 39h1v1H41zM41 40h1v1H41zM27 41h1v1H27zM34 41h1v1H34zM41 41h1v1H41zM33 42h1v1H33zM41 42h1v1H41zM32 43h1v1H32zM41 43h1v1H41zM41 44h1v1H41zM26 45h1v1H26zM41 45h1v1H41zM1 46h2v1H1zM41 46h1v1H41zM6 47h1v1H6zM40 48h1v1H40zM10 49h1v1H10zM39 49h2v1H39zM32 50h1v1H32zM39 50h1v1H39zM37 51h3v1H37zM33 52h5v1H33z"/><path fill="#7d926c" d="M28 2h1v1H28zM21 7h1v1H21zM36 9h1v1H36zM41 9h2v1H41zM31 10h1v1H31zM23 25h1v1H23zM24 27h1v1H24zM26 32h1v1H26zM26 33h1v1H26zM37 36h1v1H37zM36 38h1v1H36zM38 38h1v1H38zM36 39h1v1H36zM38 39h1v1H38zM26 41h1v1H26zM39 41h1v1H39zM35 42h1v1H35zM39 42h1v1H39zM34 43h1v1H34zM39 43h1v1H39zM2 44h1v1H2zM25 44h1v1H25zM33 44h1v1H33zM39 44h1v1H39zM3 45h1v1H3zM39 45h1v1H39zM6 46h1v1H6zM25 46h1v1H25zM9 47h1v1H9zM38 47h1v1H38zM12 48h2v1H12zM35 48h3v1H35zM33 49h2v1H33z"/><path fill="#d0cb82" d="M22 3h3v1H22zM25 4h1v1H25zM29 15h1v1H29zM29 16h1v1H29zM29 17h1v1H29zM26 21h1v1H26zM44 23h1v1H44zM43 24h1v1H43z"/><path fill="#919e70" d="M27 3h1v1H27zM37 10h1v1H37zM35 11h1v1H35zM41 11h1v1H41zM34 12h1v1H34zM24 24h1v1H24zM25 26h1v1H25zM27 30h1v1H27zM36 32h3v1H36zM28 33h1v1H28zM35 33h1v1H35zM40 33h1v1H40zM28 34h1v1H28zM35 34h1v1H35zM40 34h1v1H40zM28 35h1v1H28zM41 37h1v1H41zM41 38h1v1H41zM34 39h1v1H34zM34 40h1v1H34zM42 40h1v1H42zM42 41h1v1H42zM27 42h1v1H27zM42 42h1v1H42zM31 45h1v1H31zM4 47h2v1H4zM41 47h1v1H41zM8 48h1v1H8zM41 48h1v1H41zM9 49h1v1H9zM9 50h1v1H9zM40 50h1v1H40zM32 51h1v1H32zM40 51h1v1H40zM32 52h1v1H32zM38 52h2v1H38zM33 53h5v1H33zM33 54h3v1H33z"/><path fill="#81946c" d="M28 3h1v1H28zM22 8h1v1H22zM37 9h4v1H37zM30 10h1v1H30zM35 10h1v1H35zM32 11h1v1H32zM33 12h1v1H33zM23 17h1v1H23zM23 24h1v1H23zM24 26h1v1H24zM25 28h1v1H25zM26 31h1v1H26zM37 35h1v1H37zM36 37h1v1H36zM38 37h1v1H38zM39 39h1v1H39zM39 40h1v1H39zM35 41h1v1H35zM26 42h1v1H26zM2 45h1v1H2zM25 45h1v1H25zM5 46h1v1H5zM39 46h1v1H39zM8 47h1v1H8zM11 48h1v1H11zM13 49h1v1H13zM35 49h2v1H35zM33 50h1v1H33z"/><path fill="#718a69" d="M29 3h3v1H29zM31 4h3v1H31zM34 5h1v1H34zM34 6h2v1H34zM33 7h14v1H33zM32 8h3v1H32zM31 9h2v1H31zM34 9h1v1H34zM22 10h1v1H22zM33 10h1v1H33zM22 11h1v1H22zM22 12h1v1H22zM22 20h1v1H22zM22 23h1v1H22zM22 24h1v1H22zM25 33h1v1H25zM25 34h1v1H25zM37 41h1v1H37zM25 42h1v1H25zM37 42h1v1H37zM3 43h1v1H3zM36 43h1v1H36zM5 45h1v1H5zM35 45h1v1H35zM8 46h1v1H8zM36 46h1v1H36zM13 47h1v1H13zM24 47h1v1H24zM15 49h1v1H15z"/><path fill="#b9bb7c" d="M22 4h2v1H22zM25 11h1v1H25zM26 12h1v1H26zM44 13h1v1H44zM25 15h1v1H25zM42 15h1v1H42zM31 16h1v1H31zM35 16h1v1H35zM26 17h1v1H26zM33 17h2v1H33zM39 17h1v1H39zM41 17h1v1H41zM36 18h2v1H36zM42 19h1v1H42zM35 20h1v1H35zM43 20h1v1H43zM35 21h1v1H35zM26 23h1v1H26zM33 26h1v1H33zM42 30h1v1H42zM45 33h1v1H45z"/><path fill="#c1c07e" d="M24 4h1v1H24zM26 4h1v1H26zM25 13h2v1H25zM36 14h1v1H36zM38 14h1v1H38zM26 15h1v1H26zM30 15h1v1H30zM36 15h1v1H36zM36 16h1v1H36zM27 17h1v1H27zM36 17h2v1H36zM33 18h1v1H33zM44 20h1v1H44zM34 23h1v1H34zM43 23h1v1H43zM27 24h1v1H27zM33 25h1v1H33zM42 29h1v1H42z"/><path fill="#94a071" d="M27 4h1v1H27zM23 8h1v1H23zM28 10h1v1H28zM30 11h1v1H30zM40 11h1v1H40zM42 11h1v1H42zM32 13h1v1H32zM33 14h1v1H33zM24 23h1v1H24zM25 25h1v1H25zM26 27h1v1H26zM27 29h1v1H27zM28 32h1v1H28zM35 32h1v1H35zM39 32h2v1H39zM34 33h1v1H34zM41 33h1v1H41zM34 34h1v1H34zM41 34h1v1H41zM41 35h1v1H41zM28 36h1v1H28zM41 36h1v1H41zM28 37h1v1H28zM28 38h1v1H28zM34 38h1v1H34zM42 39h1v1H42zM33 41h1v1H33zM32 42h1v1H32zM27 43h1v1H27zM42 43h1v1H42zM31 44h1v1H31zM42 44h1v1H42zM42 45h1v1H42zM31 46h1v1H31zM42 46h1v1H42zM3 47h1v1H3zM31 47h1v1H31zM7 48h1v1H7zM31 48h1v1H31zM31 49h1v1H31zM41 49h1v1H41zM32 53h1v1H32z"/><path fill="#85966d" d="M28 4h1v1H28zM28 5h1v1H28zM44 10h3v1H44zM34 11h1v1H34zM23 16h1v1H23zM23 18h1v1H23zM23 19h1v1H23zM23 23h1v1H23zM26 30h1v1H26zM27 33h1v1H27zM27 34h1v1H27zM37 34h1v1H37zM27 35h1v1H27zM36 35h1v1H36zM38 35h1v1H38zM27 36h1v1H27zM36 36h1v1H36zM38 36h1v1H38zM27 37h1v1H27zM39 37h1v1H39zM39 38h1v1H39zM35 40h1v1H35zM40 40h1v1H40zM40 41h1v1H40zM34 42h1v1H34zM40 42h1v1H40zM26 43h1v1H26zM33 43h1v1H33zM40 43h1v1H40zM40 44h1v1H40zM1 45h1v1H1zM32 45h1v1H32zM40 45h1v1H40zM4 46h1v1H4zM32 46h1v1H32zM7 47h1v1H7zM32 47h1v1H32zM39 47h1v1H39zM10 48h1v1H10zM32 48h1v1H32zM38 48h1v1H38zM12 49h1v1H12zM37 49h1v1H37zM34 50h3v1H34z"/><path fill="#758c6a" d="M29 4h2v1H29zM30 5h4v1H30zM31 6h3v1H31zM19 7h1v1H19zM30 7h3v1H30zM30 8h2v1H30zM35 8h1v1H35zM43 8h4v1H43zM22 9h1v1H22zM30 9h1v1H30zM32 10h1v1H32zM22 21h1v1H22zM22 22h1v1H22zM23 26h1v1H23zM24 28h1v1H24zM25 31h1v1H25zM25 32h1v1H25zM37 39h1v1H37zM37 40h1v1H37zM2 41h1v1H2zM2 42h1v1H2zM36 42h1v1H36zM38 43h1v1H38zM3 44h1v1H3zM24 44h1v1H24zM35 44h1v1H35zM38 44h1v1H38zM4 45h1v1H4zM24 45h1v1H24zM34 45h1v1H34zM38 45h1v1H38zM7 46h1v1H7zM24 46h1v1H24zM34 46h2v1H34zM37 46h1v1H37zM11 47h2v1H11zM14 48h1v1H14z"/><path fill="#98a372" d="M21 5h1v1H21zM27 5h1v1H27zM22 6h1v1H22zM27 6h1v1H27zM27 7h1v1H27zM27 8h1v1H27zM27 9h1v1H27zM39 11h1v1H39zM43 11h2v1H43zM31 12h1v1H31zM28 31h1v1H28zM36 31h2v1H36zM34 32h1v1H34zM29 33h5v1H29zM34 35h1v1H34zM34 36h1v1H34zM34 37h1v1H34zM42 37h1v1H42zM42 38h1v1H42zM28 39h1v1H28zM28 40h1v1H28zM33 40h1v1H33zM43 40h1v1H43zM32 41h1v1H32zM43 41h1v1H43zM43 42h1v1H43zM31 43h1v1H31zM43 43h1v1H43zM27 44h1v1H27zM27 45h1v1H27zM27 46h1v1H27zM1 47h2v1H1zM27 47h1v1H27zM42 47h1v1H42zM42 48h1v1H42zM8 49h1v1H8zM8 50h1v1H8z"/><path fill="#9ea874" d="M22 5h1v1H22zM27 10h1v1H27zM29 11h1v1H29zM38 11h1v1H38zM35 12h1v1H35zM40 12h1v1H40zM32 14h1v1H32zM33 15h1v1H33zM24 16h1v1H24zM24 19h1v1H24zM24 20h1v1H24zM37 21h4v1H37zM37 22h2v1H37zM37 23h1v1H37zM25 24h1v1H25zM37 24h1v1H37zM37 25h1v1H37zM28 30h1v1H28zM36 30h2v1H36zM34 31h1v1H34zM40 31h1v1H40zM42 33h1v1H42zM42 34h1v1H42zM31 35h3v1H31zM29 36h3v1H29zM43 36h1v1H43zM29 37h1v1H29zM43 37h1v1H43zM33 38h1v1H33zM31 39h2v1H31zM44 39h1v1H44zM31 40h1v1H31zM44 40h1v1H44zM31 41h1v1H31zM44 42h1v1H44zM28 43h1v1H28zM30 43h1v1H30zM44 43h1v1H44zM30 44h1v1H30zM30 45h1v1H30zM30 46h1v1H30zM43 46h1v1H43zM43 47h1v1H43zM1 48h5v1H1zM7 49h1v1H7zM7 50h1v1H7z"/><path fill="#afb479" d="M24 5h1v1H24zM40 15h2v1H40zM40 18h1v1H40zM37 19h2v1H37zM41 19h1v1H41zM36 20h1v1H36zM42 20h1v1H42zM25 22h1v1H25zM26 24h1v1H26zM35 24h1v1H35zM41 24h1v1H41zM27 25h1v1H27zM34 27h1v1H34zM29 28h5v1H29zM42 31h1v1H42zM44 34h1v1H44zM45 35h1v1H45zM29 47h1v1H29zM29 48h1v1H29z"/><path fill="#a2aa75" d="M23 6h1v1H23zM24 9h1v1H24zM24 10h1v1H24zM24 11h1v1H24zM37 11h1v1H37zM42 12h1v1H42zM34 14h1v1H34zM24 15h1v1H24zM24 21h1v1H24zM41 21h1v1H41zM39 22h2v1H39zM38 23h2v1H38zM38 24h1v1H38zM26 25h1v1H26zM38 25h1v1H38zM37 26h1v1H37zM27 27h1v1H27zM37 27h1v1H37zM28 29h1v1H28zM35 30h1v1H35zM38 30h2v1H38zM29 31h5v1H29zM41 31h1v1H41zM43 35h1v1H43zM32 36h2v1H32zM30 37h4v1H30zM44 37h1v1H44zM29 38h4v1H29zM44 38h1v1H44zM29 39h2v1H29zM30 40h1v1H30zM30 41h1v1H30zM30 42h1v1H30zM28 44h1v1H28zM44 44h1v1H44zM28 45h1v1H28zM44 45h1v1H44zM30 47h1v1H30zM30 48h1v1H30zM43 48h1v1H43zM6 49h1v1H6zM43 49h1v1H43zM6 50h1v1H6z"/><path fill="#abb178" d="M24 6h1v1H24zM27 11h1v1H27zM36 12h1v1H36zM38 12h1v1H38zM45 12h2v1H45zM35 13h1v1H35zM42 13h1v1H42zM31 14h1v1H31zM40 14h2v1H40zM34 15h1v1H34zM33 16h1v1H33zM39 19h2v1H39zM43 21h1v1H43zM42 22h1v1H42zM35 25h1v1H35zM35 26h1v1H35zM28 27h1v1H28zM35 27h1v1H35zM40 27h1v1H40zM34 28h1v1H34zM40 28h1v1H40zM29 29h5v1H29zM40 29h1v1H40zM44 35h1v1H44zM29 45h1v1H29zM29 46h1v1H29z"/><path fill="#b6b97b" d="M25 6h1v1H25zM25 7h1v1H25zM25 10h1v1H25zM27 12h2v1H27zM30 13h1v1H30zM39 14h1v1H39zM35 15h1v1H35zM39 15h1v1H39zM25 16h1v1H25zM39 16h1v1H39zM40 17h1v1H40zM38 18h1v1H38zM36 19h1v1H36zM25 20h1v1H25zM25 21h1v1H25zM45 21h1v1H45zM35 22h1v1H35zM43 22h1v1H43zM42 23h1v1H42zM34 25h1v1H34zM29 27h5v1H29z"/><path fill="#9ba573" d="M23 7h1v1H23zM36 11h1v1H36zM45 11h2v1H45zM41 12h1v1H41zM34 13h1v1H34zM24 17h1v1H24zM24 18h1v1H24zM24 22h1v1H24zM26 26h1v1H26zM27 28h1v1H27zM35 31h1v1H35zM38 31h2v1H38zM29 32h5v1H29zM41 32h1v1H41zM29 34h5v1H29zM29 35h2v1H29zM42 35h1v1H42zM42 36h1v1H42zM43 38h1v1H43zM33 39h1v1H33zM43 39h1v1H43zM32 40h1v1H32zM28 41h1v1H28zM44 41h1v1H44zM28 42h1v1H28zM31 42h1v1H31zM43 44h1v1H43zM43 45h1v1H43zM6 48h1v1H6zM42 49h1v1H42z"/><path fill="#a8af77" d="M24 7h1v1H24zM26 10h1v1H26zM44 12h1v1H44zM40 13h1v1H40zM32 15h1v1H32zM37 20h1v1H37zM41 20h1v1H41zM36 21h1v1H36zM36 22h1v1H36zM36 23h1v1H36zM41 23h1v1H41zM40 25h1v1H40zM39 26h2v1H39zM39 27h1v1H39zM35 28h1v1H35zM39 28h1v1H39zM34 29h2v1H34zM38 29h2v1H38zM41 30h1v1H41zM42 32h1v1H42zM43 33h1v1H43zM29 43h1v1H29zM29 44h1v1H29zM44 48h1v1H44zM44 49h1v1H44z"/><path fill="#bdbe7d" d="M25 12h1v1H25zM36 13h1v1H36zM38 13h1v1H38zM45 13h2v1H45zM25 14h1v1H25zM30 14h1v1H30zM43 14h1v1H43zM38 15h1v1H38zM26 16h1v1H26zM38 16h1v1H38zM32 17h1v1H32zM35 17h1v1H35zM38 17h1v1H38zM26 18h1v1H26zM34 18h2v1H34zM35 19h1v1H35zM44 22h1v1H44zM34 24h1v1H34zM42 24h1v1H42zM28 25h1v1H28zM29 26h4v1H29zM43 31h1v1H43zM44 32h1v1H44z"/><path fill="#4f7360" d="M17 13h5v1H17zM17 14h5v1H17zM17 15h3v1H17zM17 16h2v1H17zM14 17h5v1H14zM17 18h2v1H17zM11 19h1v1H11zM19 19h2v1H19zM19 20h1v1H19zM18 22h1v1H18zM18 23h1v1H18zM18 24h1v1H18zM17 25h1v1H17zM18 26h1v1H18zM20 27h1v1H20zM5 32h1v1H5zM5 33h1v1H5zM22 33h1v1H22zM4 34h2v1H4zM4 35h1v1H4zM4 36h1v1H4zM21 36h1v1H21zM4 37h1v1H4zM21 37h1v1H21zM20 38h2v1H20zM5 39h1v1H5zM19 39h3v1H19zM5 40h1v1H5zM16 40h6v1H16zM6 41h1v1H6zM12 41h10v1H12zM8 42h1v1H8zM10 42h3v1H10zM15 42h6v1H15zM10 43h1v1H10zM16 43h3v1H16zM16 44h3v1H16zM17 45h1v1H17z"/><path fill="#c4c37f" d="M27 13h1v1H27zM26 14h1v1H26zM27 15h1v1H27zM27 16h1v1H27zM30 16h1v1H30zM37 16h1v1H37zM42 16h1v1H42zM31 17h1v1H31zM42 18h1v1H42zM26 19h1v1H26zM34 19h1v1H34zM43 19h1v1H43zM45 22h1v1H45zM32 25h1v1H32zM42 26h1v1H42zM42 27h1v1H42zM42 28h1v1H42zM45 32h1v1H45z"/><path fill="#c8c680" d="M28 13h2v1H28zM37 13h1v1H37zM27 14h1v1H27zM37 14h1v1H37zM44 14h1v1H44zM37 15h1v1H37zM43 15h1v1H43zM32 18h1v1H32zM34 20h1v1H34zM45 20h1v1H45zM26 22h1v1H26zM34 22h1v1H34zM33 24h1v1H33zM29 25h3v1H29zM42 25h1v1H42zM43 30h1v1H43z"/><path fill="#ccc881" d="M28 14h2v1H28zM45 14h2v1H45zM28 15h1v1H28zM28 16h1v1H28zM28 17h1v1H28zM30 17h1v1H30zM42 17h1v1H42zM27 18h1v1H27zM33 19h1v1H33zM26 20h1v1H26zM34 21h1v1H34zM44 31h1v1H44z"/><path fill="#4b705f" d="M20 15h2v1H20zM19 16h3v1H19zM19 17h2v1H19zM13 18h4v1H13zM19 18h3v1H19zM12 19h1v1H12zM15 19h4v1H15zM11 20h1v1H11zM17 20h2v1H17zM18 21h1v1H18zM17 23h1v1H17zM16 24h2v1H16zM15 25h2v1H15zM16 26h2v1H16zM18 27h2v1H18zM20 28h2v1H20zM5 31h2v1H5zM6 32h1v1H6zM6 33h1v1H6zM6 34h1v1H6zM21 34h1v1H21zM5 35h2v1H5zM21 35h1v1H21zM5 36h1v1H5zM20 36h1v1H20zM18 37h3v1H18zM5 38h2v1H5zM17 38h3v1H17zM6 39h2v1H6zM15 39h4v1H15zM6 40h3v1H6zM11 40h5v1H11zM7 41h2v1H7zM10 41h2v1H10zM9 42h1v1H9z"/><path fill="#d3cd83" d="M44 15h1v1H44zM43 16h1v1H43zM31 18h1v1H31zM43 18h1v1H43zM44 19h1v1H44zM33 23h1v1H33zM32 24h1v1H32zM43 29h1v1H43zM45 31h1v1H45z"/><path fill="#dad285" d="M45 15h2v1H45zM30 18h1v1H30zM45 19h1v1H45zM33 22h1v1H33zM43 25h1v1H43zM43 26h1v1H43z"/><path fill="#dfd686" d="M44 16h1v1H44zM29 18h1v1H29zM44 18h1v1H44zM32 23h1v1H32zM44 29h1v1H44z"/><path fill="#e5da88" d="M45 16h2v1H45zM28 19h1v1H28zM32 20h1v1H32zM27 22h1v1H27zM29 24h1v1H29zM45 24h1v1H45zM44 27h1v1H44z"/><path fill="#476d5e" d="M21 17h1v1H21zM13 19h2v1H13zM12 20h1v1H12zM15 20h2v1H15zM10 21h1v1H10zM17 21h1v1H17zM16 22h2v1H16zM15 23h2v1H15zM14 24h2v1H14zM13 25h2v1H13zM14 26h2v1H14zM7 27h1v1H7zM16 27h2v1H16zM6 28h4v1H6zM18 28h2v1H18zM6 29h5v1H6zM21 29h1v1H21zM6 30h4v1H6zM21 30h1v1H21zM7 31h2v1H7zM21 31h1v1H21zM7 32h1v1H7zM21 32h1v1H21zM7 33h1v1H7zM21 33h1v1H21zM7 34h2v1H7zM20 34h1v1H20zM7 35h2v1H7zM19 35h2v1H19zM6 36h4v1H6zM18 36h2v1H18zM5 37h6v1H5zM16 37h2v1H16zM7 38h5v1H7zM15 38h2v1H15zM8 39h7v1H8zM9 40h2v1H9zM9 41h1v1H9z"/><path fill="#ddd486" d="M43 17h1v1H43zM33 21h1v1H33zM31 24h1v1H31zM44 24h1v1H44zM45 30h1v1H45z"/><path fill="#ebde8a" d="M44 17h1v1H44zM27 21h1v1H27zM32 22h1v1H32zM44 25h1v1H44zM45 28h1v1H45z"/><path fill="#f0e28b" d="M45 17h2v1H45zM29 19h1v1H29zM32 21h1v1H32zM31 23h1v1H31zM45 26h1v1H45z"/><path fill="#d7d084" d="M28 18h1v1H28zM27 19h1v1H27zM32 19h1v1H32zM33 20h1v1H33zM27 23h1v1H27zM45 23h1v1H45zM28 24h1v1H28zM43 27h1v1H43zM43 28h1v1H43zM44 30h1v1H44z"/><path fill="#e2d887" d="M31 19h1v1H31zM27 20h1v1H27zM30 24h1v1H30zM44 28h1v1H44z"/><path fill="#426a5d" d="M13 20h2v1H13zM11 21h2v1H11zM14 21h3v1H14zM10 22h6v1H10zM9 23h6v1H9zM8 24h6v1H8zM8 25h1v1H8zM11 25h2v1H11zM7 26h7v1H7zM8 27h8v1H8zM10 28h8v1H10zM11 29h2v1H11zM19 29h2v1H19zM10 30h2v1H10zM19 30h2v1H19zM9 31h3v1H9zM19 31h2v1H19zM8 32h2v1H8zM20 32h1v1H20zM8 33h1v1H8zM20 33h1v1H20zM9 34h1v1H9zM19 34h1v1H19zM9 35h3v1H9zM18 35h1v1H18zM10 36h2v1H10zM15 36h3v1H15zM11 37h2v1H11zM14 37h2v1H14zM12 38h3v1H12z"/><path fill="#f4e189" d="M28 20h1v1H28zM31 20h1v1H31z"/><path fill="#f6d47d" d="M30 20h1v1H30zM28 21h1v1H28zM31 21h1v1H31z"/><path fill="#3e675c" d="M13 21h1v1H13zM9 25h2v1H9zM13 29h6v1H13zM12 30h7v1H12zM12 31h5v1H12zM18 31h1v1H18zM10 32h6v1H10zM18 32h2v1H18zM9 33h6v1H9zM18 33h2v1H18zM10 34h9v1H10zM12 35h6v1H12zM12 36h3v1H12zM13 37h1v1H13z"/><path fill="#f9c671" d="M29 21h2v1H29zM29 22h2v1H29z"/><path fill="#f6d780" d="M28 22h1v1H28zM31 22h1v1H31zM29 23h1v1H29z"/><path fill="#f5da83" d="M30 23h1v1H30z"/><path fill="#f3e48c" d="M45 25h1v1H45z"/><path fill="#3b655b" d="M17 31h1v1H17zM16 32h2v1H16zM15 33h3v1H15z"/></g><g transform="translate(1033.5 628.5)"><path d="M0 0 L0 62.7" stroke="#000" stroke-width="1.15"/><path d="M0 0 L6.7 21.6 L6.4 22.6 L0.3 19.9 Z" fill="#000"/><text x="-0.8" y="55" font-family="'Liberation Serif', serif" font-size="33.5" text-anchor="middle" fill="#000">N</text></g><g transform="translate(1032.4 1152.2)"><path d="M0 0.5H108.4" stroke="#8a8a8a" stroke-width="1.2"/><path d="M0 -14V0" stroke="#efefef" stroke-width="1"/><path d="M72.2 -6.5V0" stroke="#333" stroke-width="1.2"/><path d="M108.4 -15V0.8" stroke="#777" stroke-width="1.2"/><text x="118" y="4" font-family="'Liberation Serif', serif" font-size="31" fill="#000">60 m</text></g><defs><linearGradient id="cb" x1="0" x2="1" y1="0" y2="0"><stop offset="0.0000" stop-color="#1e5452"/><stop offset="0.0833" stop-color="#3e675c"/><stop offset="0.1667" stop-color="#698567"/><stop offset="0.2500" stop-color="#919e70"/><stop offset="0.3333" stop-color="#b2b67a"/><stop offset="0.4167" stop-color="#d7d084"/><stop offset="0.5000" stop-color="#f3e48c"/><stop offset="0.5833" stop-color="#fac36e"/><stop offset="0.6667" stop-color="#fba355"/><stop offset="0.7500" stop-color="#fa8741"/><stop offset="0.8333" stop-color="#f6692d"/><stop offset="0.9167" stop-color="#f04119"/><stop offset="1.0000" stop-color="#e80f0a"/></linearGradient></defs><rect x="518.3" y="1200" width="495" height="31.6" fill="url(#cb)"/><path d="M518.3 1200.5H1013.3" stroke="#858585" stroke-width="1"/><path d="M518.8 1200.5V1231.1H1012.8V1200.5" fill="none" stroke="#333" stroke-width="1"/><path d="M683.5 1200.5v6M683.5 1231.1v-6" stroke="#333" stroke-width="1.2"/><path d="M848.1 1200.5v6M848.1 1231.1v-6" stroke="#333" stroke-width="1.2"/><text x="518.8" y="1282" font-family="'Liberation Serif', serif" font-size="41" text-anchor="middle">0.0</text><text x="683.5" y="1282" font-family="'Liberation Serif', serif" font-size="41" text-anchor="middle">10.0</text><text x="848.1" y="1282" font-family="'Liberation Serif', serif" font-size="41" text-anchor="middle">20.0</text><text x="1012.8" y="1282" font-family="'Liberation Serif', serif" font-size="41" text-anchor="middle">30.0</text><text x="630.5" y="1367.7" font-family="'Liberation Serif', serif" font-size="48">EC<tspan font-size="34" dy="8">a</tspan></text><text x="0" y="0" font-family="'Liberation Serif', serif" font-size="48" transform="translate(716 1367.7) scale(1 1.18)">(</text><text x="737" y="1367.7" font-family="'Liberation Serif', serif" font-size="48">mS m<tspan font-size="34" dy="-18">−1</tspan></text><text x="0" y="0" font-family="'Liberation Serif', serif" font-size="48" transform="translate(884.5 1367.7) scale(1 1.18)">)</text></svg></body></html>
